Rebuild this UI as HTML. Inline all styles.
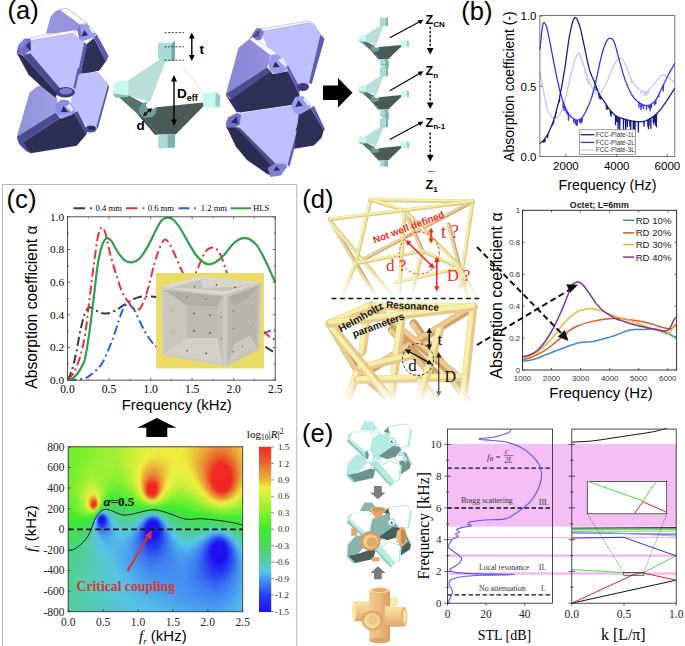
<!DOCTYPE html>
<html><head><meta charset='utf-8'><style>
html,body{margin:0;padding:0;background:#fff;width:685px;height:646px;overflow:hidden}
svg{display:block;font-family:"Liberation Sans",sans-serif}
</style></head><body>
<svg width='685' height='646' viewBox='0 0 685 646'>
<rect width='685' height='646' fill='#fff'/>
<text x='7.5' y='19.3' font-family='Liberation Sans, sans-serif' font-size='25.5' font-weight='normal' text-anchor='start' fill='#000' >(a)</text>
<polygon points='46.0,33.4 50.6,16.5 55.0,11.5 59.3,9.5 79.9,24.7 76.7,30.5 55.0,33.2' fill='#9694de' />
<polygon points='59.3,9.5 66.9,8.2 87.5,23.2 79.9,24.7' fill='#f8f8ff' stroke='#8a8aa8' stroke-width='0.5'/>
<polygon points='86.0,44.5 94.0,38.0 105.9,61.3 99.4,70.5 80.5,75.0' fill='#2e3058' />
<polygon points='94.0,37.5 96.7,34.2 108.6,55.9 105.9,62.4' fill='#5c5cb0' />
<polygon points='80.5,73.4 98.3,71.8 108.1,84.2 96.7,126.5 87.5,126.5 74.5,112.9 70.2,103.7 73.4,89.7 78.3,74.0' fill='#c0c0fe' />
<polygon points='108.1,84.2 109.2,87.0 97.8,128.7 96.2,127.0' fill='#5c5cb0' />
<defs><linearGradient id='llg' x1='0' x2='1'><stop offset='0' stop-color='#9090da'/><stop offset='1' stop-color='#a0a0e6'/></linearGradient></defs>
<polygon points='29.5,92.6 37.7,86.2 41.5,85.6 56.5,96.8 57.5,100.2 55.8,112.4 23.7,138.1 16.7,137.0' fill='url(#llg)' />
<polygon points='16.7,137.0 55.8,112.4 59.9,118.3 23.1,142.2' fill='#4e4c90' />
<polygon points='23.1,142.2 59.9,118.3 73.9,113.0 86.7,134.1 76.8,145.7 30.7,153.3 26.0,148.6' fill='#2c2e56' />
<polygon points='73.9,113.0 77.4,111.3 87.9,131.7 85.6,134.1' fill='#4e4c90' />
<polygon points='16.7,137.0 23.1,140.5 27.2,148.6 30.7,153.3 26.0,151.0 19.0,144.0' fill='#4a4aa0' />
<polygon points='30.5,40.0 72.1,32.6 84.2,41.8 78.3,74.3 74.4,88.5 60.3,88.4 30.1,53.1' fill='#c0c0fe' />
<polygon points='29.8,37.8 74.0,30.0 76.1,32.8 30.8,40.6' fill='#f8f8ff' stroke='#8a8aa8' stroke-width='0.4'/>
<polygon points='84.2,41.8 87.0,45.6 80.5,74.3 77.7,74.3' fill='#5c5cb0' />
<polygon points='77.7,68.0 80.1,68.0 75.6,88.6 73.2,88.6' fill='#5c5cb0' />
<polygon points='30.1,53.1 60.3,88.4 57.8,93.4 22.6,55.6' fill='#4e4c90' />
<polygon points='22.6,55.6 57.8,93.4 55.3,97.4 41.2,86.3 28.6,74.8 16.5,52.6' fill='#2a2c52' />
<polygon points='16.5,52.6 18.5,45.0 24.5,38.5 30.5,38.8 31.0,50.0 24.0,55.5' fill='#6c6cc8' />
<polygon points='18.5,45.0 24.5,38.5 27.0,41.0 21.5,50.0' fill='#8484dc' />
<polygon points='26.0,46.0 30.5,41.0 30.5,51.0' fill='#30306c' />
<polygon points='77.2,29.4 79.9,24.5 87.5,24.0 96.2,33.7 94.0,37.5 82.6,41.3 79.4,38.6' fill='#9a9aea'/>
<polygon points='81.5,36.4 84.2,29.9 88.0,35.3' fill='#28285c'/>
<polygon points='88.5,27.5 91.5,26.5 95.0,32.5 92.5,33.5' fill='#e6e6ff'/>
<polygon points='77.2,29.4 79.9,24.5 81.5,36.4 79.4,38.6' fill='#7474d4'/>
<ellipse cx='65.3' cy='92.3' rx='9.6' ry='5.2' fill='#3c3c80'/>
<ellipse cx='65.8' cy='91.2' rx='6.5' ry='3.2' fill='#7c7cd0'/>
<polygon points='55.8,103.7 61.1,99.6 68.1,100.2 75.1,109.5 72.7,114.2 61.1,118.9 55.8,112.4' fill='#8c8ce4'/>
<polygon points='61.1,111.9 63.4,106.0 68.1,111.9' fill='#28285c'/>
<polygon points='65.7,106.6 69.8,103.7 73.9,109.5 71.6,111.9' fill='#e6e6ff'/>
<polygon points='58.1,114.8 71.6,113.0 72.7,114.8 61.1,118.3' fill='#a4a4f0' />
<ellipse cx='90.7' cy='129' rx='6' ry='3.6' fill='#4c4c98'/>
<ellipse cx='91.5' cy='128' rx='3.8' ry='2' fill='#2a2a60'/>
<polygon points='260.5,30.5 309.5,22.3 313.9,23.5 320.5,33.4 323.8,37.8 310.6,83.9 300.0,88.0 288.0,71.3 270.3,55.0' fill='#c0c0fe' />
<polygon points='259.5,29.2 309.5,20.6 310.5,22.6 261.5,31.5' fill='#f8f8ff' stroke='#8a8aa8' stroke-width='0.4'/>
<polygon points='320.5,34.5 324.5,38.9 311.7,83.9 309.1,82.8' fill='#5c5cb0' />
<polygon points='249.3,39.0 256.3,28.2 260.7,28.2 263.9,32.0 261.4,39.6 253.7,41.5' fill='#7878cc' />
<polygon points='252.5,37.0 256.9,30.7 259.8,30.7 258.6,36.8' fill='#4a4a96' />
<polygon points='231.5,96.7 267.1,67.5 272.8,73.9 288.0,71.3 299.5,94.2 298.0,104.0 240.0,112.5 229.6,100.0' fill='#2e3058' />
<polygon points='286.1,66.3 288.0,65.6 300.7,89.1 298.8,94.2' fill='#5c5cb0' />
<defs><linearGradient id='rlg' x1='0' x2='1'><stop offset='0' stop-color='#8884d4'/><stop offset='1' stop-color='#9490de'/></linearGradient></defs>
<polygon points='238.5,47.8 249.3,39.0 270.3,54.8 267.1,67.5 231.5,96.7 225.8,94.2' fill='url(#rlg)' />
<polygon points='249.3,39.0 252.5,37.2 277.9,53.8 270.3,55.3' fill='#f8f8ff' stroke='#8a8aa8' stroke-width='0.4'/>
<polygon points='225.8,94.2 267.1,67.5 270.5,71.5 231.5,99.5' fill='#4e4c90' />
<polygon points='224.9,93.8 230.8,99.7 238.2,107.1 241.1,112.2 236.7,112.2 232.3,105.6' fill='#303070' />
<polygon points='267.7,62.4 270.9,55.5 277.9,54.2 288.0,65.6 286.1,71.3 275.3,73.9 270.3,71.3' fill='#9c9cec'/>
<polygon points='272.8,67.5 275.3,61.8 279.8,66.9' fill='#28285c'/>
<polygon points='277.9,59.9 283.0,57.4 287.4,65.0 284.9,66.9' fill='#e6e6ff'/>
<ellipse cx='303' cy='87' rx='6' ry='4' fill='#3c3c80'/>
<polygon points='241.1,112.9 291.1,105.6 300.7,116.6 287.4,165.1 274.9,163.7 239.6,127.6 238.2,121.8' fill='#c0c0fe' />
<polygon points='300.7,116.6 302.4,118.1 289.6,166.6 287.4,165.1' fill='#5c5cb0' />
<polygon points='298.5,114.6 310.6,108.0 323.8,130.0 321.6,137.7 313.9,145.4 294.2,148.7 298.5,116.8' fill='#2e3058' />
<polygon points='310.6,108.0 313.9,105.8 324.9,128.9 323.8,131.1' fill='#5c5cb0' />
<polygon points='291.1,105.6 302.0,105.6 302.0,129.1 295.5,130.6 300.7,116.6' fill='#2e3058' />
<polygon points='225.7,125.4 236.7,127.6 274.9,163.7 270.5,175.4 266.1,173.2 247.0,160.0 236.0,146.8' fill='#2a2c52' />
<polygon points='236.0,126.9 239.6,127.6 275.7,163.7 272.7,167.4' fill='#4e4c90' />
<polygon points='225.7,124.0 227.9,117.4 236.7,112.9 241.1,114.4 239.6,124.7 235.2,127.6 227.9,127.6' fill='#7070cc' />
<polygon points='230.8,122.5 236.7,116.6 238.2,124.0' fill='#2a2a5e' />
<polygon points='267.6,168.1 274.2,163.7 285.2,163.7 287.4,166.6 280.8,175.4 270.5,176.9' fill='#8080d4' />
<polygon points='273.5,171.0 276.4,165.9 280.1,170.3' fill='#2a2a5e' />
<polygon points='290.9,105.8 295.3,97.1 302.9,96.0 310.6,104.7 309.5,109.1 299.6,114.6 294.2,112.4' fill='#9c9cec'/>
<polygon points='295.3,106.9 298.5,100.3 302.9,105.8' fill='#28285c'/>
<polygon points='302.9,99.2 306.2,97.5 310.6,104.7 307.8,105.8' fill='#e6e6ff'/>
<defs><g id="ucell"><polygon points='165.2,60.1 177.1,60.1 203.7,93.2 203.7,103.6 154.1,108.2 149.3,102.0' fill='#ffffff' stroke='#9a9a9a' stroke-width='0.3'/><polygon points='159.8,59.3 125.5,82.3 128.4,95.7 150.0,102.0 166.0,60.1' fill='#b8e0d8' /><polygon points='151.4,107.8 203.7,102.6 203.7,106.1 175.7,134.6 157.7,134.6 144.3,118.3' fill='#4a5a56' /><polygon points='113.4,92.1 128.4,95.3 151.4,107.4 144.3,118.3 136.4,113.0' fill='#5a706c' /><polygon points='136.4,113.0 144.3,118.3 157.7,134.6 155.2,135.0' fill='#3e4e4a' /><ellipse cx='147.9' cy='109.9' rx='8.8' ry='7.9' fill='#6e9c96' /><ellipse cx='151.4' cy='105.3' rx='5.4' ry='3.8' fill='#ffffff' /><polygon points='158.3,43.4 162.5,40.9 175.0,40.9 175.0,60.8 162.5,60.8 158.3,58.1' fill='#8ec8c0' /><polygon points='158.3,43.4 162.5,40.9 175.0,40.9 171.5,43.4' fill='#e4fbf8' /><polygon points='158.3,43.4 171.5,43.4 171.5,60.8 159.8,60.1' fill='#a6dcd4' /><polygon points='171.5,43.4 175.0,40.9 175.0,59.3 171.5,60.8' fill='#78aca6' /><polygon points='113.4,82.7 125.9,80.6 128.4,82.7 128.4,95.7 115.5,96.9 112.9,93.2' fill='#c8f8f2' /><polygon points='112.9,93.2 128.4,95.7 128.4,96.9 115.5,97.8' fill='#84beb6' /><polygon points='202.2,93.6 215.8,92.1 220.4,95.7 219.6,107.8 203.7,107.4' fill='#c8f8f2' /><polygon points='215.8,92.1 220.4,95.7 219.6,107.8 215.4,105.7' fill='#92ccc4' /><polygon points='158.3,134.6 175.0,134.6 175.0,147.5 158.3,148.6' fill='#a6dcd4' /><polygon points='167.7,134.6 175.0,134.6 175.0,147.5 167.7,148.0' fill='#7cb4ac' /></g></defs>
<use href='#ucell'/>
<g stroke='#333' stroke-width='0.9' stroke-dasharray='2.2 1.4' fill='none'>
<line x1='164.5' y1='32.6' x2='184' y2='32.6'/><line x1='164.5' y1='46.8' x2='184' y2='46.8'/><line x1='164.5' y1='60.2' x2='184' y2='60.2'/>
</g>
<g stroke='#000' stroke-width='1.4'>
<line x1='191.8' y1='36' x2='191.8' y2='58'/>
<line x1='174' y1='79' x2='174' y2='122'/>
<line x1='144.5' y1='114.5' x2='150.5' y2='109.5'/>
</g>
<polygon points='191.8,32.6 188.9,38.5 194.7,38.5' fill='#000'/><polygon points='191.8,61 188.9,55 194.7,55' fill='#000'/>
<polygon points='174,75 171,81.5 177,81.5' fill='#000'/><polygon points='174,126 171,119.5 177,119.5' fill='#000'/>
<polygon points='143,116 144.5,111.8 147.3,115.2' fill='#000'/><polygon points='152,108.2 147.7,109 150.6,112.4' fill='#000'/>
<text x='199.5' y='53.5' font-family='Liberation Sans, sans-serif' font-size='13.5' font-weight='bold' text-anchor='start' fill='#000' >t</text>
<text x='177' y='97.8' font-family='Liberation Sans, sans-serif' font-size='13.5' font-weight='bold'>D<tspan font-size='9' dy='3'>eff</tspan></text>
<text x='136.6' y='129.8' font-family='Liberation Sans, sans-serif' font-size='13.5' font-weight='bold' text-anchor='start' fill='#000' >d</text>
<polygon points='323,85.5 338,85.5 338,78 352.5,92.7 338,107.5 338,100 323,100' fill='#000'/>
<use href='#ucell' transform='translate(305.8,-1.5) scale(0.469,0.452)'/>
<use href='#ucell' transform='translate(305.8,48.7) scale(0.469,0.452)'/>
<use href='#ucell' transform='translate(305.8,99.7) scale(0.469,0.452)'/>
<rect x='381.6' y='60.5' width='7' height='8' fill='#a6dcd4'/><rect x='385.5' y='60.5' width='3' height='8' fill='#7cb4ac'/>
<line x1='381.6' y1='64.5' x2='388.6' y2='64.5' stroke='#5a8a84' stroke-width='0.4'/>
<rect x='381.6' y='111.5' width='7' height='8' fill='#a6dcd4'/><rect x='385.5' y='111.5' width='3' height='8' fill='#7cb4ac'/>
<line x1='381.6' y1='115.5' x2='388.6' y2='115.5' stroke='#5a8a84' stroke-width='0.4'/>
<line x1='389.8' y1='37.8' x2='420' y2='21.599999999999998' stroke='#000' stroke-width='1.1'/>
<polygon points='423.5,19.7 417.6,20.2 420.3,24.299999999999997' fill='#000'/>
<line x1='389.8' y1='90.8' x2='420' y2='73.2' stroke='#000' stroke-width='1.1'/>
<polygon points='423.5,71.3 417.6,71.8 420.3,75.89999999999999' fill='#000'/>
<line x1='389.8' y1='139.5' x2='420' y2='123.30000000000001' stroke='#000' stroke-width='1.1'/>
<polygon points='423.5,121.4 417.6,121.9 420.3,126.0' fill='#000'/>
<text x='425.5' y='24' font-family='Liberation Sans, sans-serif' font-size='12.5' font-weight='bold'>Z<tspan font-size='8' dy='2.5'>CN</tspan></text>
<text x='425.5' y='75' font-family='Liberation Sans, sans-serif' font-size='12.5' font-weight='bold'>Z<tspan font-size='8' dy='2.5'>n</tspan></text>
<text x='425.5' y='126.5' font-family='Liberation Sans, sans-serif' font-size='12.5' font-weight='bold'>Z<tspan font-size='8' dy='2.5'>n-1</tspan></text>
<text x='425.5' y='189' font-family='Liberation Sans, sans-serif' font-size='12.5' font-weight='bold'>Z<tspan font-size='8' dy='2.5'>1</tspan></text>
<text x='428' y='172' font-family='Liberation Sans, sans-serif' font-size='8' font-weight='bold' text-anchor='start' fill='#000' >...</text>
<line x1='430.2' y1='26.7' x2='430.2' y2='48' stroke='#000' stroke-width='1.3' stroke-dasharray='2.6 1.6'/>
<polygon points='430.2,54.5 426.8,48 433.6,48' fill='#000'/>
<line x1='430.2' y1='81' x2='430.2' y2='102.5' stroke='#000' stroke-width='1.3' stroke-dasharray='2.6 1.6'/>
<polygon points='430.2,109.0 426.8,102.5 433.6,102.5' fill='#000'/>
<line x1='430.2' y1='132.5' x2='430.2' y2='155' stroke='#000' stroke-width='1.3' stroke-dasharray='2.6 1.6'/>
<polygon points='430.2,161.5 426.8,155 433.6,155' fill='#000'/>
<text x='461.3' y='19.6' font-family='Liberation Sans, sans-serif' font-size='25.5' font-weight='normal' text-anchor='start' fill='#000' >(b)</text>
<text transform='translate(514.3,86.5) rotate(-90)' font-family='Liberation Sans, sans-serif' font-size='13.9' text-anchor='middle'>Absorption coefficient (-)</text>
<text x='607.5' y='189.5' font-family='Liberation Sans, sans-serif' font-size='14.2' font-weight='normal' text-anchor='middle' fill='#000' >Frequency (Hz)</text>
<text x='536.5' y='20.3' font-family='Liberation Sans, sans-serif' font-size='11.5' font-weight='normal' text-anchor='end' fill='#000' >1.0</text>
<text x='536.5' y='90.5' font-family='Liberation Sans, sans-serif' font-size='11.5' font-weight='normal' text-anchor='end' fill='#000' >0.5</text>
<text x='536.5' y='160.7' font-family='Liberation Sans, sans-serif' font-size='11.5' font-weight='normal' text-anchor='end' fill='#000' >0.0</text>
<text x='565.9' y='169.5' font-family='Liberation Sans, sans-serif' font-size='11.5' font-weight='normal' text-anchor='middle' fill='#000' >2000</text>
<text x='616.7' y='169.5' font-family='Liberation Sans, sans-serif' font-size='11.5' font-weight='normal' text-anchor='middle' fill='#000' >4000</text>
<text x='667.4' y='169.5' font-family='Liberation Sans, sans-serif' font-size='11.5' font-weight='normal' text-anchor='middle' fill='#000' >6000</text>
<g fill='none' stroke-width='1.3' stroke-linejoin='round'>
<path d='M539.9,71.8 L540.1,72.8 L540.3,74.0 L540.6,75.5 L540.9,77.1 L541.2,78.8 L541.5,80.7 L541.9,82.6 L542.2,84.5 L542.6,86.4 L543.0,88.3 L543.3,90.0 L543.6,91.7 L543.9,93.2 L544.2,94.8 L544.5,96.4 L544.8,97.9 L545.1,99.5 L545.4,101.0 L545.7,102.5 L546.0,103.9 L546.3,105.3 L546.6,106.6 L547.0,107.9 L547.3,109.0 L547.7,110.0 L548.1,111.0 L548.5,112.0 L548.9,112.8 L549.3,113.6 L549.7,114.4 L550.2,115.1 L550.6,115.7 L551.0,116.3 L551.4,116.8 L551.9,117.3 L552.3,117.7 L552.7,118.0 L553.1,118.3 L553.5,118.5 L553.9,118.6 L554.3,118.7 L554.8,118.7 L555.2,118.7 L555.6,118.6 L556.0,118.5 L556.4,118.3 L556.8,118.0 L557.2,117.7 L557.6,117.3 L558.1,116.8 L558.5,116.3 L558.9,115.7 L559.3,115.1 L559.7,114.4 L560.1,113.6 L560.5,112.8 L560.9,112.0 L561.4,111.0 L561.8,110.0 L562.2,109.0 L562.6,107.9 L563.0,106.7 L563.4,105.4 L563.8,104.0 L564.2,102.6 L564.7,101.2 L565.1,99.7 L565.5,98.1 L565.9,96.5 L566.3,94.9 L566.7,93.3 L567.1,91.7 L567.5,90.0 L567.9,88.2 L568.3,86.3 L568.7,84.4 L569.1,82.4 L569.5,80.4 L569.9,78.5 L570.3,76.5 L570.8,74.6 L571.2,72.8 L571.6,71.0 L572.1,69.4 L572.6,67.7 L573.1,66.0 L573.6,64.3 L574.1,62.5 L574.6,60.8 L575.2,59.2 L575.7,57.7 L576.3,56.4 L576.8,55.2 L577.3,54.3 L577.8,53.6 L578.3,53.3 L578.7,53.2 L579.2,53.5 L579.6,54.1 L580.0,54.8 L580.2,58.2 L580.3,54.8 L580.4,55.8 L580.8,56.9 L581.2,58.1 L581.6,59.4 L581.8,61.0 L581.9,59.4 L582.0,60.7 L582.4,62.0 L582.6,64.4 L582.7,62.0 L582.8,63.3 L583.2,64.4 L583.6,65.5 L584.1,66.7 L584.5,68.0 L584.9,69.3 L585.0,73.0 L585.2,69.3 L585.3,70.6 L585.7,71.9 L586.1,73.2 L586.5,74.6 L586.9,75.8 L587.1,80.0 L587.2,75.8 L587.4,77.0 L587.8,78.2 L588.2,79.3 L588.3,83.8 L588.5,79.3 L588.6,80.3 L589.0,81.3 L589.4,82.2 L589.8,83.1 L590.2,84.0 L590.7,84.8 L591.1,85.7 L591.5,86.4 L591.9,87.2 L592.3,87.9 L592.7,88.5 L593.1,89.2 L593.5,89.8 L594.0,90.4 L594.4,91.0 L594.8,91.6 L595.2,92.1 L595.6,92.6 L596.0,93.0 L596.4,93.4 L596.8,93.7 L597.3,93.9 L597.7,94.1 L598.1,94.1 L598.5,94.1 L598.9,93.9 L599.3,93.7 L599.7,93.4 L600.1,93.0 L600.6,92.6 L601.0,92.1 L601.4,91.6 L601.8,91.0 L602.2,90.4 L602.6,89.8 L603.0,89.2 L603.4,88.5 L603.8,87.9 L604.2,87.2 L604.6,86.4 L605.0,85.7 L605.4,84.8 L605.8,84.0 L606.2,83.1 L606.7,82.2 L607.1,81.3 L607.5,80.3 L608.0,79.3 L608.5,78.2 L608.9,77.0 L609.4,75.7 L610.0,74.4 L610.5,73.0 L611.0,71.6 L611.5,70.2 L612.1,68.9 L612.6,67.6 L613.1,66.5 L613.7,65.4 L614.2,64.4 L614.7,63.6 L615.2,62.7 L615.8,62.0 L616.3,61.3 L616.8,60.6 L617.4,60.0 L617.9,59.5 L618.4,59.1 L618.9,58.7 L619.4,58.4 L619.9,58.3 L620.4,58.2 L620.8,58.3 L621.3,58.4 L621.7,58.7 L622.1,59.1 L622.5,59.5 L622.8,60.0 L623.2,60.6 L623.6,61.3 L624.0,62.0 L624.4,62.7 L624.9,63.6 L625.3,64.4 L625.8,65.4 L626.3,66.5 L626.8,67.6 L627.2,68.9 L627.7,70.2 L628.3,71.6 L628.8,73.0 L629.3,74.4 L629.8,75.7 L630.4,77.0 L630.9,78.2 L631.1,79.8 L631.2,78.2 L631.5,79.3 L631.7,83.2 L631.8,79.3 L632.1,80.3 L632.7,81.3 L633.3,82.3 L633.9,83.2 L634.5,84.1 L635.1,85.0 L635.8,85.8 L636.4,86.6 L637.1,87.3 L637.7,88.0 L638.3,88.6 L638.9,89.2 L639.6,89.7 L640.2,90.1 L640.8,90.6 L640.9,94.2 L641.1,90.6 L641.4,90.9 L642.0,91.2 L642.7,91.5 L643.3,91.7 L643.9,91.8 L644.0,95.4 L644.2,91.8 L644.5,91.9 L645.1,91.9 L645.7,91.8 L645.9,95.4 L646.0,91.8 L646.4,91.7 L647.0,91.4 L647.1,94.8 L647.3,91.4 L647.6,91.0 L648.2,90.5 L648.4,92.5 L648.5,90.5 L648.8,90.0 L649.5,89.3 L650.1,88.6 L650.7,87.9 L651.3,87.2 L651.9,86.4 L652.6,85.7 L653.2,84.9 L653.8,84.2 L654.4,83.5 L655.0,82.7 L655.7,81.9 L656.3,81.1 L657.0,80.2 L657.6,79.4 L658.2,78.5 L658.8,77.8 L659.5,77.1 L660.1,76.4 L660.6,75.9 L661.2,75.6 L661.8,75.3 L662.3,75.1 L662.8,75.1 L663.3,75.1 L663.8,75.1 L664.3,75.3 L664.8,75.4 L665.3,75.7 L665.8,75.9 L666.3,76.2 L666.9,76.5 L667.4,76.8 L668.0,77.2 L668.7,77.6 L669.4,78.1 L670.1,78.7 L670.8,79.3 L671.5,80.0 L672.2,80.6 L672.9,81.2 L673.5,81.8 L674.0,82.3 L674.5,82.7 L674.8,83.0' stroke='#c2c8f6'/>
<path d='M539.9,49.6 L540.0,48.4 L540.2,46.9 L540.4,45.1 L540.6,43.1 L540.8,41.0 L541.0,38.7 L541.3,36.4 L541.5,34.2 L541.7,32.1 L542.0,30.2 L542.2,28.6 L542.4,27.3 L542.6,26.3 L542.7,25.4 L542.9,24.6 L543.0,24.1 L543.2,23.6 L543.3,23.2 L543.5,23.0 L543.6,22.8 L543.8,22.7 L544.0,22.7 L544.2,22.7 L544.4,22.8 L544.6,22.9 L544.8,23.1 L545.0,23.3 L545.2,23.6 L545.4,24.0 L545.7,24.5 L545.9,25.0 L546.2,25.7 L546.4,26.5 L546.7,27.4 L547.0,28.5 L547.3,29.8 L547.7,31.2 L548.0,32.9 L548.4,34.7 L548.8,36.7 L549.3,38.8 L549.7,41.0 L550.1,43.3 L550.6,45.6 L551.0,47.9 L551.4,50.2 L551.9,52.4 L552.3,54.5 L552.7,56.6 L553.1,58.7 L553.5,60.8 L553.9,63.0 L554.3,65.1 L554.8,67.2 L555.2,69.3 L555.6,71.4 L556.0,73.4 L556.4,75.4 L556.8,77.4 L557.2,79.3 L557.6,81.1 L558.1,82.9 L558.5,84.7 L558.9,86.5 L559.3,88.3 L559.7,90.0 L560.1,91.6 L560.5,93.2 L560.9,94.8 L561.4,96.3 L561.8,97.7 L562.2,99.1 L562.6,100.4 L563.0,101.6 L563.2,106.8 L563.3,101.6 L563.4,102.8 L563.6,108.5 L563.7,102.8 L563.8,104.0 L564.0,110.4 L564.1,104.0 L564.2,105.1 L564.7,106.1 L565.1,107.1 L565.5,108.1 L565.6,110.5 L565.8,108.1 L565.9,109.0 L566.3,109.8 L566.5,112.9 L566.6,109.8 L566.7,110.7 L567.1,111.5 L567.6,112.2 L567.7,114.5 L567.9,112.2 L568.0,112.9 L568.4,113.5 L568.5,120.3 L568.7,113.5 L568.8,114.1 L569.2,114.7 L569.6,115.2 L570.0,115.6 L570.4,116.1 L570.9,116.5 L571.3,116.9 L571.7,117.3 L572.1,117.7 L572.5,118.0 L572.9,118.3 L573.3,118.6 L573.7,118.9 L573.9,122.5 L574.0,118.9 L574.2,119.2 L574.6,119.4 L575.0,119.6 L575.4,119.8 L575.5,123.9 L575.7,119.8 L575.8,119.9 L576.2,120.0 L576.4,125.2 L576.5,120.0 L576.6,120.1 L577.0,120.1 L577.2,125.3 L577.3,120.1 L577.5,120.1 L577.9,120.1 L578.3,120.0 L578.7,119.9 L579.1,119.8 L579.5,119.6 L579.7,122.0 L579.8,119.6 L579.9,119.4 L580.3,119.1 L580.8,118.8 L580.9,123.2 L581.1,118.8 L581.2,118.5 L581.6,118.1 L581.7,122.0 L581.9,118.1 L582.0,117.7 L582.1,121.6 L582.3,117.7 L582.4,117.2 L582.8,116.6 L583.2,116.0 L583.6,115.4 L584.1,114.7 L584.5,113.9 L584.9,113.2 L585.3,112.4 L585.7,111.6 L586.1,110.7 L586.5,109.9 L586.9,109.0 L587.4,108.1 L587.8,107.2 L588.2,106.3 L588.6,105.4 L589.0,104.5 L589.4,103.5 L589.8,102.5 L590.2,101.4 L590.7,100.3 L591.1,99.1 L591.5,97.9 L591.9,96.6 L592.3,95.2 L592.7,93.8 L593.1,92.2 L593.5,90.6 L594.0,89.0 L594.4,87.3 L594.8,85.6 L595.2,83.9 L595.6,82.1 L596.0,80.3 L596.4,78.6 L596.8,76.8 L597.3,75.0 L597.7,73.1 L598.1,71.2 L598.5,69.2 L598.9,67.3 L599.3,65.3 L599.7,63.3 L600.1,61.4 L600.6,59.5 L601.0,57.8 L601.4,56.1 L601.8,54.5 L602.2,53.0 L602.6,51.6 L603.1,50.2 L603.5,48.9 L603.9,47.7 L604.4,46.5 L604.8,45.3 L605.2,44.3 L605.6,43.3 L606.0,42.4 L606.4,41.6 L606.8,40.9 L607.1,40.3 L607.4,39.8 L607.8,39.4 L608.1,39.0 L608.4,38.8 L608.7,38.6 L609.0,38.5 L609.3,38.4 L609.6,38.3 L609.9,38.3 L610.2,38.4 L610.5,38.4 L610.8,38.5 L611.1,38.5 L611.4,38.6 L611.7,38.7 L612.0,38.8 L612.2,39.0 L612.5,39.3 L612.8,39.7 L613.2,40.1 L613.5,40.7 L613.8,41.3 L614.2,42.1 L614.5,43.1 L614.9,44.2 L615.3,45.5 L615.7,46.9 L616.2,48.4 L616.6,50.0 L617.0,51.6 L617.4,53.2 L617.9,54.8 L618.3,56.4 L618.7,58.0 L619.1,59.5 L619.5,60.9 L620.0,62.4 L620.4,63.9 L620.8,65.4 L621.2,66.9 L621.6,68.4 L622.0,69.9 L622.4,71.4 L622.8,72.8 L623.3,74.2 L623.7,75.5 L624.1,76.8 L624.5,78.0 L624.9,79.2 L625.3,80.3 L625.7,81.4 L626.1,82.5 L626.6,83.5 L627.0,84.5 L627.4,85.5 L627.8,86.5 L628.2,87.4 L628.6,88.3 L629.0,89.2 L629.4,90.0 L629.8,90.9 L630.2,91.7 L630.6,92.4 L631.0,93.2 L631.4,93.9 L631.7,94.6 L632.2,95.3 L632.6,95.9 L633.0,96.6 L633.5,97.2 L634.0,97.8 L634.5,98.5 L635.1,99.1 L635.7,99.7 L636.3,100.3 L636.9,100.9 L637.5,101.4 L638.2,101.9 L638.8,102.4 L639.0,107.3 L639.1,102.4 L639.5,102.9 L640.1,103.3 L640.8,103.7 L640.9,109.7 L641.1,103.7 L641.4,104.0 L641.6,107.1 L641.7,104.0 L642.0,104.3 L642.7,104.6 L643.3,104.9 L643.4,108.5 L643.6,104.9 L643.9,105.1 L644.5,105.3 L645.1,105.4 L645.7,105.5 L646.4,105.6 L646.5,109.3 L646.7,105.6 L647.0,105.6 L647.6,105.6 L648.2,105.4 L648.8,105.3 L649.0,108.0 L649.1,105.3 L649.5,105.0 L650.1,104.8 L650.2,110.8 L650.4,104.8 L650.7,104.5 L651.3,104.1 L651.5,107.5 L651.6,104.1 L651.9,103.7 L652.6,103.2 L653.2,102.7 L653.8,102.1 L654.4,101.4 L654.6,104.9 L654.7,101.4 L655.0,100.7 L655.6,99.9 L655.8,103.7 L655.9,99.9 L656.3,99.1 L656.9,98.1 L657.5,97.1 L658.2,95.9 L658.8,94.6 L659.0,96.7 L659.1,94.6 L659.5,93.3 L660.1,91.9 L660.8,90.5 L661.4,89.1 L662.0,87.8 L662.6,86.5 L663.2,85.3 L663.3,91.1 L663.5,85.3 L663.7,84.2 L664.2,83.2 L664.7,82.3 L665.1,81.4 L665.5,80.6 L665.9,79.8 L666.2,79.0 L666.6,78.3 L667.0,77.5 L667.4,76.8 L667.8,76.0 L668.2,75.2 L668.6,74.3 L669.1,73.4 L669.7,72.4 L670.3,71.4 L670.8,70.3 L671.5,69.2 L672.1,68.1 L672.6,67.1 L673.2,66.1 L673.7,65.2 L674.2,64.4 L674.5,63.7 L674.8,63.2' stroke='#3636ec'/>
<path d='M539.9,143.6 L540.1,143.4 L540.4,143.2 L540.8,142.8 L541.2,142.5 L541.6,142.1 L542.1,141.7 L542.5,141.3 L543.0,140.8 L543.5,140.3 L543.7,142.4 L543.8,140.3 L544.0,139.8 L544.4,139.3 L544.9,138.7 L545.0,141.5 L545.2,138.7 L545.3,138.1 L545.7,137.5 L546.1,136.9 L546.5,136.3 L546.9,135.6 L547.3,134.9 L547.5,137.4 L547.6,134.9 L547.7,134.2 L547.9,135.7 L548.0,134.2 L548.2,133.4 L548.6,132.6 L549.0,131.8 L549.4,130.9 L549.8,130.0 L550.2,129.1 L550.6,128.1 L551.0,127.1 L551.5,126.1 L551.9,125.0 L552.3,123.9 L552.7,122.8 L552.8,124.8 L553.0,122.8 L553.1,121.6 L553.5,120.4 L553.7,122.9 L553.8,120.4 L553.9,119.1 L554.3,117.8 L554.8,116.4 L555.2,115.0 L555.3,117.2 L555.5,115.0 L555.6,113.6 L556.0,112.1 L556.1,113.5 L556.3,112.1 L556.4,110.5 L556.8,109.0 L557.2,107.4 L557.6,105.7 L558.1,104.0 L558.5,102.2 L558.6,103.2 L558.8,102.2 L558.9,100.4 L559.0,101.6 L559.2,100.4 L559.3,98.5 L559.4,101.5 L559.6,98.5 L559.7,96.6 L560.1,94.6 L560.5,92.6 L560.9,90.5 L561.4,88.3 L561.8,86.1 L562.2,83.9 L562.6,81.6 L563.0,79.2 L563.4,76.8 L563.8,74.4 L564.2,71.9 L564.7,69.4 L565.1,66.7 L565.5,63.9 L565.9,60.9 L566.3,57.9 L566.7,54.8 L567.1,51.7 L567.6,48.6 L568.0,45.6 L568.4,42.7 L568.8,40.0 L569.2,37.5 L569.6,35.2 L570.0,33.1 L570.4,31.1 L570.9,29.1 L571.3,27.3 L571.7,25.5 L572.1,23.9 L572.5,22.5 L572.9,21.2 L573.3,20.1 L573.7,19.1 L574.2,18.4 L574.6,17.9 L575.0,17.6 L575.4,17.5 L575.8,17.7 L576.2,18.1 L576.6,18.6 L577.0,19.3 L577.5,20.1 L577.9,21.0 L578.3,22.1 L578.7,23.2 L579.1,24.3 L579.5,25.5 L579.9,26.9 L580.3,28.3 L580.8,29.9 L581.2,31.7 L581.6,33.5 L582.0,35.4 L582.4,37.4 L582.8,39.3 L583.2,41.3 L583.6,43.3 L584.1,45.2 L584.5,47.1 L584.9,49.0 L585.3,50.9 L585.7,52.8 L586.1,54.8 L586.5,56.8 L586.9,58.8 L587.4,60.8 L587.8,62.7 L588.2,64.5 L588.6,66.2 L589.0,67.9 L589.4,69.4 L589.8,70.8 L590.2,72.0 L590.7,73.2 L591.1,74.2 L591.5,75.2 L591.9,76.2 L592.3,77.1 L592.7,78.0 L593.1,78.9 L593.5,79.8 L594.0,80.8 L594.4,81.8 L594.8,82.8 L595.2,83.9 L595.6,85.0 L596.0,86.1 L596.2,90.0 L596.3,86.1 L596.4,87.2 L596.8,88.3 L597.3,89.3 L597.7,90.4 L598.1,91.4 L598.5,92.4 L598.9,93.3 L599.1,96.5 L599.2,93.3 L599.3,94.1 L599.5,98.3 L599.6,94.1 L599.7,94.9 L600.1,95.7 L600.6,96.3 L600.7,98.9 L600.9,96.3 L601.0,97.0 L601.4,97.6 L601.8,98.2 L602.2,98.7 L602.6,99.3 L603.0,99.8 L603.5,100.4 L603.9,101.0 L604.3,101.6 L604.7,102.2 L605.1,102.8 L605.5,103.4 L605.8,104.0 L606.2,104.7 L606.4,108.7 L606.5,104.7 L606.6,105.3 L607.0,105.9 L607.1,109.5 L607.3,105.9 L607.4,106.5 L607.8,107.1 L608.3,107.7 L608.7,108.4 L609.2,109.0 L609.8,109.6 L610.3,110.3 L610.5,114.0 L610.6,110.3 L610.9,111.0 L611.1,116.2 L611.2,111.0 L611.5,111.6 L612.1,112.3 L612.8,113.0 L613.4,113.7 L614.1,114.3 L614.7,114.9 L615.4,115.5 L615.5,124.7 L615.7,115.5 L616.0,116.0 L616.2,121.2 L616.3,116.0 L616.7,116.4 L617.3,116.8 L617.4,121.5 L617.6,116.8 L617.9,117.1 L618.0,129.0 L618.2,117.1 L618.5,117.4 L618.6,121.5 L618.8,117.4 L619.0,117.6 L619.6,117.8 L619.8,129.4 L619.9,117.8 L620.2,118.0 L620.8,118.1 L621.4,118.2 L622.1,118.4 L622.7,118.5 L623.4,118.7 L623.5,129.6 L623.7,118.7 L624.1,118.9 L624.8,119.1 L625.6,119.3 L625.7,130.0 L625.9,119.3 L626.4,119.6 L627.2,119.8 L627.4,126.7 L627.5,119.8 L628.0,120.0 L628.9,120.3 L629.7,120.5 L629.9,126.0 L630.0,120.5 L630.6,120.7 L630.7,130.2 L630.9,120.7 L631.5,120.9 L632.3,121.1 L633.2,121.2 L633.3,128.8 L633.5,121.2 L634.0,121.4 L634.1,129.1 L634.3,121.4 L634.8,121.5 L635.0,129.9 L635.1,121.5 L635.7,121.6 L636.5,121.6 L637.4,121.7 L638.2,121.7 L638.4,131.9 L638.5,121.7 L639.1,121.8 L639.9,121.8 L640.8,121.7 L641.6,121.7 L642.4,121.6 L643.2,121.5 L643.9,121.4 L644.0,126.1 L644.2,121.4 L644.6,121.2 L645.3,121.0 L645.9,120.8 L646.5,120.5 L647.2,120.2 L647.8,119.9 L647.9,126.2 L648.1,119.9 L648.3,119.6 L648.5,128.8 L648.6,119.6 L648.9,119.2 L649.1,125.2 L649.2,119.2 L649.5,118.8 L650.1,118.5 L650.7,118.1 L650.9,128.4 L651.0,118.1 L651.3,117.7 L651.9,117.2 L652.6,116.8 L653.2,116.4 L653.3,122.2 L653.5,116.4 L653.8,115.9 L653.9,124.2 L654.1,115.9 L654.4,115.4 L655.0,114.9 L655.2,122.1 L655.3,114.9 L655.6,114.4 L655.8,125.4 L655.9,114.4 L656.3,113.9 L656.4,126.8 L656.6,113.9 L656.9,113.3 L657.5,112.7 L658.1,112.1 L658.7,111.5 L659.4,110.8 L660.0,110.1 L660.6,109.3 L661.2,108.6 L661.8,107.8 L662.4,107.0 L663.0,106.1 L663.6,105.3 L664.2,104.4 L664.9,103.5 L665.5,102.5 L666.2,101.6 L666.9,100.5 L667.6,99.3 L668.5,98.1 L669.3,96.8 L670.1,95.5 L671.0,94.1 L671.8,92.8 L672.5,91.6 L673.3,90.5 L673.9,89.5 L674.4,88.6 L674.8,87.9' stroke='#1c1c80'/>
</g>
<rect x='539.9' y='15.4' width='134.9' height='141.1' fill='none' stroke='#555' stroke-width='0.8'/>
<g stroke='#555' stroke-width='0.8'>
<line x1='539.9' y1='16.1' x2='542.5' y2='16.1'/>
<line x1='539.9' y1='86.3' x2='542.5' y2='86.3'/>
<line x1='539.9' y1='156.5' x2='542.5' y2='156.5'/>
<line x1='565.9' y1='156.5' x2='565.9' y2='153.9'/>
<line x1='616.7' y1='156.5' x2='616.7' y2='153.9'/>
<line x1='667.4' y1='156.5' x2='667.4' y2='153.9'/>
</g>
<rect x='579.4' y='129.8' width='56.2' height='24.6' fill='#fff' stroke='#666' stroke-width='0.6'/>
<line x1='580.6' y1='134.7' x2='594.3' y2='134.7' stroke='#1c1c80' stroke-width='1.3'/>
<text x='595.8' y='137.0' font-family='Liberation Sans, sans-serif' font-size='6.4' font-weight='normal' text-anchor='start' fill='#333' >FCC-Plate-1L</text>
<line x1='580.6' y1='142.4' x2='594.3' y2='142.4' stroke='#3636ec' stroke-width='1.3'/>
<text x='595.8' y='144.70000000000002' font-family='Liberation Sans, sans-serif' font-size='6.4' font-weight='normal' text-anchor='start' fill='#333' >FCC-Plate-2L</text>
<line x1='580.6' y1='150.1' x2='594.3' y2='150.1' stroke='#c2c8f6' stroke-width='1.3'/>
<text x='595.8' y='152.4' font-family='Liberation Sans, sans-serif' font-size='6.4' font-weight='normal' text-anchor='start' fill='#333' >FCC-Plate-3L</text>
<path d='M2.5,646 L2.5,184.5 L296.8,184.5 L296.8,646' fill='none' stroke='#b4b4b4' stroke-width='1'/>
<text x='6.5' y='208' font-family='Liberation Sans, sans-serif' font-size='25.7' font-weight='normal' text-anchor='start' fill='#000' >(c)</text>
<g fill='none' stroke-width='2'>
<path d='M73.5,208.3 H85 M90.2,208.3 H92' stroke='#3a3a3a'/>
<path d='M125.9,208.3 H137.5 M142.6,208.3 H144.4' stroke='#e8303a'/>
<path d='M178.5,208.3 H189.4 M194,208.3 H195.8' stroke='#2a5ee8'/>
<path d='M230.6,208.3 H251.2' stroke='#2ca04c'/>
</g>
<text x='95.6' y='211.3' font-family='Liberation Serif, serif' font-size='8.6' font-weight='normal' text-anchor='start' fill='#000' >0.4 mm</text>
<text x='147.7' y='211.3' font-family='Liberation Serif, serif' font-size='8.6' font-weight='normal' text-anchor='start' fill='#000' >0.6 mm</text>
<text x='200.8' y='211.3' font-family='Liberation Serif, serif' font-size='8.6' font-weight='normal' text-anchor='start' fill='#000' >1.2 mm</text>
<text x='253' y='211.3' font-family='Liberation Serif, serif' font-size='8.6' font-weight='normal' text-anchor='start' fill='#000' >HLS</text>
<text transform='translate(36.8,307.1) rotate(-90)' font-family='Liberation Sans, sans-serif' font-size='15.7' text-anchor='middle'>Absorption coefficient α</text>
<text x='176.8' y='410.2' font-family='Liberation Sans, sans-serif' font-size='14.9' font-weight='normal' text-anchor='middle' fill='#000' >Frequency (kHz)</text>
<text x='64.2' y='384.0' font-family='Liberation Serif, serif' font-size='11.3' font-weight='normal' text-anchor='end' fill='#000' >0.0</text>
<text x='64.2' y='351.32' font-family='Liberation Serif, serif' font-size='11.3' font-weight='normal' text-anchor='end' fill='#000' >0.2</text>
<text x='64.2' y='318.64' font-family='Liberation Serif, serif' font-size='11.3' font-weight='normal' text-anchor='end' fill='#000' >0.4</text>
<text x='64.2' y='285.96' font-family='Liberation Serif, serif' font-size='11.3' font-weight='normal' text-anchor='end' fill='#000' >0.6</text>
<text x='64.2' y='253.28' font-family='Liberation Serif, serif' font-size='11.3' font-weight='normal' text-anchor='end' fill='#000' >0.8</text>
<text x='64.2' y='220.6' font-family='Liberation Serif, serif' font-size='11.3' font-weight='normal' text-anchor='end' fill='#000' >1.0</text>
<text x='67.5' y='393.3' font-family='Liberation Serif, serif' font-size='11.5' font-weight='normal' text-anchor='middle' fill='#000' >0.0</text>
<text x='109.03999999999999' y='393.3' font-family='Liberation Serif, serif' font-size='11.5' font-weight='normal' text-anchor='middle' fill='#000' >0.5</text>
<text x='150.57999999999998' y='393.3' font-family='Liberation Serif, serif' font-size='11.5' font-weight='normal' text-anchor='middle' fill='#000' >1.0</text>
<text x='192.12' y='393.3' font-family='Liberation Serif, serif' font-size='11.5' font-weight='normal' text-anchor='middle' fill='#000' >1.5</text>
<text x='233.66' y='393.3' font-family='Liberation Serif, serif' font-size='11.5' font-weight='normal' text-anchor='middle' fill='#000' >2.0</text>
<text x='275.2' y='393.3' font-family='Liberation Serif, serif' font-size='11.5' font-weight='normal' text-anchor='middle' fill='#000' >2.5</text>
<defs><clipPath id='cplot'><rect x='67.5' y='214' width='208' height='167'/></clipPath></defs>
<g fill='none' stroke-width='2' clip-path='url(#cplot)' stroke-linejoin='round'>
<path d='M67.5,380.2 C68.2,378.6 70.3,375.1 71.8,370.6 C73.2,366.1 74.7,359.9 76.2,353.0 C77.7,346.1 79.1,336.0 80.6,329.4 C82.1,322.8 83.5,316.9 85.0,313.2 C86.5,309.5 87.7,307.9 89.4,307.4 C91.1,306.9 93.1,309.3 95.3,310.3 C97.5,311.3 100.4,312.7 102.6,313.2 C104.8,313.7 106.3,313.7 108.5,313.2 C110.7,312.7 113.5,311.6 115.9,310.3 C118.4,309.0 120.8,306.9 123.2,305.3 C125.7,303.7 127.9,302.0 130.6,300.6 C133.3,299.2 136.5,297.7 139.4,297.0 C142.3,296.3 145.3,296.5 148.2,296.5 C151.1,296.5 153.4,296.4 157.0,297.0 C160.6,297.6 162.8,297.8 170.0,300.0 C177.2,302.2 188.3,305.0 200.0,310.0 C211.7,315.0 229.3,324.0 240.0,330.0 C250.7,336.0 258.1,342.2 264.0,346.0 C269.9,349.8 273.3,351.8 275.2,353.0' stroke='#3a3a3a' stroke-dasharray='9 3.5 2 3.5'/>
<path d='M67.5,380.2 C70.2,380.0 79.3,379.9 83.5,378.8 C87.7,377.7 89.5,375.9 92.4,373.5 C95.4,371.1 98.8,368.1 101.2,364.7 C103.6,361.3 105.0,357.4 107.0,353.0 C109.0,348.6 111.0,343.6 113.0,338.2 C115.0,332.8 117.1,325.5 118.8,320.6 C120.5,315.7 121.7,311.5 123.2,308.8 C124.7,306.1 125.9,304.4 127.6,304.4 C129.3,304.4 131.5,306.1 133.5,308.8 C135.5,311.5 137.4,316.7 139.4,320.6 C141.4,324.5 143.3,329.0 145.3,332.4 C147.3,335.8 149.2,338.8 151.2,341.2 C153.1,343.6 153.9,344.7 157.0,347.0 C160.1,349.3 162.8,353.7 170.0,355.0 C177.2,356.3 188.3,356.7 200.0,355.0 C211.7,353.3 229.3,348.6 240.0,345.0 C250.7,341.4 258.1,335.9 264.0,333.3 C269.9,330.7 273.3,330.1 275.2,329.5' stroke='#2a5ee8' stroke-dasharray='9 3.5 2 3.5'/>
<path d='M67.5,380.2 C68.5,379.1 71.3,376.8 73.2,373.5 C75.1,370.2 77.0,366.7 79.0,360.3 C81.0,353.9 83.3,345.4 85.0,335.3 C86.7,325.2 87.9,311.8 89.4,300.0 C90.9,288.2 92.3,275.5 93.8,264.7 C95.3,253.9 96.8,241.5 98.2,235.3 C99.6,229.1 100.8,227.7 102.0,227.4 C103.2,227.2 104.3,229.5 105.6,233.8 C106.9,238.1 108.3,246.4 110.0,253.0 C111.7,259.6 113.9,267.1 115.9,273.5 C117.9,279.9 119.6,286.3 121.8,291.2 C124.0,296.1 126.8,300.0 129.0,303.0 C131.2,306.0 133.0,308.7 135.0,309.4 C137.0,310.1 138.7,310.9 140.9,307.4 C143.1,303.9 146.0,295.3 148.2,288.2 C150.4,281.1 152.1,271.6 154.1,264.7 C156.1,257.8 158.2,251.2 160.0,247.0 C161.8,242.8 163.1,240.4 164.6,239.7 C166.1,239.0 167.3,240.4 169.0,243.0 C170.7,245.6 172.8,250.3 175.0,255.0 C177.2,259.7 179.8,266.5 182.0,271.0 C184.2,275.5 186.2,280.7 188.0,282.0 C189.8,283.3 191.5,280.9 193.0,279.0 C194.5,277.1 195.4,274.0 197.0,270.4 C198.6,266.8 200.8,260.7 202.5,257.3 C204.2,253.9 205.3,251.7 207.0,250.0 C208.7,248.3 210.7,247.5 212.4,247.4 C214.1,247.3 215.6,248.1 217.0,249.5 C218.4,250.9 219.4,252.3 221.0,256.0 C222.6,259.7 224.8,266.7 226.6,271.5 C228.4,276.3 228.9,278.6 232.0,285.0 C235.1,291.4 239.7,302.2 245.0,310.0 C250.3,317.8 259.0,327.0 264.0,332.0 C269.0,337.0 273.3,338.7 275.2,340.0' stroke='#e8303a' stroke-dasharray='9 3.5 2 3.5'/>
<path d='M67.5,380.2 C68.2,380.0 70.3,380.1 72.0,379.0 C73.7,377.9 75.9,375.7 77.6,373.5 C79.3,371.3 80.8,368.4 82.0,366.0 C83.2,363.6 83.8,364.4 85.0,358.8 C86.2,353.2 87.9,342.7 89.4,332.4 C90.9,322.1 92.3,308.8 93.8,297.0 C95.3,285.2 96.7,270.6 98.2,261.8 C99.7,253.0 101.1,247.9 102.6,244.0 C104.1,240.1 105.5,238.7 107.0,238.2 C108.5,237.7 109.8,239.0 111.5,241.2 C113.2,243.4 115.2,248.3 117.4,251.5 C119.6,254.7 122.3,258.5 124.7,260.3 C127.1,262.1 129.6,262.6 132.0,262.4 C134.4,262.1 136.7,261.6 139.4,258.8 C142.1,256.0 145.3,250.7 148.2,245.6 C151.1,240.5 154.7,232.3 157.0,228.0 C159.3,223.7 160.2,221.7 162.0,220.0 C163.8,218.3 165.7,217.7 167.5,217.6 C169.3,217.5 170.9,217.8 173.0,219.5 C175.1,221.2 177.5,224.2 180.0,228.0 C182.5,231.8 185.3,237.5 188.0,242.0 C190.7,246.5 193.5,251.7 196.0,255.0 C198.5,258.3 200.8,260.4 203.0,262.0 C205.2,263.6 206.8,264.3 209.0,264.3 C211.2,264.3 213.5,263.6 216.0,262.0 C218.5,260.4 221.3,257.8 224.0,255.0 C226.7,252.2 229.5,247.6 232.0,245.0 C234.5,242.4 236.8,240.6 239.0,239.5 C241.2,238.4 243.2,238.1 245.2,238.2 C247.2,238.3 248.9,238.5 251.0,240.0 C253.1,241.5 255.5,243.3 258.0,247.0 C260.5,250.7 263.1,256.1 266.0,262.0 C268.9,267.9 273.7,279.0 275.2,282.4' stroke='#2ca04c' stroke-width='2.2'/>
</g>
<rect x='67.5' y='216.8' width='207.7' height='163.39999999999998' fill='none' stroke='#444' stroke-width='0.9'/>
<g stroke='#444' stroke-width='0.8'>
<line x1='67.5' y1='380.2' x2='70.0' y2='380.2'/><line x1='275.2' y1='380.2' x2='272.7' y2='380.2'/>
<line x1='67.5' y1='363.9' x2='69.0' y2='363.9'/><line x1='275.2' y1='363.9' x2='273.7' y2='363.9'/>
<line x1='67.5' y1='347.5' x2='70.0' y2='347.5'/><line x1='275.2' y1='347.5' x2='272.7' y2='347.5'/>
<line x1='67.5' y1='331.2' x2='69.0' y2='331.2'/><line x1='275.2' y1='331.2' x2='273.7' y2='331.2'/>
<line x1='67.5' y1='314.8' x2='70.0' y2='314.8'/><line x1='275.2' y1='314.8' x2='272.7' y2='314.8'/>
<line x1='67.5' y1='298.5' x2='69.0' y2='298.5'/><line x1='275.2' y1='298.5' x2='273.7' y2='298.5'/>
<line x1='67.5' y1='282.2' x2='70.0' y2='282.2'/><line x1='275.2' y1='282.2' x2='272.7' y2='282.2'/>
<line x1='67.5' y1='265.8' x2='69.0' y2='265.8'/><line x1='275.2' y1='265.8' x2='273.7' y2='265.8'/>
<line x1='67.5' y1='249.5' x2='70.0' y2='249.5'/><line x1='275.2' y1='249.5' x2='272.7' y2='249.5'/>
<line x1='67.5' y1='233.1' x2='69.0' y2='233.1'/><line x1='275.2' y1='233.1' x2='273.7' y2='233.1'/>
<line x1='67.5' y1='216.8' x2='70.0' y2='216.8'/><line x1='275.2' y1='216.8' x2='272.7' y2='216.8'/>
<line x1='67.5' y1='380.2' x2='67.5' y2='377.7'/><line x1='67.5' y1='216.8' x2='67.5' y2='219.3'/>
<line x1='88.3' y1='380.2' x2='88.3' y2='378.7'/><line x1='88.3' y1='216.8' x2='88.3' y2='218.3'/>
<line x1='109.0' y1='380.2' x2='109.0' y2='377.7'/><line x1='109.0' y1='216.8' x2='109.0' y2='219.3'/>
<line x1='129.8' y1='380.2' x2='129.8' y2='378.7'/><line x1='129.8' y1='216.8' x2='129.8' y2='218.3'/>
<line x1='150.6' y1='380.2' x2='150.6' y2='377.7'/><line x1='150.6' y1='216.8' x2='150.6' y2='219.3'/>
<line x1='171.3' y1='380.2' x2='171.3' y2='378.7'/><line x1='171.3' y1='216.8' x2='171.3' y2='218.3'/>
<line x1='192.1' y1='380.2' x2='192.1' y2='377.7'/><line x1='192.1' y1='216.8' x2='192.1' y2='219.3'/>
<line x1='212.9' y1='380.2' x2='212.9' y2='378.7'/><line x1='212.9' y1='216.8' x2='212.9' y2='218.3'/>
<line x1='233.7' y1='380.2' x2='233.7' y2='377.7'/><line x1='233.7' y1='216.8' x2='233.7' y2='219.3'/>
<line x1='254.4' y1='380.2' x2='254.4' y2='378.7'/><line x1='254.4' y1='216.8' x2='254.4' y2='218.3'/>
<line x1='275.2' y1='380.2' x2='275.2' y2='377.7'/><line x1='275.2' y1='216.8' x2='275.2' y2='219.3'/>
</g>
<rect x='156.1' y='273' width='107.8' height='95.4' fill='#e9db64'/>
<polygon points='161.4,286.8 200.3,276.4 261.0,282.5 259.1,349.5 225.9,366.5 162.3,355.1' fill='#cfcdc2'/>
<polygon points='161.4,286.8 200.3,276.4 261.0,282.5 225.9,294.4' fill='#dcdad0'/>
<polygon points='164.2,289.7 223.1,296.3 223.1,363.7 164.8,353.3' fill='#bdbbb0'/>
<polygon points='164.2,289.7 186.1,304.9 187.0,338.1 164.8,353.3' fill='#c9c7bd'/>
<polygon points='164.2,289.7 223.1,296.3 217.4,306.8 186.1,304.9' fill='#b2b0a6'/>
<polygon points='164.8,353.3 187.0,338.1 217.4,338.1 223.1,363.7' fill='#d3d1c7'/>
<polygon points='223.1,296.3 223.1,363.7 217.4,338.1 217.4,306.8' fill='#c3c1b7'/>
<polygon points='186.1,304.9 217.4,306.8 217.4,338.1 187.0,338.1' fill='#bebcb2'/>
<polygon points='225.9,294.4 261.0,282.5 259.1,349.5 225.9,366.5' fill='#c6c4ba'/>
<polygon points='228.2,297.3 258.2,285.9 256.7,346.6 228.2,362.7' fill='#b9b7ad'/>
<polygon points='228.2,297.3 258.2,285.9 248.7,298.2 233.5,305.8' fill='#aeaca2'/>
<polygon points='228.2,362.7 256.7,346.6 249.6,335.2 233.5,344.7' fill='#cbc9bf'/>
<polygon points='170.9,287.4 201.2,279.2 255.3,283.6 225.0,291.6' fill='#c8c6bc'/>
<polygon points='201.2,279.2 255.3,283.6 235.4,286.8 203.1,287.8' fill='#d8d6cc'/>
<circle cx='194.6' cy='286.8' r='0.8' fill='#555'/>
<circle cx='216.4' cy='284.9' r='0.8' fill='#444'/>
<circle cx='235.0' cy='287.4' r='0.8' fill='#444'/>
<circle cx='187.0' cy='296.9' r='0.8' fill='#777'/>
<circle cx='206.0' cy='298.8' r='0.8' fill='#777'/>
<circle cx='172.4' cy='311.1' r='0.8' fill='#c8a030'/>
<circle cx='194.0' cy='313.4' r='0.8' fill='#444'/>
<circle cx='210.0' cy='315.3' r='0.8' fill='#444'/>
<circle cx='194.0' cy='330.9' r='0.8' fill='#444'/>
<circle cx='210.0' cy='332.9' r='0.8' fill='#444'/>
<circle cx='172.8' cy='332.0' r='0.8' fill='#c8a030'/>
<circle cx='250.6' cy='306.8' r='0.8' fill='#c8a030'/>
<circle cx='250.6' cy='327.3' r='0.8' fill='#c8a030'/>
<circle cx='233.5' cy='310.9' r='0.8' fill='#777'/>
<circle cx='233.5' cy='328.6' r='0.8' fill='#777'/>
<circle cx='242.6' cy='346.6' r='0.8' fill='#777'/>
<circle cx='232.6' cy='351.9' r='0.8' fill='#777'/>
<circle cx='187.2' cy='350.8' r='0.8' fill='#444'/>
<circle cx='206.2' cy='353.4' r='0.8' fill='#444'/>
<circle cx='221.4' cy='317.2' r='0.8' fill='#777'/>
<circle cx='221.4' cy='339.0' r='0.8' fill='#777'/>
<path d='M146.3,437 V427.8 H137.1 L156.8,417.9 L176.5,427.8 H167.3 V437 Z' fill='#000'/>
<defs><linearGradient id='h0'><stop offset='0.000' stop-color='#6cef30'/><stop offset='0.320' stop-color='#b0f037'/><stop offset='0.469' stop-color='#e0f03e'/><stop offset='0.674' stop-color='#efeb3f'/><stop offset='0.823' stop-color='#e8a336'/><stop offset='0.891' stop-color='#e89e35'/><stop offset='0.954' stop-color='#e9bb39'/><stop offset='1.000' stop-color='#efe93f'/></linearGradient><linearGradient id='h1'><stop offset='0.000' stop-color='#6cef30'/><stop offset='0.320' stop-color='#b1f037'/><stop offset='0.463' stop-color='#e1f03e'/><stop offset='0.669' stop-color='#efeb3f'/><stop offset='0.829' stop-color='#e89a35'/><stop offset='0.891' stop-color='#e89635'/><stop offset='0.960' stop-color='#e8b838'/><stop offset='1.000' stop-color='#eee33e'/></linearGradient><linearGradient id='h2'><stop offset='0.000' stop-color='#6def30'/><stop offset='0.320' stop-color='#b1f037'/><stop offset='0.463' stop-color='#e4f03e'/><stop offset='0.663' stop-color='#efec3f'/><stop offset='0.749' stop-color='#e9bd39'/><stop offset='0.851' stop-color='#e88c34'/><stop offset='0.909' stop-color='#e89234'/><stop offset='0.971' stop-color='#e9bd39'/><stop offset='1.000' stop-color='#eede3e'/></linearGradient><linearGradient id='h3'><stop offset='0.000' stop-color='#6def30'/><stop offset='0.314' stop-color='#aff037'/><stop offset='0.463' stop-color='#e6f03f'/><stop offset='0.663' stop-color='#efeb3f'/><stop offset='0.743' stop-color='#e9be39'/><stop offset='0.851' stop-color='#e88433'/><stop offset='0.903' stop-color='#e88733'/><stop offset='0.971' stop-color='#e8b638'/><stop offset='1.000' stop-color='#edd93d'/></linearGradient><linearGradient id='h4'><stop offset='0.000' stop-color='#6def30'/><stop offset='0.314' stop-color='#aff037'/><stop offset='0.463' stop-color='#e9f03f'/><stop offset='0.657' stop-color='#efec3f'/><stop offset='0.731' stop-color='#eac33a'/><stop offset='0.846' stop-color='#e87c32'/><stop offset='0.897' stop-color='#e87b32'/><stop offset='0.966' stop-color='#e8ab37'/><stop offset='1.000' stop-color='#ecd43c'/></linearGradient><linearGradient id='h5'><stop offset='0.000' stop-color='#6def30'/><stop offset='0.314' stop-color='#aff037'/><stop offset='0.463' stop-color='#edf040'/><stop offset='0.566' stop-color='#f0ef40'/><stop offset='0.657' stop-color='#efeb3f'/><stop offset='0.731' stop-color='#eac13a'/><stop offset='0.851' stop-color='#e87031'/><stop offset='0.897' stop-color='#e87131'/><stop offset='0.960' stop-color='#e8a036'/><stop offset='1.000' stop-color='#ebcf3b'/></linearGradient><linearGradient id='h6'><stop offset='0.000' stop-color='#6eef30'/><stop offset='0.200' stop-color='#95f033'/><stop offset='0.320' stop-color='#b1f037'/><stop offset='0.463' stop-color='#f0f040'/><stop offset='0.526' stop-color='#efe53f'/><stop offset='0.640' stop-color='#f0ef40'/><stop offset='0.709' stop-color='#ecd13c'/><stop offset='0.851' stop-color='#e8662f'/><stop offset='0.897' stop-color='#e8652f'/><stop offset='0.954' stop-color='#e89434'/><stop offset='1.000' stop-color='#ebcb3b'/></linearGradient><linearGradient id='h7'><stop offset='0.000' stop-color='#6eef30'/><stop offset='0.183' stop-color='#94f033'/><stop offset='0.309' stop-color='#acf036'/><stop offset='0.451' stop-color='#f0ef40'/><stop offset='0.509' stop-color='#eede3e'/><stop offset='0.634' stop-color='#f0f040'/><stop offset='0.697' stop-color='#edd93d'/><stop offset='0.846' stop-color='#e95f2e'/><stop offset='0.891' stop-color='#ea592c'/><stop offset='0.937' stop-color='#e87a32'/><stop offset='1.000' stop-color='#eac63a'/></linearGradient><linearGradient id='h8'><stop offset='0.000' stop-color='#6eef30'/><stop offset='0.171' stop-color='#94f033'/><stop offset='0.297' stop-color='#a7f036'/><stop offset='0.446' stop-color='#efec3f'/><stop offset='0.497' stop-color='#edd73d'/><stop offset='0.629' stop-color='#eff040'/><stop offset='0.686' stop-color='#eee03e'/><stop offset='0.800' stop-color='#e87d32'/><stop offset='0.857' stop-color='#eb4f2a'/><stop offset='0.897' stop-color='#eb4f2a'/><stop offset='0.943' stop-color='#e87732'/><stop offset='1.000' stop-color='#eac23a'/></linearGradient><linearGradient id='h9'><stop offset='0.000' stop-color='#6eef30'/><stop offset='0.166' stop-color='#94f033'/><stop offset='0.291' stop-color='#a4f035'/><stop offset='0.434' stop-color='#f0ef40'/><stop offset='0.486' stop-color='#ebcf3b'/><stop offset='0.543' stop-color='#edd93d'/><stop offset='0.617' stop-color='#eff040'/><stop offset='0.674' stop-color='#efe83f'/><stop offset='0.731' stop-color='#e9bc39'/><stop offset='0.851' stop-color='#ec4627'/><stop offset='0.886' stop-color='#ed3e25'/><stop offset='0.931' stop-color='#e9612e'/><stop offset='1.000' stop-color='#e9be39'/></linearGradient><linearGradient id='h10'><stop offset='0.000' stop-color='#6eef30'/><stop offset='0.154' stop-color='#95f033'/><stop offset='0.291' stop-color='#a3f035'/><stop offset='0.383' stop-color='#d6f03c'/><stop offset='0.429' stop-color='#f0ed40'/><stop offset='0.474' stop-color='#ebc93b'/><stop offset='0.520' stop-color='#ebca3b'/><stop offset='0.611' stop-color='#eff040'/><stop offset='0.674' stop-color='#efea3f'/><stop offset='0.731' stop-color='#e9bc39'/><stop offset='0.823' stop-color='#ea562c'/><stop offset='0.869' stop-color='#ef2f22'/><stop offset='0.897' stop-color='#ef3423'/><stop offset='0.949' stop-color='#e86f31'/><stop offset='1.000' stop-color='#e9bb39'/></linearGradient><linearGradient id='h11'><stop offset='0.000' stop-color='#6fef30'/><stop offset='0.149' stop-color='#96f033'/><stop offset='0.286' stop-color='#9ff034'/><stop offset='0.366' stop-color='#caf03b'/><stop offset='0.423' stop-color='#f0ee40'/><stop offset='0.469' stop-color='#e9c039'/><stop offset='0.509' stop-color='#e9bc39'/><stop offset='0.606' stop-color='#eff040'/><stop offset='0.680' stop-color='#efea3f'/><stop offset='0.731' stop-color='#e9bd39'/><stop offset='0.800' stop-color='#e86c30'/><stop offset='0.857' stop-color='#f02820'/><stop offset='0.903' stop-color='#f02920'/><stop offset='0.971' stop-color='#e88e34'/><stop offset='1.000' stop-color='#e8b938'/></linearGradient><linearGradient id='h12'><stop offset='0.000' stop-color='#6fef30'/><stop offset='0.143' stop-color='#97f033'/><stop offset='0.286' stop-color='#9df034'/><stop offset='0.360' stop-color='#c5f03a'/><stop offset='0.417' stop-color='#f0ef40'/><stop offset='0.463' stop-color='#e8b838'/><stop offset='0.503' stop-color='#e8b238'/><stop offset='0.600' stop-color='#f0f040'/><stop offset='0.680' stop-color='#f0ed40'/><stop offset='0.731' stop-color='#e9bf39'/><stop offset='0.794' stop-color='#e87131'/><stop offset='0.846' stop-color='#f02820'/><stop offset='0.914' stop-color='#f02820'/><stop offset='1.000' stop-color='#e8b738'/></linearGradient><linearGradient id='h13'><stop offset='0.000' stop-color='#6fef30'/><stop offset='0.143' stop-color='#9af034'/><stop offset='0.280' stop-color='#99f033'/><stop offset='0.349' stop-color='#bbf038'/><stop offset='0.411' stop-color='#eff040'/><stop offset='0.457' stop-color='#e8b238'/><stop offset='0.497' stop-color='#e8a737'/><stop offset='0.537' stop-color='#e9bf39'/><stop offset='0.594' stop-color='#f0f040'/><stop offset='0.669' stop-color='#edf040'/><stop offset='0.697' stop-color='#efe63f'/><stop offset='0.777' stop-color='#e88933'/><stop offset='0.834' stop-color='#f02a20'/><stop offset='0.920' stop-color='#f02820'/><stop offset='0.994' stop-color='#e8ad37'/><stop offset='1.000' stop-color='#e8b638'/></linearGradient><linearGradient id='h14'><stop offset='0.000' stop-color='#6fef30'/><stop offset='0.137' stop-color='#9cf034'/><stop offset='0.280' stop-color='#96f033'/><stop offset='0.349' stop-color='#b9f038'/><stop offset='0.411' stop-color='#f0ee40'/><stop offset='0.446' stop-color='#e8b238'/><stop offset='0.480' stop-color='#e89c35'/><stop offset='0.520' stop-color='#e8aa37'/><stop offset='0.594' stop-color='#eff040'/><stop offset='0.663' stop-color='#e9f03f'/><stop offset='0.697' stop-color='#efeb3f'/><stop offset='0.771' stop-color='#e89234'/><stop offset='0.829' stop-color='#f02b21'/><stop offset='0.926' stop-color='#f02820'/><stop offset='0.994' stop-color='#e8ad37'/><stop offset='1.000' stop-color='#e8b638'/></linearGradient><linearGradient id='h15'><stop offset='0.000' stop-color='#6fef30'/><stop offset='0.137' stop-color='#9ff034'/><stop offset='0.274' stop-color='#92f032'/><stop offset='0.337' stop-color='#adf036'/><stop offset='0.406' stop-color='#edf040'/><stop offset='0.446' stop-color='#e8a937'/><stop offset='0.480' stop-color='#e88f34'/><stop offset='0.514' stop-color='#e89d35'/><stop offset='0.589' stop-color='#f0f040'/><stop offset='0.657' stop-color='#e5f03f'/><stop offset='0.703' stop-color='#efec3f'/><stop offset='0.777' stop-color='#e88a33'/><stop offset='0.829' stop-color='#f02820'/><stop offset='0.931' stop-color='#f02920'/><stop offset='0.989' stop-color='#e8a436'/><stop offset='1.000' stop-color='#e8b838'/></linearGradient><linearGradient id='h16'><stop offset='0.000' stop-color='#6fef30'/><stop offset='0.131' stop-color='#a1f035'/><stop offset='0.223' stop-color='#92f032'/><stop offset='0.291' stop-color='#92f032'/><stop offset='0.349' stop-color='#b3f037'/><stop offset='0.406' stop-color='#eff040'/><stop offset='0.440' stop-color='#e8a737'/><stop offset='0.474' stop-color='#e88133'/><stop offset='0.503' stop-color='#e88833'/><stop offset='0.554' stop-color='#eac83a'/><stop offset='0.589' stop-color='#eef040'/><stop offset='0.651' stop-color='#e1f03e'/><stop offset='0.709' stop-color='#f0ed40'/><stop offset='0.777' stop-color='#e88c34'/><stop offset='0.823' stop-color='#ef2d21'/><stop offset='0.931' stop-color='#f02820'/><stop offset='0.989' stop-color='#e8a536'/><stop offset='1.000' stop-color='#e9ba39'/></linearGradient><linearGradient id='h17'><stop offset='0.000' stop-color='#6fef30'/><stop offset='0.131' stop-color='#a6f035'/><stop offset='0.200' stop-color='#98f033'/><stop offset='0.274' stop-color='#8af031'/><stop offset='0.331' stop-color='#a1f035'/><stop offset='0.400' stop-color='#e9f03f'/><stop offset='0.406' stop-color='#f0f040'/><stop offset='0.434' stop-color='#e8a937'/><stop offset='0.469' stop-color='#e87231'/><stop offset='0.491' stop-color='#e86f31'/><stop offset='0.537' stop-color='#e8aa37'/><stop offset='0.583' stop-color='#eff040'/><stop offset='0.646' stop-color='#ddf03d'/><stop offset='0.714' stop-color='#f0ee40'/><stop offset='0.783' stop-color='#e88533'/><stop offset='0.823' stop-color='#f02b21'/><stop offset='0.931' stop-color='#f02820'/><stop offset='0.943' stop-color='#ed4026'/><stop offset='0.989' stop-color='#e8a837'/><stop offset='1.000' stop-color='#e9be39'/></linearGradient><linearGradient id='h18'><stop offset='0.000' stop-color='#6eef30'/><stop offset='0.131' stop-color='#aaf036'/><stop offset='0.189' stop-color='#9ef034'/><stop offset='0.263' stop-color='#85f030'/><stop offset='0.320' stop-color='#94f033'/><stop offset='0.371' stop-color='#c4f03a'/><stop offset='0.406' stop-color='#f0ef40'/><stop offset='0.434' stop-color='#e8a136'/><stop offset='0.463' stop-color='#e8652f'/><stop offset='0.486' stop-color='#ea592c'/><stop offset='0.509' stop-color='#e87231'/><stop offset='0.577' stop-color='#f0ef40'/><stop offset='0.634' stop-color='#d9f03d'/><stop offset='0.703' stop-color='#e6f03f'/><stop offset='0.720' stop-color='#f0f040'/><stop offset='0.789' stop-color='#e87e32'/><stop offset='0.823' stop-color='#f02b21'/><stop offset='0.931' stop-color='#f02820'/><stop offset='0.943' stop-color='#ed4126'/><stop offset='0.989' stop-color='#e8ab37'/><stop offset='1.000' stop-color='#eac43a'/></linearGradient><linearGradient id='h19'><stop offset='0.000' stop-color='#6eef30'/><stop offset='0.131' stop-color='#b0f037'/><stop offset='0.183' stop-color='#a3f035'/><stop offset='0.257' stop-color='#81f030'/><stop offset='0.314' stop-color='#8bf031'/><stop offset='0.366' stop-color='#b8f038'/><stop offset='0.406' stop-color='#f0f040'/><stop offset='0.434' stop-color='#e89935'/><stop offset='0.463' stop-color='#eb522a'/><stop offset='0.480' stop-color='#ed4126'/><stop offset='0.497' stop-color='#eb4f2a'/><stop offset='0.560' stop-color='#ecd63c'/><stop offset='0.577' stop-color='#edf040'/><stop offset='0.634' stop-color='#d4f03c'/><stop offset='0.697' stop-color='#dff03e'/><stop offset='0.726' stop-color='#eff040'/><stop offset='0.783' stop-color='#e89034'/><stop offset='0.823' stop-color='#ef3022'/><stop offset='0.834' stop-color='#f02820'/><stop offset='0.931' stop-color='#f02820'/><stop offset='0.983' stop-color='#e8a536'/><stop offset='1.000' stop-color='#ebcb3b'/></linearGradient><linearGradient id='h20'><stop offset='0.000' stop-color='#6def30'/><stop offset='0.131' stop-color='#b6f038'/><stop offset='0.171' stop-color='#adf036'/><stop offset='0.246' stop-color='#7ff030'/><stop offset='0.303' stop-color='#80f030'/><stop offset='0.354' stop-color='#a4f035'/><stop offset='0.406' stop-color='#eef040'/><stop offset='0.451' stop-color='#ea5a2d'/><stop offset='0.469' stop-color='#ef2e21'/><stop offset='0.486' stop-color='#f02820'/><stop offset='0.497' stop-color='#ee3924'/><stop offset='0.554' stop-color='#ebcd3b'/><stop offset='0.571' stop-color='#eef040'/><stop offset='0.623' stop-color='#d1f03c'/><stop offset='0.680' stop-color='#d3f03c'/><stop offset='0.737' stop-color='#efec3f'/><stop offset='0.800' stop-color='#e87131'/><stop offset='0.829' stop-color='#f02820'/><stop offset='0.931' stop-color='#f02820'/><stop offset='0.971' stop-color='#e89334'/><stop offset='1.000' stop-color='#ecd33c'/></linearGradient><linearGradient id='h21'><stop offset='0.000' stop-color='#6def30'/><stop offset='0.086' stop-color='#a3f035'/><stop offset='0.137' stop-color='#bff039'/><stop offset='0.177' stop-color='#adf036'/><stop offset='0.240' stop-color='#7cf030'/><stop offset='0.297' stop-color='#78ef30'/><stop offset='0.343' stop-color='#92f032'/><stop offset='0.383' stop-color='#c5f03a'/><stop offset='0.406' stop-color='#ebf03f'/><stop offset='0.411' stop-color='#eee53e'/><stop offset='0.446' stop-color='#e9612e'/><stop offset='0.457' stop-color='#ee3523'/><stop offset='0.463' stop-color='#f02820'/><stop offset='0.497' stop-color='#f02820'/><stop offset='0.509' stop-color='#ec4928'/><stop offset='0.537' stop-color='#e8a436'/><stop offset='0.566' stop-color='#eff040'/><stop offset='0.617' stop-color='#cbf03b'/><stop offset='0.669' stop-color='#c8f03a'/><stop offset='0.743' stop-color='#f0ef40'/><stop offset='0.806' stop-color='#e86e31'/><stop offset='0.834' stop-color='#f02820'/><stop offset='0.926' stop-color='#f02820'/><stop offset='0.977' stop-color='#e8a737'/><stop offset='1.000' stop-color='#eddd3d'/></linearGradient><linearGradient id='h22'><stop offset='0.000' stop-color='#6cef30'/><stop offset='0.074' stop-color='#9df034'/><stop offset='0.131' stop-color='#c7f03a'/><stop offset='0.166' stop-color='#bdf039'/><stop offset='0.234' stop-color='#7af030'/><stop offset='0.286' stop-color='#6fef30'/><stop offset='0.337' stop-color='#84f030'/><stop offset='0.377' stop-color='#b3f037'/><stop offset='0.411' stop-color='#f0ed40'/><stop offset='0.440' stop-color='#e87331'/><stop offset='0.457' stop-color='#f02820'/><stop offset='0.503' stop-color='#f02820'/><stop offset='0.531' stop-color='#e89735'/><stop offset='0.560' stop-color='#f0ef40'/><stop offset='0.611' stop-color='#c4f03a'/><stop offset='0.663' stop-color='#bef039'/><stop offset='0.737' stop-color='#e5f03f'/><stop offset='0.749' stop-color='#eff040'/><stop offset='0.806' stop-color='#e87b32'/><stop offset='0.834' stop-color='#ef3022'/><stop offset='0.846' stop-color='#f02820'/><stop offset='0.920' stop-color='#f02820'/><stop offset='0.943' stop-color='#e9602e'/><stop offset='1.000' stop-color='#efe93f'/></linearGradient><linearGradient id='h23'><stop offset='0.000' stop-color='#6bef30'/><stop offset='0.069' stop-color='#99f033'/><stop offset='0.131' stop-color='#d2f03c'/><stop offset='0.160' stop-color='#cbf03b'/><stop offset='0.229' stop-color='#78ef30'/><stop offset='0.274' stop-color='#67ee30'/><stop offset='0.331' stop-color='#78ef30'/><stop offset='0.371' stop-color='#a1f035'/><stop offset='0.411' stop-color='#ebf03f'/><stop offset='0.417' stop-color='#eee03e'/><stop offset='0.446' stop-color='#ea582c'/><stop offset='0.451' stop-color='#ee3824'/><stop offset='0.457' stop-color='#f02820'/><stop offset='0.503' stop-color='#f02820'/><stop offset='0.509' stop-color='#ee3924'/><stop offset='0.531' stop-color='#e89e35'/><stop offset='0.554' stop-color='#f0ed40'/><stop offset='0.606' stop-color='#bef039'/><stop offset='0.657' stop-color='#b4f037'/><stop offset='0.714' stop-color='#cdf03b'/><stop offset='0.760' stop-color='#f0ed40'/><stop offset='0.823' stop-color='#e9602e'/><stop offset='0.846' stop-color='#f02820'/><stop offset='0.914' stop-color='#f02820'/><stop offset='0.966' stop-color='#e8a536'/><stop offset='0.994' stop-color='#efe93f'/><stop offset='1.000' stop-color='#edf040'/></linearGradient><linearGradient id='h24'><stop offset='0.000' stop-color='#69ef30'/><stop offset='0.063' stop-color='#95f033'/><stop offset='0.126' stop-color='#d9f03d'/><stop offset='0.154' stop-color='#daf03d'/><stop offset='0.177' stop-color='#bef039'/><stop offset='0.217' stop-color='#7df030'/><stop offset='0.257' stop-color='#61ee30'/><stop offset='0.309' stop-color='#64ee30'/><stop offset='0.360' stop-color='#87f031'/><stop offset='0.394' stop-color='#bef039'/><stop offset='0.417' stop-color='#eff040'/><stop offset='0.446' stop-color='#e95f2e'/><stop offset='0.451' stop-color='#ed3d25'/><stop offset='0.457' stop-color='#f02820'/><stop offset='0.503' stop-color='#f02820'/><stop offset='0.531' stop-color='#e8aa37'/><stop offset='0.549' stop-color='#f0ed40'/><stop offset='0.600' stop-color='#b6f038'/><stop offset='0.651' stop-color='#a9f036'/><stop offset='0.714' stop-color='#c2f03a'/><stop offset='0.766' stop-color='#eef040'/><stop offset='0.834' stop-color='#ea5a2c'/><stop offset='0.857' stop-color='#f02820'/><stop offset='0.903' stop-color='#f02820'/><stop offset='0.971' stop-color='#e9c039'/><stop offset='0.989' stop-color='#efeb3f'/><stop offset='1.000' stop-color='#e6f03f'/></linearGradient><linearGradient id='h25'><stop offset='0.000' stop-color='#68ee30'/><stop offset='0.063' stop-color='#95f033'/><stop offset='0.126' stop-color='#e3f03e'/><stop offset='0.149' stop-color='#eaf03f'/><stop offset='0.171' stop-color='#d2f03c'/><stop offset='0.211' stop-color='#7ff030'/><stop offset='0.246' stop-color='#5dee30'/><stop offset='0.297' stop-color='#57ee30'/><stop offset='0.354' stop-color='#77ef30'/><stop offset='0.389' stop-color='#a5f035'/><stop offset='0.423' stop-color='#f0ed40'/><stop offset='0.446' stop-color='#e87231'/><stop offset='0.457' stop-color='#f02b21'/><stop offset='0.497' stop-color='#f02820'/><stop offset='0.503' stop-color='#ef3122'/><stop offset='0.520' stop-color='#e88e34'/><stop offset='0.543' stop-color='#f0f040'/><stop offset='0.583' stop-color='#b7f038'/><stop offset='0.629' stop-color='#9ff034'/><stop offset='0.691' stop-color='#aaf036'/><stop offset='0.766' stop-color='#e4f03e'/><stop offset='0.777' stop-color='#f0f040'/><stop offset='0.840' stop-color='#e8652f'/><stop offset='0.869' stop-color='#ee3a25'/><stop offset='0.886' stop-color='#ee3624'/><stop offset='0.914' stop-color='#ea5a2d'/><stop offset='0.966' stop-color='#eac63a'/><stop offset='0.983' stop-color='#f0ef40'/><stop offset='1.000' stop-color='#def03e'/></linearGradient><linearGradient id='h26'><stop offset='0.000' stop-color='#66ee30'/><stop offset='0.057' stop-color='#8ef032'/><stop offset='0.126' stop-color='#f0f040'/><stop offset='0.143' stop-color='#edd73d'/><stop offset='0.154' stop-color='#eee13e'/><stop offset='0.160' stop-color='#f0ef40'/><stop offset='0.183' stop-color='#bdf039'/><stop offset='0.211' stop-color='#78ef30'/><stop offset='0.246' stop-color='#53ed30'/><stop offset='0.291' stop-color='#4ced30'/><stop offset='0.349' stop-color='#67ee30'/><stop offset='0.389' stop-color='#96f033'/><stop offset='0.429' stop-color='#f0ef40'/><stop offset='0.451' stop-color='#e87231'/><stop offset='0.463' stop-color='#ef3323'/><stop offset='0.469' stop-color='#f02820'/><stop offset='0.491' stop-color='#f02820'/><stop offset='0.497' stop-color='#ee3824'/><stop offset='0.526' stop-color='#eac43a'/><stop offset='0.531' stop-color='#eee03e'/><stop offset='0.537' stop-color='#ecf03f'/><stop offset='0.577' stop-color='#aef037'/><stop offset='0.623' stop-color='#94f033'/><stop offset='0.686' stop-color='#9cf034'/><stop offset='0.749' stop-color='#c9f03b'/><stop offset='0.789' stop-color='#f0ee40'/><stop offset='0.823' stop-color='#e8a236'/><stop offset='0.863' stop-color='#e9602e'/><stop offset='0.886' stop-color='#ea592c'/><stop offset='0.909' stop-color='#e86d31'/><stop offset='0.954' stop-color='#eac23a'/><stop offset='0.971' stop-color='#efea3f'/><stop offset='1.000' stop-color='#d6f03c'/></linearGradient><linearGradient id='h27'><stop offset='0.000' stop-color='#63ee30'/><stop offset='0.057' stop-color='#8cf032'/><stop offset='0.097' stop-color='#c9f03b'/><stop offset='0.114' stop-color='#e9f03f'/><stop offset='0.120' stop-color='#efe93f'/><stop offset='0.137' stop-color='#e8b438'/><stop offset='0.149' stop-color='#e8ae37'/><stop offset='0.154' stop-color='#e8b538'/><stop offset='0.166' stop-color='#eee43e'/><stop offset='0.171' stop-color='#e6f03f'/><stop offset='0.200' stop-color='#88f031'/><stop offset='0.223' stop-color='#5dee30'/><stop offset='0.257' stop-color='#43ec30'/><stop offset='0.314' stop-color='#49ed30'/><stop offset='0.371' stop-color='#70ef30'/><stop offset='0.400' stop-color='#99f033'/><stop offset='0.434' stop-color='#eaf03f'/><stop offset='0.440' stop-color='#eddd3d'/><stop offset='0.451' stop-color='#e8a136'/><stop offset='0.469' stop-color='#ea592c'/><stop offset='0.480' stop-color='#ec4728'/><stop offset='0.491' stop-color='#ea5b2d'/><stop offset='0.514' stop-color='#e8b738'/><stop offset='0.526' stop-color='#f0f040'/><stop offset='0.566' stop-color='#a9f036'/><stop offset='0.606' stop-color='#8bf031'/><stop offset='0.663' stop-color='#89f031'/><stop offset='0.731' stop-color='#acf036'/><stop offset='0.800' stop-color='#f0f040'/><stop offset='0.834' stop-color='#e8a837'/><stop offset='0.869' stop-color='#e87e32'/><stop offset='0.891' stop-color='#e87e32'/><stop offset='0.931' stop-color='#e8ad37'/><stop offset='0.966' stop-color='#edf040'/><stop offset='1.000' stop-color='#cbf03b'/></linearGradient><linearGradient id='h28'><stop offset='0.000' stop-color='#61ee30'/><stop offset='0.057' stop-color='#8af031'/><stop offset='0.091' stop-color='#bff039'/><stop offset='0.114' stop-color='#f0ef40'/><stop offset='0.126' stop-color='#e8b638'/><stop offset='0.143' stop-color='#e88433'/><stop offset='0.149' stop-color='#e88133'/><stop offset='0.154' stop-color='#e88b34'/><stop offset='0.166' stop-color='#e9bf39'/><stop offset='0.171' stop-color='#efec3f'/><stop offset='0.200' stop-color='#7ef030'/><stop offset='0.223' stop-color='#50ed30'/><stop offset='0.246' stop-color='#3cec31'/><stop offset='0.320' stop-color='#40ec30'/><stop offset='0.377' stop-color='#68ee30'/><stop offset='0.411' stop-color='#99f033'/><stop offset='0.446' stop-color='#eaf03f'/><stop offset='0.451' stop-color='#eee03e'/><stop offset='0.463' stop-color='#e8af37'/><stop offset='0.474' stop-color='#e89735'/><stop offset='0.486' stop-color='#e89835'/><stop offset='0.497' stop-color='#e8af37'/><stop offset='0.514' stop-color='#edf040'/><stop offset='0.554' stop-color='#a2f035'/><stop offset='0.594' stop-color='#80f030'/><stop offset='0.657' stop-color='#7cf030'/><stop offset='0.726' stop-color='#9bf034'/><stop offset='0.817' stop-color='#efeb3f'/><stop offset='0.851' stop-color='#e8ae37'/><stop offset='0.880' stop-color='#e89e35'/><stop offset='0.914' stop-color='#e8b138'/><stop offset='0.949' stop-color='#f0ee40'/><stop offset='1.000' stop-color='#bff039'/></linearGradient><linearGradient id='h29'><stop offset='0.000' stop-color='#5eee30'/><stop offset='0.057' stop-color='#86f031'/><stop offset='0.091' stop-color='#bdf039'/><stop offset='0.109' stop-color='#e6f03f'/><stop offset='0.114' stop-color='#eee53e'/><stop offset='0.137' stop-color='#e9642f'/><stop offset='0.143' stop-color='#eb4d29'/><stop offset='0.149' stop-color='#ed4427'/><stop offset='0.154' stop-color='#eb512a'/><stop offset='0.160' stop-color='#e87231'/><stop offset='0.171' stop-color='#edd73d'/><stop offset='0.177' stop-color='#def03e'/><stop offset='0.194' stop-color='#84f030'/><stop offset='0.211' stop-color='#53ed30'/><stop offset='0.229' stop-color='#3deb32'/><stop offset='0.274' stop-color='#3fe73d'/><stop offset='0.343' stop-color='#40ec30'/><stop offset='0.400' stop-color='#70ef30'/><stop offset='0.434' stop-color='#abf036'/><stop offset='0.463' stop-color='#e5f03f'/><stop offset='0.480' stop-color='#f0ed40'/><stop offset='0.497' stop-color='#e5f03f'/><stop offset='0.549' stop-color='#8ff032'/><stop offset='0.589' stop-color='#73ef30'/><stop offset='0.657' stop-color='#71ef30'/><stop offset='0.731' stop-color='#91f032'/><stop offset='0.834' stop-color='#f0f040'/><stop offset='0.869' stop-color='#eac63a'/><stop offset='0.897' stop-color='#eac73a'/><stop offset='0.931' stop-color='#f0f040'/><stop offset='1.000' stop-color='#b2f037'/></linearGradient><linearGradient id='h30'><stop offset='0.000' stop-color='#5bee30'/><stop offset='0.057' stop-color='#81f030'/><stop offset='0.091' stop-color='#b8f038'/><stop offset='0.109' stop-color='#e5f03e'/><stop offset='0.114' stop-color='#eee43e'/><stop offset='0.131' stop-color='#e86a30'/><stop offset='0.137' stop-color='#ee3b25'/><stop offset='0.143' stop-color='#f02820'/><stop offset='0.154' stop-color='#f02820'/><stop offset='0.160' stop-color='#ed4126'/><stop offset='0.171' stop-color='#ecd03c'/><stop offset='0.177' stop-color='#d9f03d'/><stop offset='0.189' stop-color='#8cf032'/><stop offset='0.200' stop-color='#5dee30'/><stop offset='0.211' stop-color='#3fec30'/><stop offset='0.246' stop-color='#41e446'/><stop offset='0.331' stop-color='#3ee83a'/><stop offset='0.366' stop-color='#40ec30'/><stop offset='0.423' stop-color='#75ef30'/><stop offset='0.469' stop-color='#b7f038'/><stop offset='0.491' stop-color='#b7f038'/><stop offset='0.549' stop-color='#74ef30'/><stop offset='0.606' stop-color='#60ee30'/><stop offset='0.691' stop-color='#70ef30'/><stop offset='0.760' stop-color='#98f033'/><stop offset='0.846' stop-color='#e4f03e'/><stop offset='0.891' stop-color='#f0f040'/><stop offset='0.954' stop-color='#cdf03b'/><stop offset='1.000' stop-color='#a5f035'/></linearGradient><linearGradient id='h31'><stop offset='0.000' stop-color='#57ee30'/><stop offset='0.063' stop-color='#81f030'/><stop offset='0.091' stop-color='#b0f037'/><stop offset='0.114' stop-color='#f0f040'/><stop offset='0.126' stop-color='#e89b35'/><stop offset='0.131' stop-color='#e86830'/><stop offset='0.137' stop-color='#f02c21'/><stop offset='0.160' stop-color='#ef2d21'/><stop offset='0.166' stop-color='#e88c34'/><stop offset='0.171' stop-color='#efe93f'/><stop offset='0.183' stop-color='#94f033'/><stop offset='0.194' stop-color='#56ee30'/><stop offset='0.200' stop-color='#41ec30'/><stop offset='0.229' stop-color='#43e14e'/><stop offset='0.291' stop-color='#43e14c'/><stop offset='0.389' stop-color='#3eec30'/><stop offset='0.474' stop-color='#80f030'/><stop offset='0.509' stop-color='#73ef30'/><stop offset='0.566' stop-color='#54ed30'/><stop offset='0.651' stop-color='#58ee30'/><stop offset='0.754' stop-color='#83f030'/><stop offset='0.857' stop-color='#d4f03c'/><stop offset='0.909' stop-color='#d6f03d'/><stop offset='1.000' stop-color='#97f033'/></linearGradient><linearGradient id='h32'><stop offset='0.000' stop-color='#54ed30'/><stop offset='0.063' stop-color='#7af030'/><stop offset='0.091' stop-color='#a5f035'/><stop offset='0.114' stop-color='#e2f03e'/><stop offset='0.120' stop-color='#efe53f'/><stop offset='0.137' stop-color='#ea592c'/><stop offset='0.143' stop-color='#f02820'/><stop offset='0.154' stop-color='#f02820'/><stop offset='0.160' stop-color='#e86e31'/><stop offset='0.166' stop-color='#ebc93b'/><stop offset='0.171' stop-color='#cff03b'/><stop offset='0.177' stop-color='#96f033'/><stop offset='0.183' stop-color='#6bef30'/><stop offset='0.189' stop-color='#4aed30'/><stop offset='0.194' stop-color='#3ee937'/><stop offset='0.211' stop-color='#45de55'/><stop offset='0.246' stop-color='#48da5f'/><stop offset='0.434' stop-color='#41ec30'/><stop offset='0.486' stop-color='#4eed30'/><stop offset='0.577' stop-color='#3fec30'/><stop offset='0.703' stop-color='#5dee30'/><stop offset='0.800' stop-color='#93f033'/><stop offset='0.869' stop-color='#bef039'/><stop offset='0.920' stop-color='#b8f038'/><stop offset='1.000' stop-color='#8af031'/></linearGradient><linearGradient id='h33'><stop offset='0.000' stop-color='#50ed30'/><stop offset='0.069' stop-color='#78ef30'/><stop offset='0.097' stop-color='#a0f035'/><stop offset='0.126' stop-color='#edf040'/><stop offset='0.137' stop-color='#e8ad37'/><stop offset='0.143' stop-color='#e89835'/><stop offset='0.149' stop-color='#e89535'/><stop offset='0.154' stop-color='#e8af37'/><stop offset='0.160' stop-color='#eef040'/><stop offset='0.171' stop-color='#86f031'/><stop offset='0.177' stop-color='#5aee30'/><stop offset='0.183' stop-color='#3dea35'/><stop offset='0.200' stop-color='#49d966'/><stop offset='0.217' stop-color='#4cd57a'/><stop offset='0.349' stop-color='#44e050'/><stop offset='0.480' stop-color='#41e445'/><stop offset='0.651' stop-color='#40ec30'/><stop offset='0.794' stop-color='#7bf030'/><stop offset='0.874' stop-color='#a3f035'/><stop offset='0.931' stop-color='#9cf034'/><stop offset='1.000' stop-color='#7df030'/></linearGradient><linearGradient id='h34'><stop offset='0.000' stop-color='#4bed30'/><stop offset='0.074' stop-color='#73ef30'/><stop offset='0.109' stop-color='#a0f034'/><stop offset='0.137' stop-color='#d5f03c'/><stop offset='0.143' stop-color='#d6f03d'/><stop offset='0.149' stop-color='#cdf03b'/><stop offset='0.154' stop-color='#b4f038'/><stop offset='0.171' stop-color='#3cec30'/><stop offset='0.189' stop-color='#4dd481'/><stop offset='0.200' stop-color='#52cea0'/><stop offset='0.217' stop-color='#53cda2'/><stop offset='0.291' stop-color='#4ad86a'/><stop offset='0.377' stop-color='#46dd57'/><stop offset='0.457' stop-color='#48da62'/><stop offset='0.497' stop-color='#49d869'/><stop offset='0.646' stop-color='#3ee937'/><stop offset='0.697' stop-color='#43ec30'/><stop offset='0.886' stop-color='#8af031'/><stop offset='0.977' stop-color='#78ef30'/><stop offset='1.000' stop-color='#70ef30'/></linearGradient><linearGradient id='h35'><stop offset='0.000' stop-color='#47ed30'/><stop offset='0.086' stop-color='#6fef30'/><stop offset='0.131' stop-color='#92f032'/><stop offset='0.143' stop-color='#85f031'/><stop offset='0.154' stop-color='#5dee30'/><stop offset='0.160' stop-color='#3dec30'/><stop offset='0.171' stop-color='#49d869'/><stop offset='0.183' stop-color='#56cac3'/><stop offset='0.189' stop-color='#55bfe6'/><stop offset='0.194' stop-color='#4faceb'/><stop offset='0.200' stop-color='#4ea9ec'/><stop offset='0.217' stop-color='#58c8e0'/><stop offset='0.240' stop-color='#53cda5'/><stop offset='0.286' stop-color='#4cd57a'/><stop offset='0.360' stop-color='#49d964'/><stop offset='0.417' stop-color='#4bd770'/><stop offset='0.480' stop-color='#52ce9f'/><stop offset='0.509' stop-color='#50d093'/><stop offset='0.566' stop-color='#47db5c'/><stop offset='0.709' stop-color='#3ceb31'/><stop offset='0.891' stop-color='#73ef30'/><stop offset='1.000' stop-color='#64ee30'/></linearGradient><linearGradient id='h36'><stop offset='0.000' stop-color='#42ec30'/><stop offset='0.120' stop-color='#69ef30'/><stop offset='0.137' stop-color='#59ee30'/><stop offset='0.149' stop-color='#3deb34'/><stop offset='0.160' stop-color='#48db5e'/><stop offset='0.166' stop-color='#4fd289'/><stop offset='0.171' stop-color='#56cac6'/><stop offset='0.177' stop-color='#499bef'/><stop offset='0.183' stop-color='#315ff0'/><stop offset='0.189' stop-color='#243bf0'/><stop offset='0.194' stop-color='#2337f0'/><stop offset='0.200' stop-color='#2441f0'/><stop offset='0.223' stop-color='#4fadeb'/><stop offset='0.229' stop-color='#56c1e6'/><stop offset='0.251' stop-color='#54cca8'/><stop offset='0.297' stop-color='#4dd480'/><stop offset='0.360' stop-color='#4bd673'/><stop offset='0.411' stop-color='#4ed387'/><stop offset='0.446' stop-color='#54ccb0'/><stop offset='0.469' stop-color='#58c8e2'/><stop offset='0.486' stop-color='#54bde7'/><stop offset='0.503' stop-color='#58c8de'/><stop offset='0.531' stop-color='#52ce9e'/><stop offset='0.577' stop-color='#49d966'/><stop offset='0.663' stop-color='#41e444'/><stop offset='0.777' stop-color='#41ec30'/><stop offset='0.920' stop-color='#5eee30'/><stop offset='1.000' stop-color='#58ee30'/></linearGradient><linearGradient id='h37'><stop offset='0.000' stop-color='#3dec30'/><stop offset='0.109' stop-color='#50ed30'/><stop offset='0.131' stop-color='#3cec31'/><stop offset='0.149' stop-color='#46de56'/><stop offset='0.154' stop-color='#4bd770'/><stop offset='0.160' stop-color='#51cf98'/><stop offset='0.166' stop-color='#57c9dc'/><stop offset='0.171' stop-color='#3f82f0'/><stop offset='0.177' stop-color='#2333f0'/><stop offset='0.183' stop-color='#2010f0'/><stop offset='0.200' stop-color='#2010f0'/><stop offset='0.211' stop-color='#2542f0'/><stop offset='0.223' stop-color='#4188f0'/><stop offset='0.240' stop-color='#58c8e2'/><stop offset='0.257' stop-color='#55cbb3'/><stop offset='0.286' stop-color='#50d093'/><stop offset='0.343' stop-color='#4dd480'/><stop offset='0.394' stop-color='#50d190'/><stop offset='0.423' stop-color='#54ccaf'/><stop offset='0.440' stop-color='#57c9dc'/><stop offset='0.457' stop-color='#4ba0ee'/><stop offset='0.474' stop-color='#3b79f0'/><stop offset='0.486' stop-color='#3871f0'/><stop offset='0.503' stop-color='#4288f0'/><stop offset='0.526' stop-color='#58c8e2'/><stop offset='0.543' stop-color='#54ccab'/><stop offset='0.583' stop-color='#4bd673'/><stop offset='0.623' stop-color='#46dd59'/><stop offset='0.794' stop-color='#3eea36'/><stop offset='0.880' stop-color='#44ec30'/><stop offset='1.000' stop-color='#4bed30'/></linearGradient><linearGradient id='h38'><stop offset='0.000' stop-color='#3deb33'/><stop offset='0.103' stop-color='#3dec30'/><stop offset='0.131' stop-color='#42e347'/><stop offset='0.143' stop-color='#48da5f'/><stop offset='0.154' stop-color='#51cf99'/><stop offset='0.160' stop-color='#57c9d0'/><stop offset='0.166' stop-color='#4796f0'/><stop offset='0.171' stop-color='#2748f0'/><stop offset='0.177' stop-color='#2010f0'/><stop offset='0.206' stop-color='#2010f0'/><stop offset='0.217' stop-color='#294df0'/><stop offset='0.229' stop-color='#438bf0'/><stop offset='0.246' stop-color='#58c7e4'/><stop offset='0.269' stop-color='#54ccaf'/><stop offset='0.309' stop-color='#50d192'/><stop offset='0.360' stop-color='#50d18f'/><stop offset='0.400' stop-color='#54cca8'/><stop offset='0.429' stop-color='#56c3e5'/><stop offset='0.457' stop-color='#3467f0'/><stop offset='0.469' stop-color='#243ff0'/><stop offset='0.486' stop-color='#222df0'/><stop offset='0.503' stop-color='#2544f0'/><stop offset='0.531' stop-color='#50afea'/><stop offset='0.537' stop-color='#56c2e6'/><stop offset='0.560' stop-color='#53cda5'/><stop offset='0.606' stop-color='#4ad76f'/><stop offset='0.657' stop-color='#45de56'/><stop offset='0.971' stop-color='#3dec30'/><stop offset='1.000' stop-color='#3fec30'/></linearGradient><linearGradient id='h39'><stop offset='0.000' stop-color='#3ee937'/><stop offset='0.097' stop-color='#3ee939'/><stop offset='0.126' stop-color='#44e050'/><stop offset='0.137' stop-color='#49d966'/><stop offset='0.149' stop-color='#51d095'/><stop offset='0.154' stop-color='#55cbba'/><stop offset='0.160' stop-color='#53bae8'/><stop offset='0.171' stop-color='#243ef0'/><stop offset='0.177' stop-color='#2010f0'/><stop offset='0.206' stop-color='#2010f0'/><stop offset='0.217' stop-color='#2543f0'/><stop offset='0.229' stop-color='#3e7ff0'/><stop offset='0.246' stop-color='#53b9e8'/><stop offset='0.251' stop-color='#58c7e4'/><stop offset='0.280' stop-color='#54ccad'/><stop offset='0.326' stop-color='#51cf98'/><stop offset='0.377' stop-color='#53cda5'/><stop offset='0.400' stop-color='#56cac4'/><stop offset='0.417' stop-color='#56c1e6'/><stop offset='0.440' stop-color='#3c7bf0'/><stop offset='0.457' stop-color='#2337f0'/><stop offset='0.469' stop-color='#2015f0'/><stop offset='0.497' stop-color='#2010f0'/><stop offset='0.514' stop-color='#243cf0'/><stop offset='0.543' stop-color='#51b2ea'/><stop offset='0.549' stop-color='#57c4e5'/><stop offset='0.571' stop-color='#53cda6'/><stop offset='0.617' stop-color='#4bd674'/><stop offset='0.674' stop-color='#46dc5a'/><stop offset='0.920' stop-color='#41e542'/><stop offset='1.000' stop-color='#3eea37'/></linearGradient><linearGradient id='h40'><stop offset='0.000' stop-color='#3fe83b'/><stop offset='0.091' stop-color='#40e641'/><stop offset='0.126' stop-color='#47db5d'/><stop offset='0.143' stop-color='#50d18f'/><stop offset='0.149' stop-color='#53cda7'/><stop offset='0.154' stop-color='#57c9d1'/><stop offset='0.160' stop-color='#4faeeb'/><stop offset='0.171' stop-color='#294df0'/><stop offset='0.183' stop-color='#2010f0'/><stop offset='0.200' stop-color='#2010f0'/><stop offset='0.217' stop-color='#2849f0'/><stop offset='0.234' stop-color='#448ff0'/><stop offset='0.257' stop-color='#58c8e3'/><stop offset='0.286' stop-color='#55cbb4'/><stop offset='0.320' stop-color='#53cda3'/><stop offset='0.366' stop-color='#54ccac'/><stop offset='0.394' stop-color='#57c9d2'/><stop offset='0.406' stop-color='#56c2e6'/><stop offset='0.429' stop-color='#4085f0'/><stop offset='0.446' stop-color='#243ff0'/><stop offset='0.463' stop-color='#2010f0'/><stop offset='0.509' stop-color='#2010f0'/><stop offset='0.526' stop-color='#294cf0'/><stop offset='0.543' stop-color='#4794f0'/><stop offset='0.560' stop-color='#58c8e0'/><stop offset='0.583' stop-color='#53cda6'/><stop offset='0.634' stop-color='#4bd675'/><stop offset='0.703' stop-color='#47db5d'/><stop offset='0.891' stop-color='#46dd58'/><stop offset='1.000' stop-color='#40e63f'/></linearGradient><linearGradient id='h41'><stop offset='0.000' stop-color='#40e63f'/><stop offset='0.086' stop-color='#42e348'/><stop offset='0.120' stop-color='#48da61'/><stop offset='0.143' stop-color='#52cf9c'/><stop offset='0.149' stop-color='#55cbb5'/><stop offset='0.154' stop-color='#57c9db'/><stop offset='0.160' stop-color='#4fadeb'/><stop offset='0.177' stop-color='#2644f0'/><stop offset='0.189' stop-color='#2229f0'/><stop offset='0.200' stop-color='#222cf0'/><stop offset='0.211' stop-color='#2542f0'/><stop offset='0.234' stop-color='#448ef0'/><stop offset='0.257' stop-color='#56c1e6'/><stop offset='0.280' stop-color='#56cac7'/><stop offset='0.314' stop-color='#54ccae'/><stop offset='0.354' stop-color='#55cbb5'/><stop offset='0.389' stop-color='#58c8dd'/><stop offset='0.406' stop-color='#4faeeb'/><stop offset='0.429' stop-color='#376ef0'/><stop offset='0.440' stop-color='#243ff0'/><stop offset='0.457' stop-color='#2010f0'/><stop offset='0.514' stop-color='#2010f0'/><stop offset='0.531' stop-color='#294df0'/><stop offset='0.554' stop-color='#4ca4ed'/><stop offset='0.566' stop-color='#57c5e5'/><stop offset='0.594' stop-color='#53cda5'/><stop offset='0.646' stop-color='#4cd57b'/><stop offset='0.726' stop-color='#49d966'/><stop offset='0.869' stop-color='#4bd673'/><stop offset='1.000' stop-color='#42e348'/></linearGradient><linearGradient id='h42'><stop offset='0.000' stop-color='#41e543'/><stop offset='0.086' stop-color='#44e04f'/><stop offset='0.114' stop-color='#49d965'/><stop offset='0.137' stop-color='#51d095'/><stop offset='0.149' stop-color='#55cbbe'/><stop offset='0.154' stop-color='#58c8dd'/><stop offset='0.166' stop-color='#4796f0'/><stop offset='0.183' stop-color='#2c52f0'/><stop offset='0.194' stop-color='#2542f0'/><stop offset='0.211' stop-color='#2e59f0'/><stop offset='0.251' stop-color='#51b3e9'/><stop offset='0.269' stop-color='#58c8e0'/><stop offset='0.303' stop-color='#55cbbf'/><stop offset='0.343' stop-color='#55cbbe'/><stop offset='0.377' stop-color='#58c8dd'/><stop offset='0.394' stop-color='#51b4e9'/><stop offset='0.423' stop-color='#376ff0'/><stop offset='0.440' stop-color='#2335f0'/><stop offset='0.451' stop-color='#2010f0'/><stop offset='0.514' stop-color='#2010f0'/><stop offset='0.520' stop-color='#2118f0'/><stop offset='0.537' stop-color='#2c54f0'/><stop offset='0.560' stop-color='#4ca3ed'/><stop offset='0.571' stop-color='#56c1e6'/><stop offset='0.600' stop-color='#54ccab'/><stop offset='0.651' stop-color='#4ed383'/><stop offset='0.726' stop-color='#4bd673'/><stop offset='0.863' stop-color='#50d18e'/><stop offset='0.931' stop-color='#4ad86c'/><stop offset='1.000' stop-color='#44e050'/></linearGradient><linearGradient id='h43'><stop offset='0.000' stop-color='#42e348'/><stop offset='0.086' stop-color='#46dd57'/><stop offset='0.114' stop-color='#4bd770'/><stop offset='0.143' stop-color='#54ccaa'/><stop offset='0.154' stop-color='#57c9dc'/><stop offset='0.166' stop-color='#4ca3ed'/><stop offset='0.183' stop-color='#3871f0'/><stop offset='0.200' stop-color='#3262f0'/><stop offset='0.229' stop-color='#428af0'/><stop offset='0.269' stop-color='#57c6e5'/><stop offset='0.309' stop-color='#56cac8'/><stop offset='0.349' stop-color='#57c9cf'/><stop offset='0.377' stop-color='#56c1e6'/><stop offset='0.406' stop-color='#448ff0'/><stop offset='0.429' stop-color='#2a4ff0'/><stop offset='0.451' stop-color='#2010f0'/><stop offset='0.520' stop-color='#2013f0'/><stop offset='0.537' stop-color='#2747f0'/><stop offset='0.560' stop-color='#4794f0'/><stop offset='0.583' stop-color='#58c8e0'/><stop offset='0.611' stop-color='#54ccaa'/><stop offset='0.669' stop-color='#4ed288'/><stop offset='0.743' stop-color='#4ed383'/><stop offset='0.857' stop-color='#54ccaa'/><stop offset='0.903' stop-color='#51d097'/><stop offset='0.989' stop-color='#47db5c'/><stop offset='1.000' stop-color='#46dd59'/></linearGradient><linearGradient id='h44'><stop offset='0.000' stop-color='#43e14c'/><stop offset='0.086' stop-color='#47db5d'/><stop offset='0.120' stop-color='#4ed383'/><stop offset='0.143' stop-color='#54ccb0'/><stop offset='0.154' stop-color='#57c9d9'/><stop offset='0.166' stop-color='#50afea'/><stop offset='0.183' stop-color='#4186f0'/><stop offset='0.200' stop-color='#3b79f0'/><stop offset='0.229' stop-color='#4591f0'/><stop offset='0.274' stop-color='#57c6e4'/><stop offset='0.320' stop-color='#57c9d1'/><stop offset='0.366' stop-color='#56c2e6'/><stop offset='0.400' stop-color='#4590f0'/><stop offset='0.423' stop-color='#2e59f0'/><stop offset='0.446' stop-color='#211ef0'/><stop offset='0.451' stop-color='#2010f0'/><stop offset='0.520' stop-color='#2014f0'/><stop offset='0.537' stop-color='#2440f0'/><stop offset='0.560' stop-color='#4289f0'/><stop offset='0.589' stop-color='#58c8e4'/><stop offset='0.623' stop-color='#54ccab'/><stop offset='0.686' stop-color='#50d18f'/><stop offset='0.754' stop-color='#51d095'/><stop offset='0.806' stop-color='#55cbb2'/><stop offset='0.851' stop-color='#57c9d6'/><stop offset='0.880' stop-color='#56cace'/><stop offset='0.954' stop-color='#4dd481'/><stop offset='1.000' stop-color='#48da62'/></linearGradient><linearGradient id='h45'><stop offset='0.000' stop-color='#44e051'/><stop offset='0.080' stop-color='#48da61'/><stop offset='0.120' stop-color='#4fd28a'/><stop offset='0.143' stop-color='#55cbb4'/><stop offset='0.160' stop-color='#57c5e5'/><stop offset='0.183' stop-color='#4796f0'/><stop offset='0.206' stop-color='#428af0'/><stop offset='0.286' stop-color='#58c8e3'/><stop offset='0.326' stop-color='#57c9dc'/><stop offset='0.354' stop-color='#56c2e6'/><stop offset='0.394' stop-color='#4692f0'/><stop offset='0.423' stop-color='#2c54f0'/><stop offset='0.451' stop-color='#2013f0'/><stop offset='0.514' stop-color='#2010f0'/><stop offset='0.537' stop-color='#243ef0'/><stop offset='0.566' stop-color='#448ef0'/><stop offset='0.594' stop-color='#57c6e4'/><stop offset='0.640' stop-color='#54cca9'/><stop offset='0.703' stop-color='#51cf99'/><stop offset='0.766' stop-color='#54cca9'/><stop offset='0.823' stop-color='#56c3e5'/><stop offset='0.857' stop-color='#4faceb'/><stop offset='0.886' stop-color='#53b9e8'/><stop offset='0.903' stop-color='#58c8dd'/><stop offset='0.937' stop-color='#53cda4'/><stop offset='1.000' stop-color='#4ad76f'/></linearGradient><linearGradient id='h46'><stop offset='0.000' stop-color='#45de55'/><stop offset='0.074' stop-color='#49d966'/><stop offset='0.120' stop-color='#50d191'/><stop offset='0.143' stop-color='#55cbb6'/><stop offset='0.160' stop-color='#58c8e1'/><stop offset='0.189' stop-color='#4a9def'/><stop offset='0.217' stop-color='#4898f0'/><stop offset='0.291' stop-color='#57c6e5'/><stop offset='0.337' stop-color='#56c3e5'/><stop offset='0.377' stop-color='#4ca3ed'/><stop offset='0.411' stop-color='#366cf0'/><stop offset='0.434' stop-color='#2339f0'/><stop offset='0.457' stop-color='#2010f0'/><stop offset='0.514' stop-color='#2014f0'/><stop offset='0.543' stop-color='#2a4ff0'/><stop offset='0.577' stop-color='#4a9eef'/><stop offset='0.606' stop-color='#58c8e0'/><stop offset='0.651' stop-color='#54ccb0'/><stop offset='0.709' stop-color='#53cda5'/><stop offset='0.754' stop-color='#55cbb7'/><stop offset='0.794' stop-color='#58c8e4'/><stop offset='0.846' stop-color='#428af0'/><stop offset='0.874' stop-color='#4188f0'/><stop offset='0.903' stop-color='#4eabeb'/><stop offset='0.920' stop-color='#58c8e3'/><stop offset='0.954' stop-color='#53cda4'/><stop offset='1.000' stop-color='#4cd57b'/></linearGradient><linearGradient id='h47'><stop offset='0.000' stop-color='#46dd59'/><stop offset='0.069' stop-color='#4ad86b'/><stop offset='0.120' stop-color='#51d096'/><stop offset='0.143' stop-color='#55cbb8'/><stop offset='0.166' stop-color='#57c5e5'/><stop offset='0.194' stop-color='#4ca4ed'/><stop offset='0.229' stop-color='#4ca5ed'/><stop offset='0.303' stop-color='#56c3e5'/><stop offset='0.349' stop-color='#52b6e8'/><stop offset='0.394' stop-color='#4186f0'/><stop offset='0.440' stop-color='#2333f0'/><stop offset='0.469' stop-color='#2010f0'/><stop offset='0.509' stop-color='#2015f0'/><stop offset='0.537' stop-color='#2440f0'/><stop offset='0.577' stop-color='#4797f0'/><stop offset='0.611' stop-color='#58c8e4'/><stop offset='0.657' stop-color='#55cbbb'/><stop offset='0.709' stop-color='#55cbb3'/><stop offset='0.754' stop-color='#56cacd'/><stop offset='0.777' stop-color='#57c5e5'/><stop offset='0.834' stop-color='#3973f0'/><stop offset='0.857' stop-color='#2f5bf0'/><stop offset='0.880' stop-color='#3364f0'/><stop offset='0.926' stop-color='#52b7e8'/><stop offset='0.937' stop-color='#58c8de'/><stop offset='0.966' stop-color='#54cda7'/><stop offset='1.000' stop-color='#4ed388'/></linearGradient><linearGradient id='h48'><stop offset='0.000' stop-color='#47db5d'/><stop offset='0.074' stop-color='#4bd675'/><stop offset='0.131' stop-color='#53cda7'/><stop offset='0.166' stop-color='#58c8e2'/><stop offset='0.200' stop-color='#4eaaeb'/><stop offset='0.246' stop-color='#50afea'/><stop offset='0.314' stop-color='#54bde7'/><stop offset='0.360' stop-color='#4da8ec'/><stop offset='0.406' stop-color='#3871f0'/><stop offset='0.440' stop-color='#2337f0'/><stop offset='0.480' stop-color='#2012f0'/><stop offset='0.509' stop-color='#2120f0'/><stop offset='0.537' stop-color='#2645f0'/><stop offset='0.583' stop-color='#499af0'/><stop offset='0.623' stop-color='#58c8e2'/><stop offset='0.669' stop-color='#56cac4'/><stop offset='0.720' stop-color='#56cac7'/><stop offset='0.760' stop-color='#57c5e5'/><stop offset='0.806' stop-color='#4085f0'/><stop offset='0.846' stop-color='#243ef0'/><stop offset='0.869' stop-color='#2336f0'/><stop offset='0.886' stop-color='#2542f0'/><stop offset='0.937' stop-color='#52b5e9'/><stop offset='0.949' stop-color='#58c8df'/><stop offset='0.977' stop-color='#54cca8'/><stop offset='1.000' stop-color='#50d093'/></linearGradient><linearGradient id='h49'><stop offset='0.000' stop-color='#48da62'/><stop offset='0.086' stop-color='#4ed382'/><stop offset='0.137' stop-color='#55cbb1'/><stop offset='0.171' stop-color='#58c7e4'/><stop offset='0.211' stop-color='#4faeea'/><stop offset='0.314' stop-color='#53b9e8'/><stop offset='0.366' stop-color='#4a9eee'/><stop offset='0.417' stop-color='#315ff0'/><stop offset='0.446' stop-color='#2336f0'/><stop offset='0.480' stop-color='#211ff0'/><stop offset='0.514' stop-color='#232ef0'/><stop offset='0.537' stop-color='#2849f0'/><stop offset='0.589' stop-color='#499cef'/><stop offset='0.634' stop-color='#58c8e3'/><stop offset='0.686' stop-color='#57c9cf'/><stop offset='0.731' stop-color='#58c8df'/><stop offset='0.766' stop-color='#4faeeb'/><stop offset='0.806' stop-color='#376ef0'/><stop offset='0.834' stop-color='#2335f0'/><stop offset='0.863' stop-color='#2119f0'/><stop offset='0.886' stop-color='#2229f0'/><stop offset='0.903' stop-color='#2747f0'/><stop offset='0.943' stop-color='#4faceb'/><stop offset='0.960' stop-color='#57c9dd'/><stop offset='0.989' stop-color='#54cca8'/><stop offset='1.000' stop-color='#52ce9e'/></linearGradient><linearGradient id='h50'><stop offset='0.000' stop-color='#49d967'/><stop offset='0.086' stop-color='#4ed388'/><stop offset='0.137' stop-color='#55cbb3'/><stop offset='0.177' stop-color='#57c6e5'/><stop offset='0.223' stop-color='#51b2e9'/><stop offset='0.320' stop-color='#51b4e9'/><stop offset='0.377' stop-color='#4591f0'/><stop offset='0.446' stop-color='#243bf0'/><stop offset='0.486' stop-color='#2229f0'/><stop offset='0.526' stop-color='#243ef0'/><stop offset='0.594' stop-color='#4a9eee'/><stop offset='0.646' stop-color='#58c7e4'/><stop offset='0.697' stop-color='#58c8dd'/><stop offset='0.731' stop-color='#55bfe6'/><stop offset='0.777' stop-color='#448ef0'/><stop offset='0.811' stop-color='#294bf0'/><stop offset='0.846' stop-color='#2010f0'/><stop offset='0.886' stop-color='#2010f0'/><stop offset='0.914' stop-color='#294df0'/><stop offset='0.949' stop-color='#4da6ed'/><stop offset='0.966' stop-color='#58c8e4'/><stop offset='1.000' stop-color='#54cca8'/></linearGradient><linearGradient id='h51'><stop offset='0.000' stop-color='#4ad86c'/><stop offset='0.091' stop-color='#50d18f'/><stop offset='0.137' stop-color='#55cbb4'/><stop offset='0.183' stop-color='#57c5e5'/><stop offset='0.234' stop-color='#52b5e9'/><stop offset='0.326' stop-color='#50b0ea'/><stop offset='0.389' stop-color='#4085f0'/><stop offset='0.451' stop-color='#243df0'/><stop offset='0.491' stop-color='#2333f0'/><stop offset='0.526' stop-color='#2645f0'/><stop offset='0.600' stop-color='#4a9fee'/><stop offset='0.657' stop-color='#56c3e5'/><stop offset='0.709' stop-color='#55c0e6'/><stop offset='0.754' stop-color='#4a9fee'/><stop offset='0.794' stop-color='#3161f0'/><stop offset='0.823' stop-color='#2227f0'/><stop offset='0.834' stop-color='#2010f0'/><stop offset='0.897' stop-color='#2014f0'/><stop offset='0.920' stop-color='#284af0'/><stop offset='0.954' stop-color='#4ca3ed'/><stop offset='0.971' stop-color='#57c4e5'/><stop offset='1.000' stop-color='#55cbb5'/></linearGradient><linearGradient id='h52'><stop offset='0.000' stop-color='#4bd770'/><stop offset='0.097' stop-color='#51d096'/><stop offset='0.143' stop-color='#55cbbc'/><stop offset='0.189' stop-color='#57c6e5'/><stop offset='0.251' stop-color='#52b7e8'/><stop offset='0.331' stop-color='#4eabeb'/><stop offset='0.400' stop-color='#3c7af0'/><stop offset='0.463' stop-color='#243df0'/><stop offset='0.509' stop-color='#243ff0'/><stop offset='0.617' stop-color='#4ea9ec'/><stop offset='0.674' stop-color='#54bde7'/><stop offset='0.726' stop-color='#4fadeb'/><stop offset='0.771' stop-color='#3d7df0'/><stop offset='0.811' stop-color='#2331f0'/><stop offset='0.829' stop-color='#2010f0'/><stop offset='0.903' stop-color='#2014f0'/><stop offset='0.926' stop-color='#294cf0'/><stop offset='0.960' stop-color='#4ba2ee'/><stop offset='0.983' stop-color='#58c8df'/><stop offset='1.000' stop-color='#56cac1'/></linearGradient><linearGradient id='h53'><stop offset='0.000' stop-color='#4bd674'/><stop offset='0.103' stop-color='#52cf9c'/><stop offset='0.160' stop-color='#56cacc'/><stop offset='0.200' stop-color='#57c4e5'/><stop offset='0.337' stop-color='#4da7ec'/><stop offset='0.411' stop-color='#3871f0'/><stop offset='0.469' stop-color='#2543f0'/><stop offset='0.503' stop-color='#2644f0'/><stop offset='0.623' stop-color='#4da7ec'/><stop offset='0.680' stop-color='#52b5e9'/><stop offset='0.731' stop-color='#4ba0ee'/><stop offset='0.771' stop-color='#3973f0'/><stop offset='0.811' stop-color='#222af0'/><stop offset='0.823' stop-color='#2013f0'/><stop offset='0.903' stop-color='#2010f0'/><stop offset='0.931' stop-color='#2b51f0'/><stop offset='0.966' stop-color='#4ca3ed'/><stop offset='0.989' stop-color='#58c8e1'/><stop offset='1.000' stop-color='#56cacd'/></linearGradient><linearGradient id='h54'><stop offset='0.000' stop-color='#4cd578'/><stop offset='0.109' stop-color='#53cea1'/><stop offset='0.200' stop-color='#58c7e4'/><stop offset='0.343' stop-color='#4ca4ed'/><stop offset='0.469' stop-color='#294df0'/><stop offset='0.509' stop-color='#2b50f0'/><stop offset='0.629' stop-color='#4da6ed'/><stop offset='0.686' stop-color='#4faeeb'/><stop offset='0.737' stop-color='#4693f0'/><stop offset='0.777' stop-color='#3261f0'/><stop offset='0.806' stop-color='#232ff0'/><stop offset='0.823' stop-color='#2010f0'/><stop offset='0.909' stop-color='#2015f0'/><stop offset='0.931' stop-color='#2748f0'/><stop offset='0.966' stop-color='#499af0'/><stop offset='0.994' stop-color='#58c8e1'/><stop offset='1.000' stop-color='#57c9d7'/></linearGradient><linearGradient id='h55'><stop offset='0.000' stop-color='#4cd57b'/><stop offset='0.120' stop-color='#54cca9'/><stop offset='0.206' stop-color='#58c7e4'/><stop offset='0.343' stop-color='#4ca3ed'/><stop offset='0.469' stop-color='#2d56f0'/><stop offset='0.514' stop-color='#2f5bf0'/><stop offset='0.634' stop-color='#4ca4ed'/><stop offset='0.691' stop-color='#4da6ed'/><stop offset='0.743' stop-color='#4187f0'/><stop offset='0.783' stop-color='#2b51f0'/><stop offset='0.823' stop-color='#2010f0'/><stop offset='0.909' stop-color='#2014f0'/><stop offset='0.937' stop-color='#2c53f0'/><stop offset='0.977' stop-color='#4da8ec'/><stop offset='1.000' stop-color='#58c8e0'/></linearGradient><linearGradient id='h56'><stop offset='0.000' stop-color='#4dd47e'/><stop offset='0.120' stop-color='#54ccaa'/><stop offset='0.211' stop-color='#58c8e4'/><stop offset='0.349' stop-color='#4ba1ee'/><stop offset='0.469' stop-color='#305df0'/><stop offset='0.520' stop-color='#3364f0'/><stop offset='0.634' stop-color='#4ba0ee'/><stop offset='0.691' stop-color='#4ba0ee'/><stop offset='0.743' stop-color='#3f82f0'/><stop offset='0.783' stop-color='#294cf0'/><stop offset='0.823' stop-color='#2010f0'/><stop offset='0.903' stop-color='#2010f0'/><stop offset='0.937' stop-color='#2a4ff0'/><stop offset='0.977' stop-color='#4ba2ee'/><stop offset='1.000' stop-color='#57c5e5'/></linearGradient><linearGradient id='h57'><stop offset='0.000' stop-color='#4dd480'/><stop offset='0.126' stop-color='#54ccaf'/><stop offset='0.217' stop-color='#58c8e4'/><stop offset='0.354' stop-color='#4a9fee'/><stop offset='0.469' stop-color='#3365f0'/><stop offset='0.526' stop-color='#366cf0'/><stop offset='0.640' stop-color='#4a9eee'/><stop offset='0.703' stop-color='#4897f0'/><stop offset='0.754' stop-color='#3872f0'/><stop offset='0.800' stop-color='#2333f0'/><stop offset='0.829' stop-color='#2010f0'/><stop offset='0.903' stop-color='#2010f0'/><stop offset='0.937' stop-color='#2a4ef0'/><stop offset='0.983' stop-color='#4da7ec'/><stop offset='1.000' stop-color='#55c0e6'/></linearGradient><linearGradient id='h58'><stop offset='0.000' stop-color='#4ed383'/><stop offset='0.126' stop-color='#54ccaf'/><stop offset='0.223' stop-color='#58c8e4'/><stop offset='0.360' stop-color='#4a9def'/><stop offset='0.469' stop-color='#366bf0'/><stop offset='0.531' stop-color='#3973f0'/><stop offset='0.640' stop-color='#499bef'/><stop offset='0.703' stop-color='#4693f0'/><stop offset='0.754' stop-color='#376ff0'/><stop offset='0.800' stop-color='#2334f0'/><stop offset='0.829' stop-color='#2010f0'/><stop offset='0.897' stop-color='#2010f0'/><stop offset='0.937' stop-color='#2a4ff0'/><stop offset='0.983' stop-color='#4ca3ed'/><stop offset='1.000' stop-color='#54bce7'/></linearGradient><linearGradient id='h59'><stop offset='0.000' stop-color='#4ed385'/><stop offset='0.131' stop-color='#55cbb3'/><stop offset='0.234' stop-color='#58c7e4'/><stop offset='0.371' stop-color='#4899f0'/><stop offset='0.474' stop-color='#3870f0'/><stop offset='0.549' stop-color='#3d7df0'/><stop offset='0.651' stop-color='#499af0'/><stop offset='0.714' stop-color='#438bf0'/><stop offset='0.766' stop-color='#3160f0'/><stop offset='0.806' stop-color='#2330f0'/><stop offset='0.840' stop-color='#2010f0'/><stop offset='0.891' stop-color='#2010f0'/><stop offset='0.931' stop-color='#2645f0'/><stop offset='0.983' stop-color='#4ba0ee'/><stop offset='1.000' stop-color='#53b8e8'/></linearGradient><linearGradient id='h60'><stop offset='0.000' stop-color='#4ed387'/><stop offset='0.131' stop-color='#55cbb3'/><stop offset='0.240' stop-color='#58c7e4'/><stop offset='0.389' stop-color='#4693f0'/><stop offset='0.480' stop-color='#3a75f0'/><stop offset='0.566' stop-color='#4085f0'/><stop offset='0.657' stop-color='#4897f0'/><stop offset='0.720' stop-color='#4085f0'/><stop offset='0.777' stop-color='#2b52f0'/><stop offset='0.846' stop-color='#2011f0'/><stop offset='0.886' stop-color='#2015f0'/><stop offset='0.931' stop-color='#2849f0'/><stop offset='0.989' stop-color='#4da6ec'/><stop offset='1.000' stop-color='#52b5e9'/></linearGradient><linearGradient id='h61'><stop offset='0.000' stop-color='#4fd289'/><stop offset='0.137' stop-color='#55cbb6'/><stop offset='0.251' stop-color='#57c5e5'/><stop offset='0.474' stop-color='#3c7af0'/><stop offset='0.566' stop-color='#4187f0'/><stop offset='0.663' stop-color='#4795f0'/><stop offset='0.731' stop-color='#3d7df0'/><stop offset='0.811' stop-color='#2332f0'/><stop offset='0.857' stop-color='#2117f0'/><stop offset='0.891' stop-color='#2223f0'/><stop offset='0.926' stop-color='#2644f0'/><stop offset='0.994' stop-color='#4faceb'/><stop offset='1.000' stop-color='#51b3e9'/></linearGradient><linearGradient id='h62'><stop offset='0.000' stop-color='#4fd28b'/><stop offset='0.137' stop-color='#55cbb6'/><stop offset='0.257' stop-color='#57c5e5'/><stop offset='0.474' stop-color='#3e7ff0'/><stop offset='0.577' stop-color='#438bf0'/><stop offset='0.669' stop-color='#4693f0'/><stop offset='0.737' stop-color='#3b78f0'/><stop offset='0.817' stop-color='#2333f0'/><stop offset='0.863' stop-color='#2121f0'/><stop offset='0.909' stop-color='#2338f0'/><stop offset='0.943' stop-color='#3365f0'/><stop offset='1.000' stop-color='#50b1ea'/></linearGradient><linearGradient id='h63'><stop offset='0.000' stop-color='#4fd28c'/><stop offset='0.143' stop-color='#55cbb9'/><stop offset='0.263' stop-color='#57c5e5'/><stop offset='0.474' stop-color='#3f83f0'/><stop offset='0.669' stop-color='#4592f0'/><stop offset='0.743' stop-color='#3974f0'/><stop offset='0.823' stop-color='#2335f0'/><stop offset='0.869' stop-color='#222af0'/><stop offset='0.914' stop-color='#2542f0'/><stop offset='1.000' stop-color='#50b0ea'/></linearGradient><linearGradient id='h64'><stop offset='0.000' stop-color='#4fd18e'/><stop offset='0.143' stop-color='#55cbb9'/><stop offset='0.269' stop-color='#57c4e5'/><stop offset='0.474' stop-color='#4187f0'/><stop offset='0.669' stop-color='#4591f0'/><stop offset='0.743' stop-color='#3a75f0'/><stop offset='0.829' stop-color='#2338f0'/><stop offset='0.880' stop-color='#2335f0'/><stop offset='0.914' stop-color='#284af0'/><stop offset='1.000' stop-color='#50afea'/></linearGradient><linearGradient id='h65'><stop offset='0.000' stop-color='#50d18f'/><stop offset='0.149' stop-color='#55cbbb'/><stop offset='0.274' stop-color='#57c4e5'/><stop offset='0.474' stop-color='#428af0'/><stop offset='0.669' stop-color='#4591f0'/><stop offset='0.749' stop-color='#3972f0'/><stop offset='0.834' stop-color='#243cf0'/><stop offset='0.891' stop-color='#243ff0'/><stop offset='1.000' stop-color='#50afea'/></linearGradient><linearGradient id='h66'><stop offset='0.000' stop-color='#50d191'/><stop offset='0.149' stop-color='#55cbbb'/><stop offset='0.280' stop-color='#57c4e5'/><stop offset='0.474' stop-color='#448ef0'/><stop offset='0.674' stop-color='#448ff0'/><stop offset='0.760' stop-color='#366df0'/><stop offset='0.840' stop-color='#2440f0'/><stop offset='0.886' stop-color='#2644f0'/><stop offset='0.971' stop-color='#4692f0'/><stop offset='1.000' stop-color='#50afea'/></linearGradient><linearGradient id='h67'><stop offset='0.000' stop-color='#50d192'/><stop offset='0.154' stop-color='#55cbbc'/><stop offset='0.286' stop-color='#56c3e5'/><stop offset='0.474' stop-color='#4591f0'/><stop offset='0.680' stop-color='#448ef0'/><stop offset='0.777' stop-color='#3466f0'/><stop offset='0.851' stop-color='#2747f0'/><stop offset='0.897' stop-color='#2c54f0'/><stop offset='1.000' stop-color='#50b0ea'/></linearGradient><linearGradient id='h68'><stop offset='0.000' stop-color='#50d093'/><stop offset='0.160' stop-color='#55cbbe'/><stop offset='0.297' stop-color='#56c1e6'/><stop offset='0.480' stop-color='#4693f0'/><stop offset='0.680' stop-color='#448ff0'/><stop offset='0.794' stop-color='#3261f0'/><stop offset='0.857' stop-color='#2a4ff0'/><stop offset='0.914' stop-color='#3467f0'/><stop offset='1.000' stop-color='#50b0ea'/></linearGradient><linearGradient id='h69'><stop offset='0.000' stop-color='#51d094'/><stop offset='0.166' stop-color='#55cbc0'/><stop offset='0.297' stop-color='#56c3e5'/><stop offset='0.486' stop-color='#4796f0'/><stop offset='0.686' stop-color='#448ef0'/><stop offset='0.846' stop-color='#2e57f0'/><stop offset='0.903' stop-color='#3466f0'/><stop offset='1.000' stop-color='#50b1ea'/></linearGradient><linearGradient id='h70'><stop offset='0.000' stop-color='#51d096'/><stop offset='0.177' stop-color='#56cac3'/><stop offset='0.303' stop-color='#56c3e5'/><stop offset='0.491' stop-color='#4898f0'/><stop offset='0.686' stop-color='#448ff0'/><stop offset='0.846' stop-color='#305ef0'/><stop offset='0.909' stop-color='#376ff0'/><stop offset='1.000' stop-color='#51b2ea'/></linearGradient><linearGradient id='h71'><stop offset='0.000' stop-color='#51d097'/><stop offset='0.183' stop-color='#56cac4'/><stop offset='0.309' stop-color='#56c2e5'/><stop offset='0.497' stop-color='#499af0'/><stop offset='0.691' stop-color='#448ff0'/><stop offset='0.846' stop-color='#3365f0'/><stop offset='0.914' stop-color='#3b78f0'/><stop offset='1.000' stop-color='#51b3e9'/></linearGradient><linearGradient id='h72'><stop offset='0.000' stop-color='#51cf98'/><stop offset='0.194' stop-color='#56cac7'/><stop offset='0.314' stop-color='#56c2e5'/><stop offset='0.503' stop-color='#499cef'/><stop offset='0.697' stop-color='#448ff0'/><stop offset='0.846' stop-color='#366bf0'/><stop offset='0.914' stop-color='#3d7df0'/><stop offset='1.000' stop-color='#51b4e9'/></linearGradient><linearGradient id='h73'><stop offset='0.000' stop-color='#51cf98'/><stop offset='0.211' stop-color='#56cacb'/><stop offset='0.326' stop-color='#56c1e6'/><stop offset='0.509' stop-color='#4a9eee'/><stop offset='0.709' stop-color='#448ef0'/><stop offset='0.846' stop-color='#3871f0'/><stop offset='0.920' stop-color='#4084f0'/><stop offset='1.000' stop-color='#52b5e9'/></linearGradient><linearGradient id='h74'><stop offset='0.000' stop-color='#51cf99'/><stop offset='0.229' stop-color='#57c9cf'/><stop offset='0.331' stop-color='#56c1e6'/><stop offset='0.520' stop-color='#4ba0ee'/><stop offset='0.714' stop-color='#448ef0'/><stop offset='0.851' stop-color='#3a76f0'/><stop offset='0.931' stop-color='#448ef0'/><stop offset='1.000' stop-color='#52b6e8'/></linearGradient><linearGradient id='h75'><stop offset='0.000' stop-color='#51cf9a'/><stop offset='0.246' stop-color='#57c9d2'/><stop offset='0.343' stop-color='#55c0e6'/><stop offset='0.531' stop-color='#4ba1ee'/><stop offset='0.726' stop-color='#448df0'/><stop offset='0.851' stop-color='#3c7bf0'/><stop offset='0.937' stop-color='#4694f0'/><stop offset='1.000' stop-color='#53b8e8'/></linearGradient><linearGradient id='h76'><stop offset='0.000' stop-color='#52cf9b'/><stop offset='0.269' stop-color='#57c9d7'/><stop offset='0.354' stop-color='#55bfe6'/><stop offset='0.549' stop-color='#4ba2ed'/><stop offset='0.749' stop-color='#438bf0'/><stop offset='0.863' stop-color='#3f81f0'/><stop offset='0.960' stop-color='#4ca3ed'/><stop offset='1.000' stop-color='#53b9e8'/></linearGradient><linearGradient id='h77'><stop offset='0.000' stop-color='#52cf9c'/><stop offset='0.291' stop-color='#57c9dc'/><stop offset='0.429' stop-color='#50b1ea'/><stop offset='0.766' stop-color='#428af0'/><stop offset='0.874' stop-color='#4187f0'/><stop offset='0.977' stop-color='#4faeea'/><stop offset='1.000' stop-color='#53bae7'/></linearGradient><linearGradient id='h78'><stop offset='0.000' stop-color='#52cf9c'/><stop offset='0.309' stop-color='#58c8df'/><stop offset='0.566' stop-color='#4ca5ed'/><stop offset='0.851' stop-color='#4188f0'/><stop offset='0.949' stop-color='#4ca3ed'/><stop offset='1.000' stop-color='#54bce7'/></linearGradient><linearGradient id='h79'><stop offset='0.000' stop-color='#52ce9d'/><stop offset='0.360' stop-color='#56c2e5'/><stop offset='0.589' stop-color='#4ca5ed'/><stop offset='0.851' stop-color='#438cf0'/><stop offset='0.954' stop-color='#4da8ec'/><stop offset='1.000' stop-color='#54bde7'/></linearGradient><linearGradient id='h80'><stop offset='0.000' stop-color='#52ce9e'/><stop offset='0.366' stop-color='#56c3e5'/><stop offset='0.617' stop-color='#4ca5ed'/><stop offset='0.851' stop-color='#4590f0'/><stop offset='0.954' stop-color='#4eaaeb'/><stop offset='1.000' stop-color='#55bee6'/></linearGradient><linearGradient id='h81'><stop offset='0.000' stop-color='#52ce9e'/><stop offset='0.377' stop-color='#56c2e5'/><stop offset='0.823' stop-color='#4592f0'/><stop offset='0.931' stop-color='#4ca4ed'/><stop offset='1.000' stop-color='#55c0e6'/></linearGradient><linearGradient id='h82'><stop offset='0.000' stop-color='#52ce9f'/><stop offset='0.383' stop-color='#56c3e5'/><stop offset='0.829' stop-color='#4795f0'/><stop offset='0.937' stop-color='#4ea9ec'/><stop offset='1.000' stop-color='#56c1e6'/></linearGradient><linearGradient id='h83'><stop offset='0.000' stop-color='#52ce9f'/><stop offset='0.394' stop-color='#56c2e5'/><stop offset='0.840' stop-color='#4899f0'/><stop offset='0.960' stop-color='#51b3e9'/><stop offset='1.000' stop-color='#56c2e5'/></linearGradient><linearGradient id='h84'><stop offset='0.000' stop-color='#52cea0'/><stop offset='0.400' stop-color='#56c3e5'/><stop offset='0.834' stop-color='#499bef'/><stop offset='0.960' stop-color='#52b5e9'/><stop offset='1.000' stop-color='#57c4e5'/></linearGradient><linearGradient id='h85'><stop offset='0.000' stop-color='#52cea0'/><stop offset='0.411' stop-color='#56c3e5'/><stop offset='0.834' stop-color='#4a9fee'/><stop offset='0.966' stop-color='#53b9e8'/><stop offset='1.000' stop-color='#57c5e5'/></linearGradient><linearGradient id='h86'><stop offset='0.000' stop-color='#53cea1'/><stop offset='0.423' stop-color='#56c2e5'/><stop offset='0.834' stop-color='#4ba1ee'/><stop offset='0.971' stop-color='#54bde7'/><stop offset='1.000' stop-color='#57c6e4'/></linearGradient><filter id="hblur" x="-5%" y="-5%" width="110%" height="110%"><feGaussianBlur stdDeviation="0.4 1.1"/></filter><clipPath id="hclip"><rect x="68.2" y="446.8" width="174.5" height="164.9"/></clipPath></defs><g clip-path="url(#hclip)"><g filter="url(#hblur)" shape-rendering="crispEdges"><rect x='68.2' y='442' width='174.5' height='2' fill='url(#h0)'/><rect x='68.2' y='444' width='174.5' height='2' fill='url(#h1)'/><rect x='68.2' y='446' width='174.5' height='2' fill='url(#h2)'/><rect x='68.2' y='448' width='174.5' height='2' fill='url(#h3)'/><rect x='68.2' y='450' width='174.5' height='2' fill='url(#h4)'/><rect x='68.2' y='452' width='174.5' height='2' fill='url(#h5)'/><rect x='68.2' y='454' width='174.5' height='2' fill='url(#h6)'/><rect x='68.2' y='456' width='174.5' height='2' fill='url(#h7)'/><rect x='68.2' y='458' width='174.5' height='2' fill='url(#h8)'/><rect x='68.2' y='460' width='174.5' height='2' fill='url(#h9)'/><rect x='68.2' y='462' width='174.5' height='2' fill='url(#h10)'/><rect x='68.2' y='464' width='174.5' height='2' fill='url(#h11)'/><rect x='68.2' y='466' width='174.5' height='2' fill='url(#h12)'/><rect x='68.2' y='468' width='174.5' height='2' fill='url(#h13)'/><rect x='68.2' y='470' width='174.5' height='2' fill='url(#h14)'/><rect x='68.2' y='472' width='174.5' height='2' fill='url(#h15)'/><rect x='68.2' y='474' width='174.5' height='2' fill='url(#h16)'/><rect x='68.2' y='476' width='174.5' height='2' fill='url(#h17)'/><rect x='68.2' y='478' width='174.5' height='2' fill='url(#h18)'/><rect x='68.2' y='480' width='174.5' height='2' fill='url(#h19)'/><rect x='68.2' y='482' width='174.5' height='2' fill='url(#h20)'/><rect x='68.2' y='484' width='174.5' height='2' fill='url(#h21)'/><rect x='68.2' y='486' width='174.5' height='2' fill='url(#h22)'/><rect x='68.2' y='488' width='174.5' height='2' fill='url(#h23)'/><rect x='68.2' y='490' width='174.5' height='2' fill='url(#h24)'/><rect x='68.2' y='492' width='174.5' height='2' fill='url(#h25)'/><rect x='68.2' y='494' width='174.5' height='2' fill='url(#h26)'/><rect x='68.2' y='496' width='174.5' height='2' fill='url(#h27)'/><rect x='68.2' y='498' width='174.5' height='2' fill='url(#h28)'/><rect x='68.2' y='500' width='174.5' height='2' fill='url(#h29)'/><rect x='68.2' y='502' width='174.5' height='2' fill='url(#h30)'/><rect x='68.2' y='504' width='174.5' height='2' fill='url(#h31)'/><rect x='68.2' y='506' width='174.5' height='2' fill='url(#h32)'/><rect x='68.2' y='508' width='174.5' height='2' fill='url(#h33)'/><rect x='68.2' y='510' width='174.5' height='2' fill='url(#h34)'/><rect x='68.2' y='512' width='174.5' height='2' fill='url(#h35)'/><rect x='68.2' y='514' width='174.5' height='2' fill='url(#h36)'/><rect x='68.2' y='516' width='174.5' height='2' fill='url(#h37)'/><rect x='68.2' y='518' width='174.5' height='2' fill='url(#h38)'/><rect x='68.2' y='520' width='174.5' height='2' fill='url(#h39)'/><rect x='68.2' y='522' width='174.5' height='2' fill='url(#h40)'/><rect x='68.2' y='524' width='174.5' height='2' fill='url(#h41)'/><rect x='68.2' y='526' width='174.5' height='2' fill='url(#h42)'/><rect x='68.2' y='528' width='174.5' height='2' fill='url(#h43)'/><rect x='68.2' y='530' width='174.5' height='2' fill='url(#h44)'/><rect x='68.2' y='532' width='174.5' height='2' fill='url(#h45)'/><rect x='68.2' y='534' width='174.5' height='2' fill='url(#h46)'/><rect x='68.2' y='536' width='174.5' height='2' fill='url(#h47)'/><rect x='68.2' y='538' width='174.5' height='2' fill='url(#h48)'/><rect x='68.2' y='540' width='174.5' height='2' fill='url(#h49)'/><rect x='68.2' y='542' width='174.5' height='2' fill='url(#h50)'/><rect x='68.2' y='544' width='174.5' height='2' fill='url(#h51)'/><rect x='68.2' y='546' width='174.5' height='2' fill='url(#h52)'/><rect x='68.2' y='548' width='174.5' height='2' fill='url(#h53)'/><rect x='68.2' y='550' width='174.5' height='2' fill='url(#h54)'/><rect x='68.2' y='552' width='174.5' height='2' fill='url(#h55)'/><rect x='68.2' y='554' width='174.5' height='2' fill='url(#h56)'/><rect x='68.2' y='556' width='174.5' height='2' fill='url(#h57)'/><rect x='68.2' y='558' width='174.5' height='2' fill='url(#h58)'/><rect x='68.2' y='560' width='174.5' height='2' fill='url(#h59)'/><rect x='68.2' y='562' width='174.5' height='2' fill='url(#h60)'/><rect x='68.2' y='564' width='174.5' height='2' fill='url(#h61)'/><rect x='68.2' y='566' width='174.5' height='2' fill='url(#h62)'/><rect x='68.2' y='568' width='174.5' height='2' fill='url(#h63)'/><rect x='68.2' y='570' width='174.5' height='2' fill='url(#h64)'/><rect x='68.2' y='572' width='174.5' height='2' fill='url(#h65)'/><rect x='68.2' y='574' width='174.5' height='2' fill='url(#h66)'/><rect x='68.2' y='576' width='174.5' height='2' fill='url(#h67)'/><rect x='68.2' y='578' width='174.5' height='2' fill='url(#h68)'/><rect x='68.2' y='580' width='174.5' height='2' fill='url(#h69)'/><rect x='68.2' y='582' width='174.5' height='2' fill='url(#h70)'/><rect x='68.2' y='584' width='174.5' height='2' fill='url(#h71)'/><rect x='68.2' y='586' width='174.5' height='2' fill='url(#h72)'/><rect x='68.2' y='588' width='174.5' height='2' fill='url(#h73)'/><rect x='68.2' y='590' width='174.5' height='2' fill='url(#h74)'/><rect x='68.2' y='592' width='174.5' height='2' fill='url(#h75)'/><rect x='68.2' y='594' width='174.5' height='2' fill='url(#h76)'/><rect x='68.2' y='596' width='174.5' height='2' fill='url(#h77)'/><rect x='68.2' y='598' width='174.5' height='2' fill='url(#h78)'/><rect x='68.2' y='600' width='174.5' height='2' fill='url(#h79)'/><rect x='68.2' y='602' width='174.5' height='2' fill='url(#h80)'/><rect x='68.2' y='604' width='174.5' height='2' fill='url(#h81)'/><rect x='68.2' y='606' width='174.5' height='2' fill='url(#h82)'/><rect x='68.2' y='608' width='174.5' height='2' fill='url(#h83)'/><rect x='68.2' y='610' width='174.5' height='2' fill='url(#h84)'/><rect x='68.2' y='612' width='174.5' height='2' fill='url(#h85)'/><rect x='68.2' y='614' width='174.5' height='2' fill='url(#h86)'/></g></g>
<rect x='68.2' y='446.8' width='174.5' height='164.9' fill='none' stroke='#333' stroke-width='0.9'/>
<text x='64.6' y='450.7' font-family='Liberation Serif, serif' font-size='11.5' font-weight='normal' text-anchor='end' fill='#222' >800</text>
<line x1='68.2' y1='446.8' x2='70.7' y2='446.8' stroke='#333' stroke-width='0.8'/>
<text x='64.6' y='471.3125' font-family='Liberation Serif, serif' font-size='11.5' font-weight='normal' text-anchor='end' fill='#222' >600</text>
<line x1='68.2' y1='467.4' x2='70.7' y2='467.4' stroke='#333' stroke-width='0.8'/>
<text x='64.6' y='491.925' font-family='Liberation Serif, serif' font-size='11.5' font-weight='normal' text-anchor='end' fill='#222' >400</text>
<line x1='68.2' y1='488.0' x2='70.7' y2='488.0' stroke='#333' stroke-width='0.8'/>
<text x='64.6' y='512.5375' font-family='Liberation Serif, serif' font-size='11.5' font-weight='normal' text-anchor='end' fill='#222' >200</text>
<line x1='68.2' y1='508.6' x2='70.7' y2='508.6' stroke='#333' stroke-width='0.8'/>
<text x='64.6' y='533.15' font-family='Liberation Serif, serif' font-size='11.5' font-weight='normal' text-anchor='end' fill='#222' >0</text>
<line x1='68.2' y1='529.2' x2='70.7' y2='529.2' stroke='#333' stroke-width='0.8'/>
<text x='64.6' y='553.7625' font-family='Liberation Serif, serif' font-size='11.5' font-weight='normal' text-anchor='end' fill='#222' >-200</text>
<line x1='68.2' y1='549.9' x2='70.7' y2='549.9' stroke='#333' stroke-width='0.8'/>
<text x='64.6' y='574.375' font-family='Liberation Serif, serif' font-size='11.5' font-weight='normal' text-anchor='end' fill='#222' >-400</text>
<line x1='68.2' y1='570.5' x2='70.7' y2='570.5' stroke='#333' stroke-width='0.8'/>
<text x='64.6' y='594.9875000000001' font-family='Liberation Serif, serif' font-size='11.5' font-weight='normal' text-anchor='end' fill='#222' >-600</text>
<line x1='68.2' y1='591.1' x2='70.7' y2='591.1' stroke='#333' stroke-width='0.8'/>
<text x='64.6' y='615.6' font-family='Liberation Serif, serif' font-size='11.5' font-weight='normal' text-anchor='end' fill='#222' >-800</text>
<line x1='68.2' y1='611.7' x2='70.7' y2='611.7' stroke='#333' stroke-width='0.8'/>
<text x='68.2' y='625.5' font-family='Liberation Serif, serif' font-size='11.5' font-weight='normal' text-anchor='middle' fill='#222' >0.0</text>
<line x1='68.2' y1='611.7' x2='68.2' y2='609.2' stroke='#333' stroke-width='0.8'/>
<text x='103.1' y='625.5' font-family='Liberation Serif, serif' font-size='11.5' font-weight='normal' text-anchor='middle' fill='#222' >0.5</text>
<line x1='103.1' y1='611.7' x2='103.1' y2='609.2' stroke='#333' stroke-width='0.8'/>
<text x='138.0' y='625.5' font-family='Liberation Serif, serif' font-size='11.5' font-weight='normal' text-anchor='middle' fill='#222' >1.0</text>
<line x1='138.0' y1='611.7' x2='138.0' y2='609.2' stroke='#333' stroke-width='0.8'/>
<text x='172.89999999999998' y='625.5' font-family='Liberation Serif, serif' font-size='11.5' font-weight='normal' text-anchor='middle' fill='#222' >1.5</text>
<line x1='172.9' y1='611.7' x2='172.9' y2='609.2' stroke='#333' stroke-width='0.8'/>
<text x='207.8' y='625.5' font-family='Liberation Serif, serif' font-size='11.5' font-weight='normal' text-anchor='middle' fill='#222' >2.0</text>
<line x1='207.8' y1='611.7' x2='207.8' y2='609.2' stroke='#333' stroke-width='0.8'/>
<text x='242.7' y='625.5' font-family='Liberation Serif, serif' font-size='11.5' font-weight='normal' text-anchor='middle' fill='#222' >2.5</text>
<line x1='242.7' y1='611.7' x2='242.7' y2='609.2' stroke='#333' stroke-width='0.8'/>
<text x='139' y='640.5' font-family='Liberation Sans, sans-serif' font-size='15'><tspan font-style='italic' font-family='Liberation Serif, serif'>f</tspan><tspan font-size='9' dy='3' font-style='italic' font-family='Liberation Serif, serif'>r</tspan><tspan dy='-3'> (kHz)</tspan></text>
<text transform='translate(36,552) rotate(-90)' font-family='Liberation Sans, sans-serif' font-size='15'><tspan font-style='italic' font-family='Liberation Serif, serif'>f</tspan><tspan font-size='9' dy='3' font-style='italic' font-family='Liberation Serif, serif'>i</tspan><tspan dy='-3'> (kHz)</tspan></text>
<line x1='68.2' y1='529.4' x2='242.7' y2='529.4' stroke='#111' stroke-width='1.6' stroke-dasharray='5.5 3.5'/>
<path d='M68.5,550.6 C69.4,550.4 72.1,550.2 74.1,549.2 C76.1,548.2 78.6,546.3 80.6,544.6 C82.6,542.9 84.5,541.0 86.1,539.0 C87.6,537.0 88.8,534.8 89.9,532.5 C91.0,530.2 91.5,527.7 92.6,525.1 C93.7,522.5 95.0,519.0 96.4,516.7 C97.8,514.4 99.5,512.3 101.0,511.1 C102.5,509.9 104.0,509.5 105.6,509.3 C107.1,509.1 108.6,509.7 110.3,510.2 C112.0,510.7 114.0,511.7 115.9,512.5 C117.9,513.3 120.3,514.5 122.0,514.9 C123.7,515.3 124.2,515.1 126.0,515.0 C127.8,514.9 130.4,514.5 132.9,514.0 C135.4,513.5 138.4,512.5 141.2,511.9 C144.0,511.3 147.1,510.5 149.6,510.2 C152.1,509.9 153.8,509.7 156.0,509.9 C158.2,510.1 160.3,510.7 163.0,511.5 C165.7,512.3 168.2,513.2 172.0,514.5 C175.8,515.8 181.2,518.5 186.0,519.2 C190.8,519.9 195.9,518.5 201.0,518.7 C206.1,518.9 211.5,519.6 216.7,520.2 C221.9,520.8 227.7,521.7 232.0,522.5 C236.3,523.3 240.9,524.6 242.7,525.0' fill='none' stroke='#111' stroke-width='0.9'/>
<text x='103.5' y='506' font-family='Liberation Serif, serif' font-size='13' font-weight='bold'><tspan font-style='italic'>α</tspan>=0.5</text>
<line x1='127.5' y1='571' x2='148.5' y2='535.5' stroke='#e03030' stroke-width='2.2'/>
<polygon points='151.8,530.3 151.2,539.5 144.8,535.7' fill='#e03030'/>
<text x='76.6' y='591' font-family='Liberation Serif, serif' font-size='13.7' font-weight='bold' text-anchor='start' fill='#d83838' >Critical coupling</text>
<defs><linearGradient id='cbar' x1='0' y1='1' x2='0' y2='0'><stop offset='0.000' stop-color='rgb(32,16,240)'/><stop offset='0.100' stop-color='rgb(36,64,240)'/><stop offset='0.200' stop-color='rgb(72,152,240)'/><stop offset='0.250' stop-color='rgb(88,200,228)'/><stop offset='0.300' stop-color='rgb(84,204,170)'/><stop offset='0.400' stop-color='rgb(72,218,96)'/><stop offset='0.500' stop-color='rgb(60,236,48)'/><stop offset='0.600' stop-color='rgb(130,240,48)'/><stop offset='0.700' stop-color='rgb(210,240,60)'/><stop offset='0.750' stop-color='rgb(240,240,64)'/><stop offset='0.800' stop-color='rgb(232,182,56)'/><stop offset='0.900' stop-color='rgb(232,104,48)'/><stop offset='1.000' stop-color='rgb(240,40,32)'/></linearGradient></defs>
<rect x='259' y='446.8' width='12.2' height='165.2' fill='url(#cbar)'/>
<line x1='271.2' y1='447.0' x2='273.8' y2='447.0' stroke='#333' stroke-width='0.6'/>
<text x='278' y='450.1' font-family='Liberation Serif, serif' font-size='8.9' font-weight='normal' text-anchor='start' fill='#222' >1.5</text>
<line x1='271.2' y1='463.4' x2='273.8' y2='463.4' stroke='#333' stroke-width='0.6'/>
<text x='278' y='466.55' font-family='Liberation Serif, serif' font-size='8.9' font-weight='normal' text-anchor='start' fill='#222' >1.2</text>
<line x1='271.2' y1='479.9' x2='273.8' y2='479.9' stroke='#333' stroke-width='0.6'/>
<text x='278' y='483.0' font-family='Liberation Serif, serif' font-size='8.9' font-weight='normal' text-anchor='start' fill='#222' >0.9</text>
<line x1='271.2' y1='496.4' x2='273.8' y2='496.4' stroke='#333' stroke-width='0.6'/>
<text x='278' y='499.45000000000005' font-family='Liberation Serif, serif' font-size='8.9' font-weight='normal' text-anchor='start' fill='#222' >0.6</text>
<line x1='271.2' y1='512.8' x2='273.8' y2='512.8' stroke='#333' stroke-width='0.6'/>
<text x='278' y='515.9' font-family='Liberation Serif, serif' font-size='8.9' font-weight='normal' text-anchor='start' fill='#222' >0.3</text>
<line x1='271.2' y1='529.2' x2='273.8' y2='529.2' stroke='#333' stroke-width='0.6'/>
<text x='278' y='532.35' font-family='Liberation Serif, serif' font-size='8.9' font-weight='normal' text-anchor='start' fill='#222' >0.0</text>
<line x1='271.2' y1='545.7' x2='273.8' y2='545.7' stroke='#333' stroke-width='0.6'/>
<text x='275' y='548.8000000000001' font-family='Liberation Serif, serif' font-size='8.9' font-weight='normal' text-anchor='start' fill='#222' >-0.3</text>
<line x1='271.2' y1='562.1' x2='273.8' y2='562.1' stroke='#333' stroke-width='0.6'/>
<text x='275' y='565.25' font-family='Liberation Serif, serif' font-size='8.9' font-weight='normal' text-anchor='start' fill='#222' >-0.6</text>
<line x1='271.2' y1='578.6' x2='273.8' y2='578.6' stroke='#333' stroke-width='0.6'/>
<text x='275' y='581.7' font-family='Liberation Serif, serif' font-size='8.9' font-weight='normal' text-anchor='start' fill='#222' >-0.9</text>
<line x1='271.2' y1='595.0' x2='273.8' y2='595.0' stroke='#333' stroke-width='0.6'/>
<text x='275' y='598.15' font-family='Liberation Serif, serif' font-size='8.9' font-weight='normal' text-anchor='start' fill='#222' >-1.2</text>
<line x1='271.2' y1='611.5' x2='273.8' y2='611.5' stroke='#333' stroke-width='0.6'/>
<text x='275' y='614.6' font-family='Liberation Serif, serif' font-size='8.9' font-weight='normal' text-anchor='start' fill='#222' >-1.5</text>
<text x='246.8' y='438' font-family='Liberation Serif, serif' font-size='11.2'>log<tspan font-size='7.4' dy='2.4'>10</tspan><tspan dy='-2.4'>|</tspan><tspan font-style='italic'>R</tspan>|<tspan font-size='7.4' dy='-4.2'>2</tspan></text>
<text x='302.3' y='207.6' font-family='Liberation Sans, sans-serif' font-size='25.6' font-weight='normal' text-anchor='start' fill='#000' >(d)</text>
<defs><clipPath id='dtop'><rect x='320' y='190' width='170' height='107.5'/></clipPath><clipPath id='dbot'><rect x='320' y='299.5' width='170' height='110'/></clipPath></defs>
<g clip-path='url(#dtop)'>
<line x1='473' y1='201.5' x2='355.9' y2='263.3' stroke='#cfa878' stroke-width='3.9' stroke-linecap='round'/>
<line x1='472.7' y1='200.9' x2='355.6' y2='262.7' stroke='#ecd4a0' stroke-width='2.15' stroke-linecap='round'/>
<line x1='404.7' y1='210.4' x2='422.6' y2='251' stroke='#cfa878' stroke-width='3.9' stroke-linecap='round'/>
<line x1='404.1' y1='210.7' x2='422.0' y2='251.3' stroke='#ecd4a0' stroke-width='2.15' stroke-linecap='round'/>
<line x1='448.6' y1='224.2' x2='468' y2='299' stroke='#cfa878' stroke-width='3.9' stroke-linecap='round'/>
<line x1='447.9' y1='224.4' x2='467.3' y2='299.2' stroke='#ecd4a0' stroke-width='2.15' stroke-linecap='round'/>
<line x1='329.9' y1='219.4' x2='355.9' y2='263.3' stroke='#cfa878' stroke-width='3.9' stroke-linecap='round'/>
<line x1='329.3' y1='219.8' x2='355.3' y2='263.7' stroke='#ecd4a0' stroke-width='2.15' stroke-linecap='round'/>
<line x1='355.9' y1='263.3' x2='378' y2='300' stroke='#cfa878' stroke-width='3.9' stroke-linecap='round'/>
<line x1='355.3' y1='263.7' x2='377.4' y2='300.4' stroke='#ecd4a0' stroke-width='2.15' stroke-linecap='round'/>
<line x1='329.9' y1='221' x2='396' y2='300' stroke='#dccc8e' stroke-width='3.8' stroke-linecap='round'/>
<line x1='329.4' y1='221.4' x2='395.5' y2='300.4' stroke='#f4f0a6' stroke-width='2.09' stroke-linecap='round'/>
<line x1='370.5' y1='200.7' x2='355.9' y2='263.3' stroke='#dccc8e' stroke-width='3.8' stroke-linecap='round'/>
<line x1='369.8' y1='200.5' x2='355.2' y2='263.1' stroke='#f4f0a6' stroke-width='2.09' stroke-linecap='round'/>
<line x1='404.7' y1='210.4' x2='460' y2='266.5' stroke='#dccc8e' stroke-width='3.8' stroke-linecap='round'/>
<line x1='404.2' y1='210.9' x2='459.5' y2='267.0' stroke='#f4f0a6' stroke-width='2.09' stroke-linecap='round'/>
<line x1='473' y1='201.5' x2='460' y2='286' stroke='#dccc8e' stroke-width='3.8' stroke-linecap='round'/>
<line x1='472.3' y1='201.4' x2='459.3' y2='285.9' stroke='#f4f0a6' stroke-width='2.09' stroke-linecap='round'/>
<line x1='355.9' y1='263.3' x2='422.6' y2='251' stroke='#dccc8e' stroke-width='3.8' stroke-linecap='round'/>
<line x1='355.8' y1='262.6' x2='422.5' y2='250.3' stroke='#f4f0a6' stroke-width='2.09' stroke-linecap='round'/>
<line x1='422.6' y1='251' x2='460' y2='268' stroke='#dccc8e' stroke-width='3.8' stroke-linecap='round'/>
<line x1='422.9' y1='250.4' x2='460.3' y2='267.4' stroke='#f4f0a6' stroke-width='2.09' stroke-linecap='round'/>
<line x1='395' y1='282.7' x2='460' y2='268' stroke='#dccc8e' stroke-width='3.8' stroke-linecap='round'/>
<line x1='394.8' y1='282.0' x2='459.8' y2='267.3' stroke='#f4f0a6' stroke-width='2.09' stroke-linecap='round'/>
<line x1='355.9' y1='263.3' x2='340' y2='300' stroke='#dccc8e' stroke-width='3.8' stroke-linecap='round'/>
<line x1='355.3' y1='263.0' x2='339.4' y2='299.7' stroke='#f4f0a6' stroke-width='2.09' stroke-linecap='round'/>
<line x1='422.6' y1='251' x2='410' y2='300' stroke='#dccc8e' stroke-width='3.8' stroke-linecap='round'/>
<line x1='421.9' y1='250.8' x2='409.3' y2='299.8' stroke='#f4f0a6' stroke-width='2.09' stroke-linecap='round'/>
<line x1='404.7' y1='210.4' x2='399' y2='300' stroke='#dccc8e' stroke-width='3.8' stroke-linecap='round'/>
<line x1='404.0' y1='210.4' x2='398.3' y2='300.0' stroke='#f4f0a6' stroke-width='2.09' stroke-linecap='round'/>
<line x1='460' y1='268' x2='477' y2='300' stroke='#dccc8e' stroke-width='3.8' stroke-linecap='round'/>
<line x1='459.4' y1='268.3' x2='476.4' y2='300.3' stroke='#f4f0a6' stroke-width='2.09' stroke-linecap='round'/>
<line x1='370.5' y1='200' x2='473' y2='201.5' stroke='#dccc8e' stroke-width='3.8' stroke-linecap='round'/>
<line x1='370.5' y1='199.3' x2='473.0' y2='200.8' stroke='#f4f0a6' stroke-width='2.09' stroke-linecap='round'/>
<line x1='370.5' y1='200' x2='404.7' y2='210.4' stroke='#dccc8e' stroke-width='3.8' stroke-linecap='round'/>
<line x1='370.7' y1='199.3' x2='404.9' y2='209.7' stroke='#f4f0a6' stroke-width='2.09' stroke-linecap='round'/>
<line x1='329.9' y1='219.4' x2='404.7' y2='210.4' stroke='#dccc8e' stroke-width='3.8' stroke-linecap='round'/>
<line x1='329.8' y1='218.7' x2='404.6' y2='209.7' stroke='#f4f0a6' stroke-width='2.09' stroke-linecap='round'/>
<line x1='404.7' y1='210.4' x2='473' y2='201.5' stroke='#dccc8e' stroke-width='3.8' stroke-linecap='round'/>
<line x1='404.6' y1='209.7' x2='472.9' y2='200.8' stroke='#f4f0a6' stroke-width='2.09' stroke-linecap='round'/>
</g>
<defs><linearGradient id='fadeT' x1='0' y1='0' x2='0' y2='1'><stop offset='0' stop-color='#fff' stop-opacity='0'/><stop offset='1' stop-color='#fff' stop-opacity='1'/></linearGradient></defs>
<rect x='325' y='272' width='160' height='26' fill='url(#fadeT)'/>
<g clip-path='url(#dbot)'>
<line x1='413.8' y1='323.4' x2='469.8' y2='404' stroke='#cfa068' stroke-width='8.2' stroke-linecap='round'/>
<line x1='412.6' y1='324.2' x2='468.6' y2='404.8' stroke='#ecca90' stroke-width='4.51' stroke-linecap='round'/>
<line x1='392' y1='330' x2='440' y2='378' stroke='#cfa068' stroke-width='8.2' stroke-linecap='round'/>
<line x1='391.0' y1='331.0' x2='439.0' y2='379.0' stroke='#ecca90' stroke-width='4.51' stroke-linecap='round'/>
<line x1='405' y1='345' x2='430' y2='372' stroke='#cfa068' stroke-width='8.2' stroke-linecap='round'/>
<line x1='403.9' y1='346.0' x2='428.9' y2='373.0' stroke='#ecca90' stroke-width='4.51' stroke-linecap='round'/>
<line x1='473.3' y1='307' x2='360' y2='376' stroke='#cfa068' stroke-width='8.2' stroke-linecap='round'/>
<line x1='472.5' y1='305.7' x2='359.2' y2='374.7' stroke='#ecca90' stroke-width='4.51' stroke-linecap='round'/>
<line x1='371.7' y1='305.8' x2='460.5' y2='379.4' stroke='#cfa068' stroke-width='8.2' stroke-linecap='round'/>
<line x1='372.6' y1='304.7' x2='461.4' y2='378.3' stroke='#ecca90' stroke-width='4.51' stroke-linecap='round'/>
<line x1='331' y1='326' x2='357.5' y2='370' stroke='#cfa068' stroke-width='8.2' stroke-linecap='round'/>
<line x1='329.7' y1='326.8' x2='356.2' y2='370.8' stroke='#ecca90' stroke-width='4.51' stroke-linecap='round'/>
<line x1='360' y1='372' x2='395' y2='404' stroke='#cfa068' stroke-width='8.2' stroke-linecap='round'/>
<line x1='361.0' y1='370.9' x2='396.0' y2='402.9' stroke='#ecca90' stroke-width='4.51' stroke-linecap='round'/>
<line x1='368.9' y1='306.5' x2='362.4' y2='352' stroke='#e8c88c' stroke-width='8.2' stroke-linecap='round'/>
<line x1='367.4' y1='306.3' x2='360.9' y2='351.8' stroke='#f5f0a8' stroke-width='4.51' stroke-linecap='round'/>
<line x1='402.1' y1='314' x2='390.4' y2='404' stroke='#e8c88c' stroke-width='8.2' stroke-linecap='round'/>
<line x1='400.6' y1='313.8' x2='388.9' y2='403.8' stroke='#f5f0a8' stroke-width='4.51' stroke-linecap='round'/>
<line x1='357.7' y1='372' x2='346' y2='404' stroke='#e8c88c' stroke-width='8.2' stroke-linecap='round'/>
<line x1='356.3' y1='371.5' x2='344.6' y2='403.5' stroke='#f5f0a8' stroke-width='4.51' stroke-linecap='round'/>
<line x1='360' y1='368' x2='410' y2='356' stroke='#e8c88c' stroke-width='8.2' stroke-linecap='round'/>
<line x1='359.7' y1='366.6' x2='409.7' y2='354.6' stroke='#f5f0a8' stroke-width='4.51' stroke-linecap='round'/>
<line x1='357.7' y1='380' x2='462.8' y2='377.1' stroke='#e8c88c' stroke-width='8.2' stroke-linecap='round'/>
<line x1='357.7' y1='378.5' x2='462.8' y2='375.6' stroke='#f5f0a8' stroke-width='4.51' stroke-linecap='round'/>
<line x1='420' y1='380' x2='440' y2='404' stroke='#e8c88c' stroke-width='8.2' stroke-linecap='round'/>
<line x1='418.9' y1='380.9' x2='438.9' y2='404.9' stroke='#f5f0a8' stroke-width='4.51' stroke-linecap='round'/>
<line x1='473.3' y1='307' x2='462.8' y2='404' stroke='#e8c88c' stroke-width='8.2' stroke-linecap='round'/>
<line x1='471.8' y1='306.8' x2='461.3' y2='403.8' stroke='#f5f0a8' stroke-width='4.51' stroke-linecap='round'/>
<line x1='440' y1='330' x2='418' y2='404' stroke='#e8c88c' stroke-width='8.2' stroke-linecap='round'/>
<line x1='438.6' y1='329.6' x2='416.6' y2='403.6' stroke='#f5f0a8' stroke-width='4.51' stroke-linecap='round'/>
<line x1='329.7' y1='323.4' x2='395.1' y2='404' stroke='#e8c88c' stroke-width='8.2' stroke-linecap='round'/>
<line x1='328.6' y1='324.3' x2='394.0' y2='404.9' stroke='#f5f0a8' stroke-width='4.51' stroke-linecap='round'/>
<line x1='368.9' y1='306.5' x2='473.3' y2='307' stroke='#e8c88c' stroke-width='8.2' stroke-linecap='round'/>
<line x1='368.9' y1='305.0' x2='473.3' y2='305.5' stroke='#f5f0a8' stroke-width='4.51' stroke-linecap='round'/>
<line x1='329.7' y1='323.4' x2='368.9' y2='306.5' stroke='#e8c88c' stroke-width='8.2' stroke-linecap='round'/>
<line x1='329.1' y1='322.0' x2='368.3' y2='305.1' stroke='#f5f0a8' stroke-width='4.51' stroke-linecap='round'/>
<line x1='329.7' y1='323.4' x2='473.3' y2='307' stroke='#e8c88c' stroke-width='8.2' stroke-linecap='round'/>
<line x1='329.5' y1='321.9' x2='473.1' y2='305.5' stroke='#f5f0a8' stroke-width='4.51' stroke-linecap='round'/>
</g>
<defs><linearGradient id='fadeB' x1='0' y1='0' x2='0' y2='1'><stop offset='0' stop-color='#fff' stop-opacity='0'/><stop offset='1' stop-color='#fff' stop-opacity='1'/></linearGradient></defs>
<rect x='325' y='378' width='160' height='24' fill='url(#fadeB)'/>
<rect x='325' y='401' width='160' height='12' fill='#fff'/>
<line x1='331.5' y1='298.5' x2='480' y2='298.5' stroke='#111' stroke-width='1.3' stroke-dasharray='5 3.4'/>
<text transform='translate(374.5,243.5) rotate(-20.5)' font-family='Liberation Sans, sans-serif' font-size='9.8' font-weight='bold' fill='#f02a1e'>Not well defined</text>
<ellipse cx='419.3' cy='253' rx='20' ry='21' fill='none' stroke='#f02a1e' stroke-width='0.9' stroke-dasharray='2.5 2'/>
<line x1='431' y1='230' x2='431' y2='241' stroke='#f02a1e' stroke-width='1.6'/>
<polygon points='431,227.5 428.3,232.5 433.7,232.5' fill='#f02a1e'/><polygon points='431,243.5 428.3,238.5 433.7,238.5' fill='#f02a1e'/>
<line x1='408' y1='242.5' x2='432' y2='266' stroke='#f02a1e' stroke-width='1.6'/>
<polygon points='405.3,240 411.6,241.8 407.6,245.8' fill='#f02a1e'/><polygon points='434.6,268.6 428.3,266.8 432.3,262.8' fill='#f02a1e'/>
<line x1='436.8' y1='260' x2='436.8' y2='288' stroke='#f02a1e' stroke-width='1.6'/>
<polygon points='436.8,256.6 434,262 439.6,262' fill='#f02a1e'/><polygon points='436.8,291.6 434,286.2 439.6,286.2' fill='#f02a1e'/>
<text x='441' y='237.5' font-family='Liberation Serif, serif' font-size='18.5' fill='#f02a1e'>t ?</text>
<text x='386' y='270.8' font-family='Liberation Serif, serif' font-size='17' fill='#f02a1e'>d ?</text>
<text x='447' y='281.3' font-family='Liberation Serif, serif' font-size='16.5' fill='#f02a1e'>D ?</text>
<text transform='translate(341,332.5) rotate(-29.5)' font-family='Liberation Sans, sans-serif' font-size='10.4' font-weight='bold' fill='#111'>Helmholtz</text>
<text transform='translate(386,308) rotate(3)' font-family='Liberation Sans, sans-serif' font-size='9.9' font-weight='bold' fill='#111'>Resonance</text>
<text transform='translate(354,337.5) rotate(-20)' font-family='Liberation Sans, sans-serif' font-size='10.1' font-weight='bold' fill='#111'>parameters</text>
<ellipse cx='418' cy='359.5' rx='15.5' ry='16' fill='none' stroke='#222' stroke-width='0.9' stroke-dasharray='2.5 2'/>
<line x1='429.3' y1='331' x2='429.3' y2='346.5' stroke='#111' stroke-width='1.4'/>
<polygon points='429.3,327.7 426.6,333 432,333' fill='#111'/><polygon points='429.3,350 426.6,344.6 432,344.6' fill='#111'/>
<line x1='408' y1='351' x2='429.5' y2='362.8' stroke='#111' stroke-width='1.4'/>
<polygon points='405,349.4 411.2,349.8 408.6,354.6' fill='#111'/><polygon points='432.6,364.5 426.4,364.2 429,359.4' fill='#111'/>
<line x1='438.7' y1='356' x2='438.7' y2='393' stroke='#333' stroke-width='1.2'/>
<polygon points='438.7,352.2 436,357.6 441.4,357.6' fill='#222'/><polygon points='438.7,396.6 436,391.2 441.4,391.2' fill='#777'/>
<text x='437.5' y='344.5' font-family='Liberation Serif, serif' font-size='17' fill='#111'>t</text>
<text x='408.3' y='371.3' font-family='Liberation Serif, serif' font-size='17' fill='#111'>d</text>
<text x='444.5' y='381.5' font-family='Liberation Serif, serif' font-size='16' fill='#111'>D</text>
<g fill='none' stroke-width='1.5' stroke-linejoin='round'>
<path d='M522.5,361.1 C523.6,361.0 526.5,361.0 528.9,360.5 C531.4,360.1 534.5,359.3 537.3,358.3 C540.1,357.3 542.4,356.0 545.7,354.7 C548.9,353.4 553.1,351.9 556.8,350.5 C560.5,349.1 564.7,347.5 568.0,346.3 C571.2,345.2 573.5,344.2 576.3,343.5 C579.1,342.8 581.9,342.5 584.7,342.1 C587.5,341.8 590.3,342.0 593.0,341.6 C595.8,341.1 598.6,340.1 601.4,339.4 C604.2,338.6 607.0,338.0 609.8,337.1 C612.5,336.3 615.3,335.4 618.1,334.3 C620.9,333.3 623.7,331.8 626.5,331.0 C629.3,330.2 632.1,329.8 634.8,329.6 C637.6,329.4 640.4,329.7 643.2,329.6 C646.0,329.5 648.8,328.8 651.6,329.0 C654.4,329.3 657.1,330.3 659.9,331.0 C662.7,331.7 666.2,332.4 668.3,333.2 C670.4,334.1 671.1,335.3 672.5,336.0 C673.9,336.7 676.0,337.2 676.6,337.4' stroke='#3b8bd0'/>
<path d='M522.5,359.4 C523.6,359.2 526.5,359.1 528.9,358.3 C531.4,357.5 534.5,356.1 537.3,354.7 C540.1,353.3 542.9,351.8 545.7,349.9 C548.4,348.1 551.2,345.8 554.0,343.5 C556.8,341.3 559.6,338.9 562.4,336.6 C565.2,334.2 568.0,331.5 570.7,329.6 C573.5,327.7 576.3,326.6 579.1,325.4 C581.9,324.3 584.7,323.4 587.5,322.6 C590.3,321.8 593.0,321.2 595.8,320.7 C598.6,320.1 601.4,319.7 604.2,319.3 C607.0,318.9 609.8,318.6 612.5,318.5 C615.3,318.3 618.1,318.2 620.9,318.5 C623.7,318.7 626.5,319.5 629.3,319.8 C632.1,320.2 634.8,320.2 637.6,320.7 C640.4,321.1 643.2,321.9 646.0,322.6 C648.8,323.3 651.6,324.0 654.4,324.9 C657.1,325.7 659.9,327.0 662.7,327.6 C665.5,328.3 669.2,328.9 671.1,328.8 C672.9,328.6 672.9,327.4 673.9,326.8 C674.8,326.3 676.2,325.7 676.6,325.4' stroke='#d95a24'/>
<path d='M522.5,358.3 C523.6,358.0 526.5,357.7 528.9,356.6 C531.4,355.6 534.5,353.8 537.3,351.9 C540.1,349.9 542.9,347.6 545.7,344.9 C548.4,342.3 551.2,339.4 554.0,336.0 C556.8,332.7 559.6,328.1 562.4,324.9 C565.2,321.6 568.0,318.8 570.7,316.5 C573.5,314.2 576.3,312.2 579.1,310.9 C581.9,309.6 585.1,309.1 587.5,308.7 C589.8,308.3 590.7,308.3 593.0,308.7 C595.4,309.1 598.6,310.0 601.4,310.9 C604.2,311.9 607.0,313.2 609.8,314.3 C612.5,315.3 615.3,316.2 618.1,317.1 C620.9,317.9 623.7,318.5 626.5,319.3 C629.3,320.1 632.1,321.1 634.8,322.1 C637.6,323.1 640.4,324.4 643.2,325.4 C646.0,326.4 648.8,327.3 651.6,328.2 C654.4,329.1 657.4,330.0 659.9,331.0 C662.5,332.0 665.0,334.3 666.9,334.3 C668.8,334.3 669.9,332.5 671.1,331.0 C672.2,329.5 672.9,326.6 673.9,325.4 C674.8,324.3 676.2,324.3 676.6,324.0' stroke='#e8b62c'/>
<path d='M522.5,356.6 C523.6,356.4 526.5,356.3 528.9,355.2 C531.4,354.2 534.5,352.9 537.3,350.5 C540.1,348.1 542.9,344.7 545.7,340.7 C548.4,336.8 551.2,332.2 554.0,326.8 C556.8,321.5 560.1,314.0 562.4,308.7 C564.7,303.4 566.3,298.7 568.0,294.8 C569.6,290.8 570.7,287.1 572.1,285.0 C573.5,282.9 574.9,282.6 576.3,282.2 C577.7,281.8 579.1,282.0 580.5,282.8 C581.9,283.6 583.1,285.0 584.7,287.0 C586.3,289.0 588.4,292.1 590.3,294.8 C592.1,297.5 594.0,300.7 595.8,303.1 C597.7,305.5 599.5,307.5 601.4,309.3 C603.3,311.0 604.7,312.2 607.0,313.7 C609.3,315.2 612.5,317.2 615.3,318.5 C618.1,319.7 620.9,320.3 623.7,321.2 C626.5,322.2 629.3,323.2 632.1,324.0 C634.8,324.9 637.6,325.6 640.4,326.3 C643.2,327.0 646.0,327.6 648.8,328.2 C651.6,328.8 654.4,329.1 657.1,329.6 C659.9,330.1 663.4,331.1 665.5,331.0 C667.6,330.9 668.3,330.6 669.7,328.8 C671.1,326.9 672.7,321.8 673.9,319.8 C675.0,317.9 676.2,317.5 676.6,317.1' stroke='#8030a0'/>
</g>
<rect x='522.5' y='210.3' width='154.1' height='159.7' fill='none' stroke='#333' stroke-width='1'/>
<g stroke='#333' stroke-width='0.8'>
<line x1='522.5' y1='370.0' x2='524.5' y2='370.0'/><line x1='676.6' y1='370.0' x2='674.6' y2='370.0'/>
<text x='520.0' y='372.8' font-family='Liberation Sans, sans-serif' font-size='7.8' font-weight='normal' text-anchor='end' fill='#333' stroke='none'>0</text>
<line x1='522.5' y1='338.1' x2='524.5' y2='338.1'/><line x1='676.6' y1='338.1' x2='674.6' y2='338.1'/>
<text x='520.0' y='340.86' font-family='Liberation Sans, sans-serif' font-size='7.8' font-weight='normal' text-anchor='end' fill='#333' stroke='none'>0.2</text>
<line x1='522.5' y1='306.1' x2='524.5' y2='306.1'/><line x1='676.6' y1='306.1' x2='674.6' y2='306.1'/>
<text x='520.0' y='308.92' font-family='Liberation Sans, sans-serif' font-size='7.8' font-weight='normal' text-anchor='end' fill='#333' stroke='none'>0.4</text>
<line x1='522.5' y1='274.2' x2='524.5' y2='274.2'/><line x1='676.6' y1='274.2' x2='674.6' y2='274.2'/>
<text x='520.0' y='276.98' font-family='Liberation Sans, sans-serif' font-size='7.8' font-weight='normal' text-anchor='end' fill='#333' stroke='none'>0.6</text>
<line x1='522.5' y1='242.2' x2='524.5' y2='242.2'/><line x1='676.6' y1='242.2' x2='674.6' y2='242.2'/>
<text x='520.0' y='245.04000000000002' font-family='Liberation Sans, sans-serif' font-size='7.8' font-weight='normal' text-anchor='end' fill='#333' stroke='none'>0.8</text>
<line x1='522.5' y1='210.3' x2='524.5' y2='210.3'/><line x1='676.6' y1='210.3' x2='674.6' y2='210.3'/>
<text x='520.0' y='213.10000000000002' font-family='Liberation Sans, sans-serif' font-size='7.8' font-weight='normal' text-anchor='end' fill='#333' stroke='none'>1</text>
<line x1='522.5' y1='370' x2='522.5' y2='368'/><line x1='522.5' y1='210.3' x2='522.5' y2='212.3'/>
<text x='522.5' y='380.5' font-family='Liberation Sans, sans-serif' font-size='7.8' font-weight='normal' text-anchor='middle' fill='#333' stroke='none'>1000</text>
<line x1='551.5' y1='370' x2='551.5' y2='368'/><line x1='551.5' y1='210.3' x2='551.5' y2='212.3'/>
<text x='551.55' y='380.5' font-family='Liberation Sans, sans-serif' font-size='7.8' font-weight='normal' text-anchor='middle' fill='#333' stroke='none'>2000</text>
<line x1='580.6' y1='370' x2='580.6' y2='368'/><line x1='580.6' y1='210.3' x2='580.6' y2='212.3'/>
<text x='580.6' y='380.5' font-family='Liberation Sans, sans-serif' font-size='7.8' font-weight='normal' text-anchor='middle' fill='#333' stroke='none'>3000</text>
<line x1='609.6' y1='370' x2='609.6' y2='368'/><line x1='609.6' y1='210.3' x2='609.6' y2='212.3'/>
<text x='609.65' y='380.5' font-family='Liberation Sans, sans-serif' font-size='7.8' font-weight='normal' text-anchor='middle' fill='#333' stroke='none'>4000</text>
<line x1='638.7' y1='370' x2='638.7' y2='368'/><line x1='638.7' y1='210.3' x2='638.7' y2='212.3'/>
<text x='638.7' y='380.5' font-family='Liberation Sans, sans-serif' font-size='7.8' font-weight='normal' text-anchor='middle' fill='#333' stroke='none'>5000</text>
<line x1='667.8' y1='370' x2='667.8' y2='368'/><line x1='667.8' y1='210.3' x2='667.8' y2='212.3'/>
<text x='667.75' y='380.5' font-family='Liberation Sans, sans-serif' font-size='7.8' font-weight='normal' text-anchor='middle' fill='#333' stroke='none'>6000</text>
</g>
<text x='599.3' y='208.2' font-family='Liberation Sans, sans-serif' font-size='8.8' font-weight='bold' text-anchor='middle' fill='#222' >Octet; L=6mm</text>
<line x1='623.1' y1='220.3' x2='634.3' y2='220.3' stroke='#3b8bd0' stroke-width='1.5'/>
<text x='635.7' y='223.8' font-family='Liberation Sans, sans-serif' font-size='9.6' font-weight='normal' text-anchor='start' fill='#222' >RD 10%</text>
<line x1='623.1' y1='232.9' x2='634.3' y2='232.9' stroke='#d95a24' stroke-width='1.5'/>
<text x='635.7' y='236.4' font-family='Liberation Sans, sans-serif' font-size='9.6' font-weight='normal' text-anchor='start' fill='#222' >RD 20%</text>
<line x1='623.1' y1='244.6' x2='634.3' y2='244.6' stroke='#e8b62c' stroke-width='1.5'/>
<text x='635.7' y='248.1' font-family='Liberation Sans, sans-serif' font-size='9.6' font-weight='normal' text-anchor='start' fill='#222' >RD 30%</text>
<line x1='623.1' y1='257.1' x2='634.3' y2='257.1' stroke='#8030a0' stroke-width='1.5'/>
<text x='635.7' y='260.6' font-family='Liberation Sans, sans-serif' font-size='9.6' font-weight='normal' text-anchor='start' fill='#222' >RD 40%</text>
<text transform='translate(502,295.5) rotate(-90)' font-family='Liberation Sans, sans-serif' font-size='16' text-anchor='middle'>Absorption coefficient α</text>
<text x='601' y='397.5' font-family='Liberation Sans, sans-serif' font-size='15' font-weight='normal' text-anchor='middle' fill='#000' >Frequency (Hz)</text>
<g stroke='#111' stroke-width='2' stroke-dasharray='6 3.5' fill='none'>
<line x1='477' y1='247' x2='563.5' y2='335.5'/>
<line x1='477' y1='345' x2='572.5' y2='288'/>
</g>
<polygon points='568.5,341 557.8,336.8 564.8,330' fill='#111'/>
<polygon points='578,284.8 570.2,292.7 566.2,284.3' fill='#111'/>
<text x='302' y='441.7' font-family='Liberation Sans, sans-serif' font-size='25.6' font-weight='normal' text-anchor='start' fill='#000' >(e)</text>
<polygon points='359.7,429.9 365.3,420.2 370.9,420.5 376.4,426.6 372.5,431.6 367.5,430.5' fill='#b4ece4' />
<polygon points='364.7,420.0 370.9,420.0 372.2,421.8 365.6,421.8' fill='#e8fcf8' />
<polygon points='388.1,426.6 406.5,424.0 411.5,430.3 409.0,446.3 401.5,447.8 389.8,439.6' fill='#ffffff' stroke='#9fd6ce' stroke-width='0.7'/>
<polygon points='409.9,429.6 411.7,430.7 409.2,446.8 407.6,446.1' fill='#b4ece4' />
<polygon points='383.7,431.6 388.1,427.1 390.0,434.4' fill='#6e928e' />
<polygon points='398.7,453.9 405.4,452.2 411.4,462.6 409.9,468.4 401.0,474.2 399.3,462.8' fill='#6e928e' />
<polygon points='405.4,452.2 407.1,452.8 411.7,462.8 410.1,463.4' fill='#b4ece4' />
<polygon points='389.6,438.3 393.7,436.7 407.6,459.7 404.1,461.9' fill='#b4ece4' />
<polygon points='404.1,461.9 407.6,459.7 408.1,461.1 405.0,463.0' fill='#8cc8c0' />
<ellipse cx='399.3' cy='458.1' rx='4.5' ry='2.9' fill='#ffffff' stroke='#9fd6ce' stroke-width='0.7'/>
<polygon points='351.7,432.5 368.9,430.7 375.1,438.1 373.3,448.5 365.8,451.9 349.1,438.8' fill='#ffffff' stroke='#9fd6ce' stroke-width='0.7'/>
<polygon points='351.4,431.6 368.9,430.0 369.7,431.4 351.9,432.9' fill='#e4faf6' />
<polygon points='347.5,437.0 349.9,438.3 366.4,452.8 364.7,455.0' fill='#b4ece4' />
<polygon points='347.5,438.3 364.7,455.0 363.6,456.7 347.2,441.9' fill='#8cc8c0' />
<polygon points='347.5,436.1 351.4,432.2 351.9,433.8 349.1,438.3 347.5,438.3' fill='#b4ece4' />
<polygon points='371.1,428.5 375.5,425.6 381.8,435.6 377.0,438.1' fill='#b4ece4' />
<ellipse cx='376.4' cy='432.2' rx='1.8' ry='3.3' fill='#ffffff' />
<polygon points='372.2,438.1 388.5,432.2 391.1,438.8 398.7,445.9 392.9,451.9 380.9,458.9 376.4,461.1 369.5,453.3 370.9,443.9' fill='#b4ece4' />
<polygon points='378.9,455.9 392.9,445.9 399.1,446.8 401.2,449.4 395.6,456.8 387.0,459.2' fill='#6e928e' />
<ellipse cx='391.5' cy='441.4' rx='3.3' ry='2.9' fill='#ffffff' stroke='#9fd6ce' stroke-width='0.7'/>
<polygon points='390.0,442.7 391.8,440.1 393.2,442.7' fill='#3a5a58'/>
<polygon points='376.4,468.4 389.8,460.6 400.4,465.0 399.0,479.8 391.1,483.5 385.6,482.4' fill='#ffffff' stroke='#9fd6ce' stroke-width='0.7'/>
<polygon points='400.4,465.0 401.8,465.5 400.1,480.4 398.7,479.8' fill='#b4ece4' />
<polygon points='347.5,463.9 355.3,455.0 364.4,453.9 367.3,462.8 357.7,473.1 348.0,474.8' fill='#b4ece4' />
<polygon points='348.0,474.8 357.7,473.1 370.3,468.4 375.5,469.5 373.3,478.0 355.3,482.0' fill='#6e928e' />
<polygon points='347.2,463.9 348.0,474.8 355.3,482.0 354.1,482.9 347.0,476.2' fill='#8cc8c0' />
<polygon points='362.6,453.7 367.7,449.4 395.6,481.8 392.0,485.3' fill='#b4ece4' />
<polygon points='362.6,453.7 392.0,485.3 390.5,486.2 361.7,455.2' fill='#8cc8c0' />
<ellipse cx='368.9' cy='456.3' rx='4.5' ry='6.2' fill='#ffffff' stroke='#9fd6ce' stroke-width='0.7'/>
<ellipse cx='366.9' cy='455.2' rx='1.8' ry='4.0' fill='#6a9e98' />
<ellipse cx='375.5' cy='462.8' rx='5.6' ry='4.0' fill='#c8f8f4' />
<ellipse cx='375.3' cy='464.1' rx='4.0' ry='2.5' fill='#a4e4dc' />
<polygon points='359.7,510.9 365.3,501.2 370.9,501.5 376.4,507.6 372.5,512.6 367.5,511.5' fill='#88b4b0' />
<polygon points='364.7,501.0 370.9,501.0 372.2,502.8 365.6,502.8' fill='#e8fcf8' />
<polygon points='388.1,507.6 406.5,505.0 411.5,511.3 409.0,527.3 401.5,528.8 389.8,520.6' fill='#ffffff' stroke='#9fd6ce' stroke-width='0.7'/>
<polygon points='409.9,510.6 411.7,511.7 409.2,527.8 407.6,527.1' fill='#b4ece4' />
<polygon points='383.7,512.6 388.1,508.1 390.0,515.4' fill='#4a5e5c' />
<polygon points='398.7,534.9 405.4,533.2 411.4,543.6 409.9,549.4 401.0,555.2 399.3,543.8' fill='#4a5e5c' />
<polygon points='405.4,533.2 407.1,533.8 411.7,543.8 410.1,544.4' fill='#b4ece4' />
<polygon points='389.6,519.3 393.7,517.7 407.6,540.7 404.1,542.9' fill='#b4ece4' />
<polygon points='404.1,542.9 407.6,540.7 408.1,542.1 405.0,544.0' fill='#8cc8c0' />
<ellipse cx='399.3' cy='539.1' rx='4.5' ry='2.9' fill='#ffffff' stroke='#9fd6ce' stroke-width='0.7'/>
<polygon points='351.7,513.5 368.9,511.7 375.1,519.1 373.3,529.5 365.8,532.9 349.1,519.8' fill='#ffffff' stroke='#9fd6ce' stroke-width='0.7'/>
<polygon points='351.4,512.6 368.9,511.0 369.7,512.4 351.9,513.9' fill='#e4faf6' />
<polygon points='347.5,518.0 349.9,519.3 366.4,533.8 364.7,536.0' fill='#b4ece4' />
<polygon points='347.5,519.3 364.7,536.0 363.6,537.7 347.2,522.9' fill='#8cc8c0' />
<polygon points='347.5,517.1 351.4,513.2 351.9,514.8 349.1,519.3 347.5,519.3' fill='#b4ece4' />
<polygon points='371.1,509.5 375.5,506.6 381.8,516.6 377.0,519.1' fill='#b4ece4' />
<ellipse cx='376.4' cy='513.2' rx='1.8' ry='3.3' fill='#ffffff' />
<polygon points='372.2,519.1 388.5,513.2 391.1,519.8 398.7,526.9 392.9,532.9 380.9,539.9 376.4,542.1 369.5,534.3 370.9,524.9' fill='#88b4b0' />
<polygon points='378.9,536.9 392.9,526.9 399.1,527.8 401.2,530.4 395.6,537.8 387.0,540.2' fill='#4a5e5c' />
<ellipse cx='391.5' cy='522.4' rx='3.3' ry='2.9' fill='#ffffff' stroke='#9fd6ce' stroke-width='0.7'/>
<polygon points='390.0,523.7 391.8,521.1 393.2,523.7' fill='#3a5a58'/>
<polygon points='376.4,549.4 389.8,541.6 400.4,546.0 399.0,560.8 391.1,564.5 385.6,563.4' fill='#ffffff' stroke='#9fd6ce' stroke-width='0.7'/>
<polygon points='400.4,546.0 401.8,546.5 400.1,561.4 398.7,560.8' fill='#b4ece4' />
<polygon points='347.5,544.9 355.3,536.0 364.4,534.9 367.3,543.8 357.7,554.1 348.0,555.8' fill='#88b4b0' />
<polygon points='348.0,555.8 357.7,554.1 370.3,549.4 375.5,550.5 373.3,559.0 355.3,563.0' fill='#4a5e5c' />
<polygon points='347.2,544.9 348.0,555.8 355.3,563.0 354.1,563.9 347.0,557.2' fill='#8cc8c0' />
<polygon points='362.6,534.7 367.7,530.4 395.6,562.8 392.0,566.3' fill='#b4ece4' />
<polygon points='362.6,534.7 392.0,566.3 390.5,567.2 361.7,536.2' fill='#8cc8c0' />
<ellipse cx='378.1' cy='509.8' rx='8.4' ry='3.1' fill='#e9b47c' />
<ellipse cx='378.1' cy='509.5' rx='6.2' ry='2.0' fill='#cf9258' />
<polygon points='370.6,510.9 385.6,510.9 378.4,518.7 376.4,518.7' fill='#dfa468' />
<polygon points='351.0,528.8 356.4,528.0 357.5,535.5 351.4,536.0' fill='#e2a66a' />
<ellipse cx='402.1' cy='536.6' rx='4.5' ry='9.8' fill='#e6ac72' />
<ellipse cx='403.2' cy='536.6' rx='2.7' ry='7.4' fill='#c48a50' />
<ellipse cx='398.5' cy='536.6' rx='2.2' ry='6.7' fill='#ecbc84' />
<ellipse cx='370.3' cy='541.0' rx='10.3' ry='9.8' fill='#d99c60' />
<ellipse cx='370.6' cy='541.6' rx='7.6' ry='7.1' fill='#f2cc94' />
<ellipse cx='372.2' cy='542.1' rx='5.3' ry='5.1' fill='#e0aa6c' />
<polygon points='371.4,557.2 380.3,557.2 379.2,561.6 372.5,561.6' fill='#e2a86c' />
<defs><linearGradient id='ovt' x1='0' x2='1'><stop offset='0' stop-color='#f4c890'/><stop offset='0.5' stop-color='#edb87c'/><stop offset='1' stop-color='#d9a064'/></linearGradient><linearGradient id='oht' x1='0' y1='0' x2='0' y2='1'><stop offset='0' stop-color='#f8e4a8'/><stop offset='0.5' stop-color='#f2c88c'/><stop offset='1' stop-color='#dca466'/></linearGradient></defs>
<ellipse cx='393.5' cy='601.8' rx='5.3' ry='5.3' fill='#f6eab0' />
<polygon points='354.1,601.2 370.6,601.2 370.6,621.2 354.1,621.2' fill='url(#oht)'/>
<ellipse cx='354.1' cy='611.2' rx='2.1' ry='10.0' fill='#f8e6a8' />
<polygon points='369.4,590.2 390.0,590.2 390.0,640.6 369.4,640.6' fill='url(#ovt)'/>
<ellipse cx='379.6' cy='640.6' rx='10.2' ry='2.6' fill='#dca466' />
<ellipse cx='379.6' cy='590.2' rx='10.2' ry='2.9' fill='#f6d8a0' />
<ellipse cx='379.6' cy='590.2' rx='7.3' ry='1.9' fill='#e4aa6c' />
<polygon points='384.7,605.9 404.1,607.1 404.1,626.5 384.7,627.1' fill='url(#oht)'/>
<ellipse cx='404.1' cy='616.7' rx='3.3' ry='10.0' fill='#e6b070' />
<ellipse cx='404.7' cy='616.7' rx='1.9' ry='7.3' fill='#f8e2a4' />
<ellipse cx='372.7' cy='620.4' rx='10.8' ry='10.4' fill='#e2aa6c' />
<ellipse cx='372.0' cy='620.8' rx='8.0' ry='7.5' fill='#f6dc9c' />
<ellipse cx='372.9' cy='619.9' rx='5.6' ry='5.2' fill='#f0c888' />
<polygon points='374,486 381.8,486 381.8,492.6 385.4,492.6 377.9,499.2 370.3,492.6 374,492.6' fill='#7c7c7c'/>
<polygon points='374,579.2 381.8,579.2 381.8,573 385.4,573 377.9,566.3 370.3,573 374,573' fill='#7c7c7c'/>
<rect x='447.5' y='443.9' width='228.7' height='82.7' fill='#f4bff4'/>
<rect x='447.5' y='536.9' width='228.7' height='1.3' fill='#f2b6f2'/>
<rect x='447.5' y='554.4' width='228.7' height='2.4' fill='#f2b6f2'/>
<rect x='447.5' y='572.3' width='228.7' height='2.4' fill='#f2b6f2'/>
<line x1='447.5' y1='468.2' x2='552.5' y2='468.2' stroke='#111' stroke-width='1.3' stroke-dasharray='4.5 2.5'/>
<line x1='447.5' y1='508.0' x2='552.5' y2='508.0' stroke='#111' stroke-width='1.3' stroke-dasharray='4.5 2.5'/>
<line x1='447.5' y1='594.8' x2='552.5' y2='594.8' stroke='#111' stroke-width='1.3' stroke-dasharray='4.5 2.5'/>
<path d='M511.0,429.2 C510.5,429.8 510.8,431.5 508.2,432.8 C505.7,434.0 500.6,435.7 495.7,436.7 C490.8,437.7 479.9,438.3 479.0,438.9 C478.0,439.5 485.5,439.8 490.1,440.3 C494.8,440.9 501.7,441.1 506.8,442.3 C511.9,443.4 516.6,445.0 520.7,447.3 C524.9,449.5 528.9,452.8 531.9,455.6 C534.9,458.4 537.2,461.0 538.8,464.0 C540.5,467.0 541.4,470.5 541.6,473.7 C541.8,477.0 541.2,480.2 540.2,483.5 C539.3,486.7 537.9,490.0 536.0,493.2 C534.2,496.5 531.6,500.2 529.1,503.0 C526.5,505.7 523.5,507.8 520.7,509.9 C518.0,512.0 515.2,513.9 512.4,515.5 C509.6,517.0 509.1,518.3 504.0,519.1 C498.9,519.9 487.3,519.7 481.8,520.2 C476.2,520.7 472.9,521.3 470.6,521.9 C468.3,522.5 467.7,523.2 467.8,523.8 C467.9,524.5 472.1,525.2 471.2,525.8 C470.3,526.4 464.7,526.8 462.3,527.4 C459.9,528.1 457.2,528.6 456.7,529.4 C456.2,530.2 459.7,531.4 459.5,532.2 C459.3,533.0 455.5,533.4 455.3,534.1 C455.1,534.8 458.6,535.5 458.1,536.4 C457.6,537.2 453.9,538.0 452.5,539.1 C451.1,540.3 450.4,541.9 449.7,543.3 C449.0,544.7 447.7,546.1 448.4,547.5 C449.0,548.9 452.1,550.3 453.9,551.7 C455.8,553.1 458.2,554.7 459.5,555.8 C460.8,557.0 461.7,557.5 461.7,558.6 C461.7,559.8 460.8,561.4 459.5,562.8 C458.2,564.2 455.5,565.8 453.9,567.0 C452.3,568.1 449.3,568.8 449.7,569.8 C450.2,570.7 451.4,571.9 456.7,572.6 C462.0,573.2 472.1,573.6 481.8,573.9 C491.4,574.3 514.6,574.3 514.6,574.5 C514.6,574.7 490.5,575.0 481.8,575.3 C473.0,575.7 467.4,576.0 462.3,576.7 C457.2,577.4 453.4,578.4 451.1,579.5 C448.9,580.7 448.9,582.3 448.9,583.7 C448.9,585.1 450.5,586.5 451.1,587.9 C451.7,589.3 452.5,590.6 452.5,592.0 C452.5,593.4 451.7,594.8 451.1,596.2 C450.5,597.6 449.5,599.2 448.9,600.4 C448.3,601.5 447.7,602.7 447.5,603.2' fill='none' stroke='#5a5af0' stroke-width='1.1'/>
<text x='487' y='459.5' font-family='Liberation Serif, serif' font-size='9' font-style='italic' fill='#333'>f<tspan font-size='6' dy='1.5'>B</tspan><tspan dy='-1.5' font-style='normal'> =</tspan></text>
<text x='506.5' y='453.5' font-family='Liberation Serif, serif' font-size='7.5' font-style='italic' fill='#333' text-anchor='middle'>c</text>
<line x1='503.5' y1='455.6' x2='513.5' y2='455.6' stroke='#333' stroke-width='0.6'/>
<text x='508.5' y='462.8' font-family='Liberation Serif, serif' font-size='7.5' font-style='italic' fill='#333' text-anchor='middle'>2L</text>
<text x='460.9' y='503.3' font-family='Liberation Serif, serif' font-size='7.9' font-weight='normal' text-anchor='start' fill='#333' >Bragg scattering</text>
<text x='538.8' y='505' font-family='Liberation Serif, serif' font-size='7.9' font-weight='normal' text-anchor='start' fill='#333' >III.</text>
<text x='479' y='570.2' font-family='Liberation Serif, serif' font-size='7.7' font-weight='normal' text-anchor='start' fill='#333' >Local resonance</text>
<text x='538.8' y='570.2' font-family='Liberation Serif, serif' font-size='7.9' font-weight='normal' text-anchor='start' fill='#333' >II.</text>
<text x='479' y='591.3' font-family='Liberation Serif, serif' font-size='7.9' font-weight='normal' text-anchor='start' fill='#333' >No attenuation</text>
<text x='541' y='591.3' font-family='Liberation Serif, serif' font-size='7.9' font-weight='normal' text-anchor='start' fill='#333' >I.</text>
<g fill='none' stroke-width='1'>
<path d='M572.2,442.2 C575.7,441.9 585.3,441.7 593.6,440.8 C602.0,439.8 612.7,437.9 622.3,436.5 C631.8,435.0 643.5,433.5 650.9,432.2 C658.3,430.8 664.0,429.1 666.7,428.4' stroke='#111'/>
<path d='M572.2,603.1 L676.1,580.2' stroke='#111'/>
<path d='M572.2,603.1 L633.7,574.5 L642.3,572.8 L676.1,580.2' stroke='#e02020'/>
<path d='M572.2,569.6 L623.7,572.5 L642.9,572.8 L676.1,555.9' stroke='#40e040'/>
<path d='M572.2,538.1 L623.7,537.3 L676.1,555.9' stroke='#3030f0'/>
<path d='M572.2,528.1 L676.1,527.5' stroke='#333'/>
<path d='M572.2,529.0 L676.1,528.7' stroke='#2a8a8a'/>
<path d='M572.2,529.8 L676.1,529.8' stroke='#80c040'/>
<path d='M572.2,531.0 L622.3,531.5 L676.1,531.2' stroke='#c0e040'/>
<path d='M572.2,531.5 L608.0,532.4 L676.1,536.1' stroke='#40e0e0'/>
<path d='M572.2,532.7 L676.1,534.7' stroke='#e040e0'/>
<path d='M572.2,533.2 L676.1,533.8' stroke='#70a0f0'/>
</g>
<rect x='587.3' y='481.4' width='79.4' height='32.4' fill='#fff' stroke='#222' stroke-width='0.7'/>
<path d='M587.9,481.4 L642.9,500.9 L656.1,481.4' fill='none' stroke='#40e040' stroke-width='1'/>
<path d='M634.3,513.8 L642.9,501.7 L666.7,512.3' fill='none' stroke='#e02020' stroke-width='1'/>
<rect x='623.7' y='572.3' width='20.1' height='3' fill='none' stroke='#222' stroke-width='0.6'/>
<path d='M623.7,572.3 L587.3,513.8 M643.8,572.3 L666.7,513.8' stroke='#222' stroke-width='0.5' stroke-dasharray='1.5 1.2' fill='none'/>
<rect x='447.5' y='429.1' width='105.0' height='174.1' fill='none' stroke='#333' stroke-width='0.9'/>
<g stroke='#333' stroke-width='0.8'>
<line x1='444.2' y1='603.2' x2='450.8' y2='603.2'/>
<line x1='445.9' y1='587.3' x2='449.1' y2='587.3'/>
<line x1='444.2' y1='571.4' x2='450.8' y2='571.4'/>
<line x1='445.9' y1='555.6' x2='449.1' y2='555.6'/>
<line x1='444.2' y1='539.7' x2='450.8' y2='539.7'/>
<line x1='445.9' y1='523.8' x2='449.1' y2='523.8'/>
<line x1='444.2' y1='507.9' x2='450.8' y2='507.9'/>
<line x1='445.9' y1='492.0' x2='449.1' y2='492.0'/>
<line x1='444.2' y1='476.2' x2='450.8' y2='476.2'/>
<line x1='445.9' y1='460.3' x2='449.1' y2='460.3'/>
<line x1='444.2' y1='444.4' x2='450.8' y2='444.4'/>
</g>
<rect x='571.8' y='429.1' width='104.4' height='174.1' fill='none' stroke='#333' stroke-width='0.9'/>
<g stroke='#333' stroke-width='0.8'>
<line x1='568.5' y1='603.2' x2='575.0999999999999' y2='603.2'/>
<line x1='570.1999999999999' y1='587.3' x2='573.4' y2='587.3'/>
<line x1='568.5' y1='571.4' x2='575.0999999999999' y2='571.4'/>
<line x1='570.1999999999999' y1='555.6' x2='573.4' y2='555.6'/>
<line x1='568.5' y1='539.7' x2='575.0999999999999' y2='539.7'/>
<line x1='570.1999999999999' y1='523.8' x2='573.4' y2='523.8'/>
<line x1='568.5' y1='507.9' x2='575.0999999999999' y2='507.9'/>
<line x1='570.1999999999999' y1='492.0' x2='573.4' y2='492.0'/>
<line x1='568.5' y1='476.2' x2='575.0999999999999' y2='476.2'/>
<line x1='570.1999999999999' y1='460.3' x2='573.4' y2='460.3'/>
<line x1='568.5' y1='444.4' x2='575.0999999999999' y2='444.4'/>
</g>
<text x='441.6' y='606.8000000000001' font-family='Liberation Serif, serif' font-size='11' font-weight='normal' text-anchor='end' fill='#222' >0</text>
<text x='441.6' y='575.0400000000001' font-family='Liberation Serif, serif' font-size='11' font-weight='normal' text-anchor='end' fill='#222' >2</text>
<text x='441.6' y='543.2800000000001' font-family='Liberation Serif, serif' font-size='11' font-weight='normal' text-anchor='end' fill='#222' >4</text>
<text x='441.6' y='511.5200000000001' font-family='Liberation Serif, serif' font-size='11' font-weight='normal' text-anchor='end' fill='#222' >6</text>
<text x='441.6' y='479.76000000000005' font-family='Liberation Serif, serif' font-size='11' font-weight='normal' text-anchor='end' fill='#222' >8</text>
<text x='441.6' y='448.00000000000006' font-family='Liberation Serif, serif' font-size='11' font-weight='normal' text-anchor='end' fill='#222' >10</text>
<text x='447.5' y='618.2' font-family='Liberation Serif, serif' font-size='11.5' font-weight='normal' text-anchor='middle' fill='#222' >0</text>
<line x1='447.5' y1='603.2' x2='447.5' y2='605.7' stroke='#333' stroke-width='0.8'/>
<text x='486.1' y='618.2' font-family='Liberation Serif, serif' font-size='11.5' font-weight='normal' text-anchor='middle' fill='#222' >20</text>
<line x1='486.1' y1='603.2' x2='486.1' y2='605.7' stroke='#333' stroke-width='0.8'/>
<text x='524.7' y='618.2' font-family='Liberation Serif, serif' font-size='11.5' font-weight='normal' text-anchor='middle' fill='#222' >40</text>
<line x1='524.7' y1='603.2' x2='524.7' y2='605.7' stroke='#333' stroke-width='0.8'/>
<text x='571.8' y='618.2' font-family='Liberation Serif, serif' font-size='11.5' font-weight='normal' text-anchor='middle' fill='#222' >0.0</text>
<line x1='571.8' y1='603.2' x2='571.8' y2='605.7' stroke='#333' stroke-width='0.8'/>
<text x='624' y='618.2' font-family='Liberation Serif, serif' font-size='11.5' font-weight='normal' text-anchor='middle' fill='#222' >0.5</text>
<line x1='624' y1='603.2' x2='624' y2='605.7' stroke='#333' stroke-width='0.8'/>
<text x='676.2' y='618.2' font-family='Liberation Serif, serif' font-size='11.5' font-weight='normal' text-anchor='middle' fill='#222' >1.0</text>
<line x1='676.2' y1='603.2' x2='676.2' y2='605.7' stroke='#333' stroke-width='0.8'/>
<text x='504.4' y='639.5' font-family='Liberation Serif, serif' font-size='14' font-weight='normal' text-anchor='middle' fill='#000' >STL [dB]</text>
<text x='623.3' y='639.5' font-family='Liberation Serif, serif' font-size='15.9' font-weight='normal' text-anchor='middle' fill='#000' >k [L/π]</text>
<text transform='translate(429,525.8) rotate(-90)' font-family='Liberation Serif, serif' font-size='15.8' text-anchor='middle'>Frequency [kHz]</text>
</svg></body></html>
